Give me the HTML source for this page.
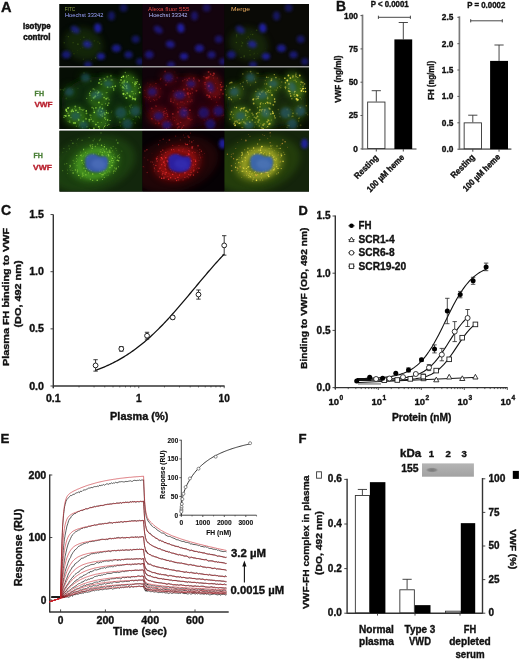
<!DOCTYPE html>
<html><head><meta charset="utf-8"><style>
html,body{margin:0;padding:0;background:#fff;}
svg{display:block;filter:blur(0.35px);}
text{font-family:"Liberation Sans", sans-serif;font-weight:bold;fill:#111;stroke:#111;stroke-width:0.35px;}
</style></head><body>
<svg width="520" height="659" viewBox="0 0 520 659">
<text x="0.90" y="11.60" font-size="14.6">A</text>
<text x="335.90" y="10.80" font-size="13.9">B</text>
<text x="1.00" y="215.40" font-size="14.0">C</text>
<text x="298.60" y="215.00" font-size="12.9">D</text>
<text x="0.50" y="442.80" font-size="13.3">E</text>
<text x="298.60" y="442.60" font-size="13.2">F</text>
<line x1="362.50" y1="14.60" x2="362.50" y2="149.80" stroke="#7a7a7a" stroke-width="1.7"/>
<line x1="362.50" y1="149.00" x2="416.50" y2="149.00" stroke="#7a7a7a" stroke-width="1.7"/>
<line x1="360.50" y1="15.60" x2="362.50" y2="15.60" stroke="#555" stroke-width="1.0"/>
<text x="357.90" y="18.55" font-size="8.3" text-anchor="end">100</text>
<line x1="360.50" y1="48.90" x2="362.50" y2="48.90" stroke="#555" stroke-width="1.0"/>
<text x="357.90" y="51.85" font-size="8.3" text-anchor="end">75</text>
<line x1="360.50" y1="82.20" x2="362.50" y2="82.20" stroke="#555" stroke-width="1.0"/>
<text x="357.90" y="85.15" font-size="8.3" text-anchor="end">50</text>
<line x1="360.50" y1="115.50" x2="362.50" y2="115.50" stroke="#555" stroke-width="1.0"/>
<text x="357.90" y="118.45" font-size="8.3" text-anchor="end">25</text>
<line x1="360.50" y1="148.90" x2="362.50" y2="148.90" stroke="#555" stroke-width="1.0"/>
<text x="357.90" y="151.85" font-size="8.3" text-anchor="end">0</text>
<line x1="376.30" y1="149.00" x2="376.30" y2="151.50" stroke="#333" stroke-width="0.9"/>
<line x1="403.30" y1="149.00" x2="403.30" y2="151.50" stroke="#333" stroke-width="0.9"/>
<line x1="376.30" y1="101.60" x2="376.30" y2="90.70" stroke="#333" stroke-width="0.9"/>
<line x1="371.70" y1="90.70" x2="380.90" y2="90.70" stroke="#333" stroke-width="0.9"/>
<rect x="367.65" y="102.05" width="17.30" height="46.50" fill="#fff" stroke="#333" stroke-width="0.9"/>
<line x1="403.30" y1="39.40" x2="403.30" y2="22.50" stroke="#333" stroke-width="0.9"/>
<line x1="398.70" y1="22.50" x2="407.90" y2="22.50" stroke="#333" stroke-width="0.9"/>
<rect x="394.40" y="39.40" width="17.80" height="109.60" fill="#000"/>
<line x1="378.40" y1="17.30" x2="410.40" y2="17.30" stroke="#333" stroke-width="0.9"/>
<line x1="378.40" y1="15.70" x2="378.40" y2="18.90" stroke="#333" stroke-width="0.9"/>
<line x1="410.40" y1="15.70" x2="410.40" y2="18.90" stroke="#333" stroke-width="0.9"/>
<text x="370.70" y="6.90" font-size="8.3" textLength="38.00" lengthAdjust="spacingAndGlyphs">P &lt; 0.0001</text>
<text x="340.70" y="79.20" font-size="8.4" text-anchor="middle" textLength="47.30" lengthAdjust="spacingAndGlyphs" transform="rotate(-90 340.70 79.20)">VWF (ng/ml)</text>
<line x1="459.40" y1="16.30" x2="459.40" y2="150.00" stroke="#7a7a7a" stroke-width="1.7"/>
<line x1="459.40" y1="149.20" x2="511.40" y2="149.20" stroke="#7a7a7a" stroke-width="1.7"/>
<line x1="457.40" y1="17.30" x2="459.40" y2="17.30" stroke="#555" stroke-width="1.0"/>
<text x="453.40" y="20.25" font-size="8.3" text-anchor="end">2.5</text>
<line x1="457.40" y1="43.70" x2="459.40" y2="43.70" stroke="#555" stroke-width="1.0"/>
<text x="453.40" y="46.65" font-size="8.3" text-anchor="end">2.0</text>
<line x1="457.40" y1="70.00" x2="459.40" y2="70.00" stroke="#555" stroke-width="1.0"/>
<text x="453.40" y="72.95" font-size="8.3" text-anchor="end">1.5</text>
<line x1="457.40" y1="96.40" x2="459.40" y2="96.40" stroke="#555" stroke-width="1.0"/>
<text x="453.40" y="99.35" font-size="8.3" text-anchor="end">1.0</text>
<line x1="457.40" y1="122.80" x2="459.40" y2="122.80" stroke="#555" stroke-width="1.0"/>
<text x="453.40" y="125.75" font-size="8.3" text-anchor="end">0.5</text>
<line x1="457.40" y1="149.20" x2="459.40" y2="149.20" stroke="#555" stroke-width="1.0"/>
<text x="453.40" y="152.15" font-size="8.3" text-anchor="end">0.0</text>
<line x1="472.80" y1="149.20" x2="472.80" y2="151.70" stroke="#333" stroke-width="0.9"/>
<line x1="499.05" y1="149.20" x2="499.05" y2="151.70" stroke="#333" stroke-width="0.9"/>
<line x1="472.80" y1="122.40" x2="472.80" y2="115.20" stroke="#333" stroke-width="0.9"/>
<line x1="468.20" y1="115.20" x2="477.40" y2="115.20" stroke="#333" stroke-width="0.9"/>
<rect x="464.15" y="122.85" width="17.30" height="25.90" fill="#fff" stroke="#333" stroke-width="0.9"/>
<line x1="499.05" y1="60.90" x2="499.05" y2="45.00" stroke="#333" stroke-width="0.9"/>
<line x1="494.45" y1="45.00" x2="503.65" y2="45.00" stroke="#333" stroke-width="0.9"/>
<rect x="490.10" y="60.90" width="17.90" height="88.30" fill="#000"/>
<line x1="470.70" y1="20.80" x2="502.30" y2="20.80" stroke="#333" stroke-width="0.9"/>
<line x1="470.70" y1="19.20" x2="470.70" y2="22.40" stroke="#333" stroke-width="0.9"/>
<line x1="502.30" y1="19.20" x2="502.30" y2="22.40" stroke="#333" stroke-width="0.9"/>
<text x="467.20" y="7.80" font-size="8.3" textLength="38.10" lengthAdjust="spacingAndGlyphs">P = 0.0002</text>
<text x="433.70" y="80.40" font-size="8.4" text-anchor="middle" textLength="38.90" lengthAdjust="spacingAndGlyphs" transform="rotate(-90 433.70 80.40)">FH (ng/ml)</text>
<text x="378.80" y="158.30" font-size="8.7" text-anchor="end" textLength="30.00" lengthAdjust="spacingAndGlyphs" transform="rotate(-45 378.80 158.30)">Resting</text>
<text x="404.80" y="158.00" font-size="8.7" text-anchor="end" textLength="49.00" lengthAdjust="spacingAndGlyphs" transform="rotate(-45 404.80 158.00)">100 µM heme</text>
<text x="475.30" y="157.60" font-size="8.7" text-anchor="end" textLength="30.00" lengthAdjust="spacingAndGlyphs" transform="rotate(-45 475.30 157.60)">Resting</text>
<text x="500.80" y="157.40" font-size="8.7" text-anchor="end" textLength="49.00" lengthAdjust="spacingAndGlyphs" transform="rotate(-45 500.80 157.40)">100 µM heme</text>
<line x1="53.30" y1="214.40" x2="53.30" y2="388.20" stroke="#333" stroke-width="1.4"/>
<line x1="53.30" y1="386.00" x2="224.60" y2="386.00" stroke="#333" stroke-width="1.4"/>
<line x1="50.50" y1="214.55" x2="53.30" y2="214.55" stroke="#333" stroke-width="0.9"/>
<text x="44.00" y="218.05" font-size="10.2" text-anchor="end" textLength="14.80" lengthAdjust="spacingAndGlyphs">1.5</text>
<line x1="50.50" y1="271.70" x2="53.30" y2="271.70" stroke="#333" stroke-width="0.9"/>
<text x="44.00" y="275.20" font-size="10.2" text-anchor="end" textLength="14.80" lengthAdjust="spacingAndGlyphs">1.0</text>
<line x1="50.50" y1="328.85" x2="53.30" y2="328.85" stroke="#333" stroke-width="0.9"/>
<text x="44.00" y="332.35" font-size="10.2" text-anchor="end" textLength="14.80" lengthAdjust="spacingAndGlyphs">0.5</text>
<line x1="50.50" y1="386.00" x2="53.30" y2="386.00" stroke="#333" stroke-width="0.9"/>
<text x="44.00" y="389.50" font-size="10.2" text-anchor="end" textLength="14.80" lengthAdjust="spacingAndGlyphs">0.0</text>
<line x1="53.30" y1="386.00" x2="53.30" y2="388.20" stroke="#333" stroke-width="0.8"/>
<line x1="79.02" y1="386.00" x2="79.02" y2="387.40" stroke="#333" stroke-width="0.8"/>
<line x1="94.07" y1="386.00" x2="94.07" y2="387.40" stroke="#333" stroke-width="0.8"/>
<line x1="104.75" y1="386.00" x2="104.75" y2="387.40" stroke="#333" stroke-width="0.8"/>
<line x1="113.03" y1="386.00" x2="113.03" y2="387.40" stroke="#333" stroke-width="0.8"/>
<line x1="119.79" y1="386.00" x2="119.79" y2="387.40" stroke="#333" stroke-width="0.8"/>
<line x1="125.51" y1="386.00" x2="125.51" y2="387.40" stroke="#333" stroke-width="0.8"/>
<line x1="130.47" y1="386.00" x2="130.47" y2="387.40" stroke="#333" stroke-width="0.8"/>
<line x1="134.84" y1="386.00" x2="134.84" y2="387.40" stroke="#333" stroke-width="0.8"/>
<line x1="138.75" y1="386.00" x2="138.75" y2="388.20" stroke="#333" stroke-width="0.8"/>
<line x1="164.47" y1="386.00" x2="164.47" y2="387.40" stroke="#333" stroke-width="0.8"/>
<line x1="179.52" y1="386.00" x2="179.52" y2="387.40" stroke="#333" stroke-width="0.8"/>
<line x1="190.20" y1="386.00" x2="190.20" y2="387.40" stroke="#333" stroke-width="0.8"/>
<line x1="198.48" y1="386.00" x2="198.48" y2="387.40" stroke="#333" stroke-width="0.8"/>
<line x1="205.24" y1="386.00" x2="205.24" y2="387.40" stroke="#333" stroke-width="0.8"/>
<line x1="210.96" y1="386.00" x2="210.96" y2="387.40" stroke="#333" stroke-width="0.8"/>
<line x1="215.92" y1="386.00" x2="215.92" y2="387.40" stroke="#333" stroke-width="0.8"/>
<line x1="220.29" y1="386.00" x2="220.29" y2="387.40" stroke="#333" stroke-width="0.8"/>
<line x1="224.20" y1="386.00" x2="224.20" y2="388.20" stroke="#333" stroke-width="0.8"/>
<text x="53.30" y="401.80" font-size="10.2" text-anchor="middle" textLength="14.60" lengthAdjust="spacingAndGlyphs">0.1</text>
<text x="138.75" y="401.80" font-size="10.2" text-anchor="middle">1</text>
<text x="224.20" y="401.80" font-size="10.2" text-anchor="middle" textLength="11.20" lengthAdjust="spacingAndGlyphs">10</text>
<text x="139.20" y="419.80" font-size="10.4" text-anchor="middle" textLength="58.20" lengthAdjust="spacingAndGlyphs">Plasma (%)</text>
<text x="8.60" y="297.00" font-size="9.6" text-anchor="middle" textLength="138.20" lengthAdjust="spacingAndGlyphs" transform="rotate(-90 8.60 297.00)">Plasma FH binding to VWF</text>
<text x="20.50" y="294.00" font-size="9.6" text-anchor="middle" textLength="67.10" lengthAdjust="spacingAndGlyphs" transform="rotate(-90 20.50 294.00)">(DO, 492 nm)</text>
<path d="M95.58,370.34 L96.87,369.88 L98.16,369.40 L99.44,368.91 L100.73,368.41 L102.02,367.89 L103.30,367.36 L104.59,366.82 L105.87,366.26 L107.16,365.69 L108.45,365.11 L109.73,364.51 L111.02,363.89 L112.30,363.26 L113.59,362.61 L114.88,361.95 L116.16,361.27 L117.45,360.58 L118.74,359.87 L120.02,359.14 L121.31,358.39 L122.59,357.63 L123.88,356.85 L125.17,356.05 L126.45,355.24 L127.74,354.41 L129.02,353.56 L130.31,352.69 L131.60,351.80 L132.88,350.89 L134.17,349.97 L135.46,349.03 L136.74,348.06 L138.03,347.08 L139.31,346.08 L140.60,345.07 L141.89,344.03 L143.17,342.97 L144.46,341.90 L145.74,340.80 L147.03,339.69 L148.32,338.56 L149.60,337.41 L150.89,336.24 L152.18,335.05 L153.46,333.85 L154.75,332.62 L156.03,331.38 L157.32,330.13 L158.61,328.85 L159.89,327.56 L161.18,326.25 L162.46,324.93 L163.75,323.59 L165.04,322.23 L166.32,320.86 L167.61,319.48 L168.90,318.08 L170.18,316.66 L171.47,315.24 L172.75,313.80 L174.04,312.35 L175.33,310.89 L176.61,309.42 L177.90,307.94 L179.18,306.45 L180.47,304.95 L181.76,303.44 L183.04,301.93 L184.33,300.41 L185.62,298.88 L186.90,297.35 L188.19,295.82 L189.47,294.28 L190.76,292.73 L192.05,291.19 L193.33,289.65 L194.62,288.10 L195.90,286.55 L197.19,285.01 L198.48,283.47 L199.76,281.93 L201.05,280.39 L202.34,278.86 L203.62,277.34 L204.91,275.81 L206.19,274.30 L207.48,272.79 L208.77,271.29 L210.05,269.80 L211.34,268.32 L212.62,266.85 L213.91,265.39 L215.20,263.94 L216.48,262.50 L217.77,261.08 L219.06,259.66 L220.34,258.26 L221.63,256.88 L222.91,255.51 L224.20,254.15" stroke="#111" stroke-width="1.3" fill="none"/>
<line x1="95.58" y1="359.71" x2="95.58" y2="371.14" stroke="#222" stroke-width="0.9"/>
<line x1="93.38" y1="359.71" x2="97.78" y2="359.71" stroke="#222" stroke-width="0.9"/>
<line x1="93.38" y1="371.14" x2="97.78" y2="371.14" stroke="#222" stroke-width="0.9"/>
<circle cx="95.58" cy="365.43" r="2.4" fill="#fff" stroke="#222" stroke-width="1.0"/>
<line x1="119.11" y1="346.57" x2="123.51" y2="346.57" stroke="#222" stroke-width="0.9"/>
<line x1="119.11" y1="351.14" x2="123.51" y2="351.14" stroke="#222" stroke-width="0.9"/>
<circle cx="121.31" cy="348.85" r="2.4" fill="#fff" stroke="#222" stroke-width="1.0"/>
<line x1="147.03" y1="332.28" x2="147.03" y2="339.14" stroke="#222" stroke-width="0.9"/>
<line x1="144.83" y1="332.28" x2="149.23" y2="332.28" stroke="#222" stroke-width="0.9"/>
<line x1="144.83" y1="339.14" x2="149.23" y2="339.14" stroke="#222" stroke-width="0.9"/>
<circle cx="147.03" cy="335.71" r="2.4" fill="#fff" stroke="#222" stroke-width="1.0"/>
<line x1="170.55" y1="315.71" x2="174.95" y2="315.71" stroke="#222" stroke-width="0.9"/>
<line x1="170.55" y1="319.13" x2="174.95" y2="319.13" stroke="#222" stroke-width="0.9"/>
<circle cx="172.75" cy="317.42" r="2.4" fill="#fff" stroke="#222" stroke-width="1.0"/>
<line x1="198.48" y1="289.99" x2="198.48" y2="299.13" stroke="#222" stroke-width="0.9"/>
<line x1="196.28" y1="289.99" x2="200.68" y2="289.99" stroke="#222" stroke-width="0.9"/>
<line x1="196.28" y1="299.13" x2="200.68" y2="299.13" stroke="#222" stroke-width="0.9"/>
<circle cx="198.48" cy="294.56" r="2.4" fill="#fff" stroke="#222" stroke-width="1.0"/>
<line x1="224.20" y1="235.70" x2="224.20" y2="255.13" stroke="#222" stroke-width="0.9"/>
<line x1="222.00" y1="235.70" x2="226.40" y2="235.70" stroke="#222" stroke-width="0.9"/>
<line x1="222.00" y1="255.13" x2="226.40" y2="255.13" stroke="#222" stroke-width="0.9"/>
<circle cx="224.20" cy="245.41" r="2.4" fill="#fff" stroke="#222" stroke-width="1.0"/>
<line x1="335.30" y1="215.50" x2="335.30" y2="389.10" stroke="#333" stroke-width="1.4"/>
<line x1="335.30" y1="387.60" x2="507.60" y2="387.60" stroke="#333" stroke-width="1.4"/>
<line x1="332.50" y1="216.00" x2="335.30" y2="216.00" stroke="#333" stroke-width="0.9"/>
<text x="330.60" y="219.30" font-size="10.8" text-anchor="end" textLength="14.00" lengthAdjust="spacingAndGlyphs">1.5</text>
<line x1="332.50" y1="273.20" x2="335.30" y2="273.20" stroke="#333" stroke-width="0.9"/>
<text x="330.60" y="276.50" font-size="10.8" text-anchor="end" textLength="14.00" lengthAdjust="spacingAndGlyphs">1.0</text>
<line x1="332.50" y1="330.40" x2="335.30" y2="330.40" stroke="#333" stroke-width="0.9"/>
<text x="330.60" y="333.70" font-size="10.8" text-anchor="end" textLength="14.00" lengthAdjust="spacingAndGlyphs">0.5</text>
<line x1="332.50" y1="387.60" x2="335.30" y2="387.60" stroke="#333" stroke-width="0.9"/>
<text x="330.60" y="390.90" font-size="10.8" text-anchor="end" textLength="14.00" lengthAdjust="spacingAndGlyphs">0.0</text>
<line x1="335.30" y1="387.60" x2="335.30" y2="390.00" stroke="#333" stroke-width="0.8"/>
<line x1="348.24" y1="387.60" x2="348.24" y2="389.10" stroke="#333" stroke-width="0.8"/>
<line x1="355.82" y1="387.60" x2="355.82" y2="389.10" stroke="#333" stroke-width="0.8"/>
<line x1="361.19" y1="387.60" x2="361.19" y2="389.10" stroke="#333" stroke-width="0.8"/>
<line x1="365.36" y1="387.60" x2="365.36" y2="389.10" stroke="#333" stroke-width="0.8"/>
<line x1="368.76" y1="387.60" x2="368.76" y2="389.10" stroke="#333" stroke-width="0.8"/>
<line x1="371.64" y1="387.60" x2="371.64" y2="389.10" stroke="#333" stroke-width="0.8"/>
<line x1="374.13" y1="387.60" x2="374.13" y2="389.10" stroke="#333" stroke-width="0.8"/>
<line x1="376.33" y1="387.60" x2="376.33" y2="389.10" stroke="#333" stroke-width="0.8"/>
<line x1="378.30" y1="387.60" x2="378.30" y2="390.00" stroke="#333" stroke-width="0.8"/>
<line x1="391.24" y1="387.60" x2="391.24" y2="389.10" stroke="#333" stroke-width="0.8"/>
<line x1="398.82" y1="387.60" x2="398.82" y2="389.10" stroke="#333" stroke-width="0.8"/>
<line x1="404.19" y1="387.60" x2="404.19" y2="389.10" stroke="#333" stroke-width="0.8"/>
<line x1="408.36" y1="387.60" x2="408.36" y2="389.10" stroke="#333" stroke-width="0.8"/>
<line x1="411.76" y1="387.60" x2="411.76" y2="389.10" stroke="#333" stroke-width="0.8"/>
<line x1="414.64" y1="387.60" x2="414.64" y2="389.10" stroke="#333" stroke-width="0.8"/>
<line x1="417.13" y1="387.60" x2="417.13" y2="389.10" stroke="#333" stroke-width="0.8"/>
<line x1="419.33" y1="387.60" x2="419.33" y2="389.10" stroke="#333" stroke-width="0.8"/>
<line x1="421.30" y1="387.60" x2="421.30" y2="390.00" stroke="#333" stroke-width="0.8"/>
<line x1="434.24" y1="387.60" x2="434.24" y2="389.10" stroke="#333" stroke-width="0.8"/>
<line x1="441.82" y1="387.60" x2="441.82" y2="389.10" stroke="#333" stroke-width="0.8"/>
<line x1="447.19" y1="387.60" x2="447.19" y2="389.10" stroke="#333" stroke-width="0.8"/>
<line x1="451.36" y1="387.60" x2="451.36" y2="389.10" stroke="#333" stroke-width="0.8"/>
<line x1="454.76" y1="387.60" x2="454.76" y2="389.10" stroke="#333" stroke-width="0.8"/>
<line x1="457.64" y1="387.60" x2="457.64" y2="389.10" stroke="#333" stroke-width="0.8"/>
<line x1="460.13" y1="387.60" x2="460.13" y2="389.10" stroke="#333" stroke-width="0.8"/>
<line x1="462.33" y1="387.60" x2="462.33" y2="389.10" stroke="#333" stroke-width="0.8"/>
<line x1="464.30" y1="387.60" x2="464.30" y2="390.00" stroke="#333" stroke-width="0.8"/>
<line x1="477.24" y1="387.60" x2="477.24" y2="389.10" stroke="#333" stroke-width="0.8"/>
<line x1="484.82" y1="387.60" x2="484.82" y2="389.10" stroke="#333" stroke-width="0.8"/>
<line x1="490.19" y1="387.60" x2="490.19" y2="389.10" stroke="#333" stroke-width="0.8"/>
<line x1="494.36" y1="387.60" x2="494.36" y2="389.10" stroke="#333" stroke-width="0.8"/>
<line x1="497.76" y1="387.60" x2="497.76" y2="389.10" stroke="#333" stroke-width="0.8"/>
<line x1="500.64" y1="387.60" x2="500.64" y2="389.10" stroke="#333" stroke-width="0.8"/>
<line x1="503.13" y1="387.60" x2="503.13" y2="389.10" stroke="#333" stroke-width="0.8"/>
<line x1="505.33" y1="387.60" x2="505.33" y2="389.10" stroke="#333" stroke-width="0.8"/>
<line x1="507.30" y1="387.60" x2="507.30" y2="390.00" stroke="#333" stroke-width="0.8"/>
<text x="339.10" y="404.80" font-size="9.9" text-anchor="end" textLength="10.60" lengthAdjust="spacingAndGlyphs">10</text>
<text x="339.50" y="399.90" font-size="6.6">0</text>
<text x="382.10" y="404.80" font-size="9.9" text-anchor="end" textLength="10.60" lengthAdjust="spacingAndGlyphs">10</text>
<text x="382.50" y="399.90" font-size="6.6">1</text>
<text x="425.10" y="404.80" font-size="9.9" text-anchor="end" textLength="10.60" lengthAdjust="spacingAndGlyphs">10</text>
<text x="425.50" y="399.90" font-size="6.6">2</text>
<text x="468.10" y="404.80" font-size="9.9" text-anchor="end" textLength="10.60" lengthAdjust="spacingAndGlyphs">10</text>
<text x="468.50" y="399.90" font-size="6.6">3</text>
<text x="511.10" y="404.80" font-size="9.9" text-anchor="end" textLength="10.60" lengthAdjust="spacingAndGlyphs">10</text>
<text x="511.50" y="399.90" font-size="6.6">4</text>
<text x="421.70" y="420.60" font-size="10.4" text-anchor="middle" textLength="59.60" lengthAdjust="spacingAndGlyphs">Protein (nM)</text>
<text x="307.40" y="298.30" font-size="9.4" text-anchor="middle" textLength="141.30" lengthAdjust="spacingAndGlyphs" transform="rotate(-90 307.40 298.30)">Binding to VWF (OD, 492 nm)</text>
<text x="358.50" y="229.20" font-size="10.2" textLength="13.00" lengthAdjust="spacingAndGlyphs">FH</text>
<text x="358.50" y="243.00" font-size="10.2" textLength="36.10" lengthAdjust="spacingAndGlyphs">SCR1-4</text>
<text x="358.50" y="256.20" font-size="10.2" textLength="36.10" lengthAdjust="spacingAndGlyphs">SCR6-8</text>
<text x="358.50" y="269.60" font-size="10.2" textLength="47.70" lengthAdjust="spacingAndGlyphs">SCR19-20</text>
<line x1="348.30" y1="225.80" x2="354.70" y2="225.80" stroke="#222" stroke-width="0.9"/>
<circle cx="351.50" cy="225.80" r="2.3" fill="#000"/>
<line x1="348.30" y1="239.70" x2="354.70" y2="239.70" stroke="#222" stroke-width="0.9"/>
<path d="M351.50,237.10 L354.00,241.60 L349.00,241.60 Z" fill="#fff" stroke="#222" stroke-width="0.9"/>
<line x1="348.30" y1="252.80" x2="354.70" y2="252.80" stroke="#222" stroke-width="0.9"/>
<circle cx="351.50" cy="252.80" r="2.3" fill="#fff" stroke="#222" stroke-width="0.9"/>
<line x1="348.30" y1="266.20" x2="354.70" y2="266.20" stroke="#222" stroke-width="0.9"/>
<rect x="349.30" y="264.00" width="4.40" height="4.40" fill="#fff" stroke="#222" stroke-width="0.9"/>
<path d="M356.70,378.61 L358.34,378.58 L359.98,378.55 L361.61,378.52 L363.25,378.48 L364.89,378.44 L366.53,378.39 L368.17,378.34 L369.80,378.28 L371.44,378.22 L373.08,378.14 L374.72,378.06 L376.36,377.97 L377.99,377.86 L379.63,377.75 L381.27,377.62 L382.91,377.47 L384.55,377.31 L386.18,377.12 L387.82,376.92 L389.46,376.69 L391.10,376.43 L392.74,376.14 L394.37,375.82 L396.01,375.47 L397.65,375.07 L399.29,374.62 L400.93,374.12 L402.56,373.57 L404.20,372.96 L405.84,372.28 L407.48,371.52 L409.12,370.69 L410.75,369.77 L412.39,368.75 L414.03,367.63 L415.67,366.40 L417.31,365.05 L418.94,363.58 L420.58,361.98 L422.22,360.24 L423.86,358.35 L425.49,356.32 L427.13,354.14 L428.77,351.81 L430.41,349.34 L432.05,346.71 L433.68,343.95 L435.32,341.06 L436.96,338.05 L438.60,334.93 L440.24,331.72 L441.87,328.45 L443.51,325.12 L445.15,321.77 L446.79,318.41 L448.43,315.07 L450.06,311.76 L451.70,308.52 L453.34,305.36 L454.98,302.29 L456.62,299.34 L458.25,296.51 L459.89,293.81 L461.53,291.26 L463.17,288.86 L464.81,286.60 L466.44,284.50 L468.08,282.54 L469.72,280.73 L471.36,279.06 L473.00,277.52 L474.63,276.11 L476.27,274.82 L477.91,273.65 L479.55,272.58 L481.19,271.61 L482.82,270.73 L484.46,269.94 L486.10,269.22" stroke="#111" stroke-width="1.1" fill="none"/>
<path d="M357.00,379.39 L358.40,379.39 L359.80,379.39 L361.20,379.38 L362.60,379.38 L364.00,379.37 L365.40,379.36 L366.80,379.35 L368.20,379.34 L369.60,379.33 L371.00,379.32 L372.40,379.31 L373.80,379.30 L375.20,379.28 L376.60,379.26 L378.00,379.24 L379.40,379.22 L380.80,379.19 L382.20,379.16 L383.60,379.13 L385.00,379.09 L386.40,379.05 L387.80,379.00 L389.20,378.95 L390.60,378.89 L392.00,378.82 L393.40,378.75 L394.80,378.66 L396.20,378.57 L397.60,378.46 L399.00,378.34 L400.40,378.21 L401.80,378.06 L403.20,377.89 L404.60,377.70 L406.00,377.49 L407.40,377.25 L408.80,376.99 L410.20,376.70 L411.60,376.37 L413.00,376.00 L414.40,375.59 L415.80,375.14 L417.20,374.63 L418.60,374.08 L420.00,373.46 L421.40,372.77 L422.80,372.02 L424.20,371.19 L425.60,370.29 L427.00,369.29 L428.40,368.21 L429.80,367.04 L431.20,365.77 L432.60,364.40 L434.00,362.92 L435.40,361.35 L436.80,359.68 L438.20,357.92 L439.60,356.06 L441.00,354.12 L442.40,352.10 L443.80,350.02 L445.20,347.88 L446.60,345.71 L448.00,343.51 L449.40,341.30 L450.80,339.09 L452.20,336.91 L453.60,334.76 L455.00,332.66 L456.40,330.62 L457.80,328.65 L459.20,326.76 L460.60,324.97 L462.00,323.26 L463.40,321.66 L464.80,320.15 L466.20,318.75 L467.60,317.45" stroke="#111" stroke-width="1.1" fill="none"/>
<path d="M357.00,380.35 L358.50,380.34 L360.00,380.34 L361.50,380.34 L362.99,380.34 L364.49,380.34 L365.99,380.34 L367.49,380.33 L368.99,380.33 L370.49,380.33 L371.99,380.32 L373.49,380.32 L374.98,380.31 L376.48,380.31 L377.98,380.30 L379.48,380.29 L380.98,380.28 L382.48,380.27 L383.98,380.26 L385.48,380.25 L386.97,380.23 L388.47,380.21 L389.97,380.19 L391.47,380.17 L392.97,380.14 L394.47,380.11 L395.97,380.08 L397.47,380.04 L398.96,379.99 L400.46,379.94 L401.96,379.88 L403.46,379.82 L404.96,379.74 L406.46,379.65 L407.96,379.55 L409.46,379.43 L410.95,379.30 L412.45,379.15 L413.95,378.98 L415.45,378.79 L416.95,378.56 L418.45,378.31 L419.95,378.03 L421.45,377.70 L422.94,377.33 L424.44,376.92 L425.94,376.45 L427.44,375.92 L428.94,375.32 L430.44,374.66 L431.94,373.91 L433.44,373.08 L434.93,372.15 L436.43,371.12 L437.93,369.99 L439.43,368.75 L440.93,367.39 L442.43,365.92 L443.93,364.33 L445.43,362.62 L446.92,360.80 L448.42,358.87 L449.92,356.85 L451.42,354.75 L452.92,352.58 L454.42,350.37 L455.92,348.12 L457.42,345.86 L458.91,343.61 L460.41,341.39 L461.91,339.23 L463.41,337.13 L464.91,335.11 L466.41,333.19 L467.91,331.37 L469.41,329.66 L470.90,328.07 L472.40,326.60 L473.90,325.25 L475.40,324.01" stroke="#111" stroke-width="1.1" fill="none"/>
<line x1="357.00" y1="382.60" x2="475.40" y2="377.40" stroke="#111" stroke-width="1.0"/>
<line x1="358.00" y1="383.90" x2="381.00" y2="383.90" stroke="#999" stroke-width="1.6"/>
<path d="M423.50,376.00 L426.10,380.70 L420.90,380.70 Z" fill="#fff" stroke="#222" stroke-width="0.9"/>
<path d="M436.30,377.10 L438.90,381.80 L433.70,381.80 Z" fill="#fff" stroke="#222" stroke-width="0.9"/>
<path d="M449.20,374.30 L451.80,379.00 L446.60,379.00 Z" fill="#fff" stroke="#222" stroke-width="0.9"/>
<path d="M462.30,375.80 L464.90,380.50 L459.70,380.50 Z" fill="#fff" stroke="#222" stroke-width="0.9"/>
<path d="M475.40,374.30 L478.00,379.00 L472.80,379.00 Z" fill="#fff" stroke="#222" stroke-width="0.9"/>
<rect x="382.00" y="377.90" width="4.60" height="4.60" fill="#fff" stroke="#222" stroke-width="0.9"/>
<rect x="395.00" y="377.70" width="4.60" height="4.60" fill="#fff" stroke="#222" stroke-width="0.9"/>
<rect x="408.00" y="376.60" width="4.60" height="4.60" fill="#fff" stroke="#222" stroke-width="0.9"/>
<line x1="423.30" y1="374.10" x2="423.30" y2="379.10" stroke="#222" stroke-width="0.8"/>
<line x1="421.10" y1="374.10" x2="425.50" y2="374.10" stroke="#222" stroke-width="0.8"/>
<line x1="421.10" y1="379.10" x2="425.50" y2="379.10" stroke="#222" stroke-width="0.8"/>
<rect x="421.00" y="374.30" width="4.60" height="4.60" fill="#fff" stroke="#222" stroke-width="0.9"/>
<rect x="433.90" y="368.30" width="4.60" height="4.60" fill="#fff" stroke="#222" stroke-width="0.9"/>
<rect x="446.90" y="357.00" width="4.60" height="4.60" fill="#fff" stroke="#222" stroke-width="0.9"/>
<rect x="459.90" y="335.40" width="4.60" height="4.60" fill="#fff" stroke="#222" stroke-width="0.9"/>
<rect x="473.10" y="322.10" width="4.60" height="4.60" fill="#fff" stroke="#222" stroke-width="0.9"/>
<circle cx="376.10" cy="379.00" r="2.5" fill="#fff" stroke="#222" stroke-width="0.9"/>
<circle cx="389.40" cy="378.50" r="2.5" fill="#fff" stroke="#222" stroke-width="0.9"/>
<circle cx="403.00" cy="377.10" r="2.5" fill="#fff" stroke="#222" stroke-width="0.9"/>
<circle cx="415.80" cy="374.00" r="2.5" fill="#fff" stroke="#222" stroke-width="0.9"/>
<line x1="429.00" y1="364.60" x2="429.00" y2="370.60" stroke="#222" stroke-width="0.8"/>
<line x1="426.80" y1="364.60" x2="431.20" y2="364.60" stroke="#222" stroke-width="0.8"/>
<line x1="426.80" y1="370.60" x2="431.20" y2="370.60" stroke="#222" stroke-width="0.8"/>
<circle cx="429.00" cy="367.60" r="2.5" fill="#fff" stroke="#222" stroke-width="0.9"/>
<line x1="441.80" y1="348.40" x2="441.80" y2="360.80" stroke="#222" stroke-width="0.8"/>
<line x1="439.60" y1="348.40" x2="444.00" y2="348.40" stroke="#222" stroke-width="0.8"/>
<line x1="439.60" y1="360.80" x2="444.00" y2="360.80" stroke="#222" stroke-width="0.8"/>
<circle cx="441.80" cy="354.60" r="2.5" fill="#fff" stroke="#222" stroke-width="0.9"/>
<line x1="454.70" y1="321.60" x2="454.70" y2="341.60" stroke="#222" stroke-width="0.8"/>
<line x1="452.50" y1="321.60" x2="456.90" y2="321.60" stroke="#222" stroke-width="0.8"/>
<line x1="452.50" y1="341.60" x2="456.90" y2="341.60" stroke="#222" stroke-width="0.8"/>
<circle cx="454.70" cy="331.60" r="2.5" fill="#fff" stroke="#222" stroke-width="0.9"/>
<line x1="467.60" y1="309.50" x2="467.60" y2="326.50" stroke="#222" stroke-width="0.8"/>
<line x1="465.40" y1="309.50" x2="469.80" y2="309.50" stroke="#222" stroke-width="0.8"/>
<line x1="465.40" y1="326.50" x2="469.80" y2="326.50" stroke="#222" stroke-width="0.8"/>
<circle cx="467.60" cy="318.00" r="2.5" fill="#fff" stroke="#222" stroke-width="0.9"/>
<circle cx="356.70" cy="381.10" r="2.5" fill="#000"/>
<circle cx="369.70" cy="377.30" r="2.5" fill="#000"/>
<circle cx="382.60" cy="378.30" r="2.5" fill="#000"/>
<circle cx="395.80" cy="373.20" r="2.5" fill="#000"/>
<line x1="408.50" y1="367.90" x2="408.50" y2="371.90" stroke="#222" stroke-width="0.8"/>
<line x1="406.30" y1="367.90" x2="410.70" y2="367.90" stroke="#222" stroke-width="0.8"/>
<line x1="406.30" y1="371.90" x2="410.70" y2="371.90" stroke="#222" stroke-width="0.8"/>
<circle cx="408.50" cy="369.90" r="2.5" fill="#000"/>
<line x1="421.50" y1="358.30" x2="421.50" y2="361.30" stroke="#222" stroke-width="0.8"/>
<line x1="419.30" y1="358.30" x2="423.70" y2="358.30" stroke="#222" stroke-width="0.8"/>
<line x1="419.30" y1="361.30" x2="423.70" y2="361.30" stroke="#222" stroke-width="0.8"/>
<circle cx="421.50" cy="359.80" r="2.5" fill="#000"/>
<line x1="434.50" y1="344.90" x2="434.50" y2="352.90" stroke="#222" stroke-width="0.8"/>
<line x1="432.30" y1="344.90" x2="436.70" y2="344.90" stroke="#222" stroke-width="0.8"/>
<line x1="432.30" y1="352.90" x2="436.70" y2="352.90" stroke="#222" stroke-width="0.8"/>
<circle cx="434.50" cy="348.90" r="2.5" fill="#000"/>
<line x1="447.30" y1="298.30" x2="447.30" y2="323.70" stroke="#222" stroke-width="0.8"/>
<line x1="445.10" y1="298.30" x2="449.50" y2="298.30" stroke="#222" stroke-width="0.8"/>
<line x1="445.10" y1="323.70" x2="449.50" y2="323.70" stroke="#222" stroke-width="0.8"/>
<circle cx="447.30" cy="311.00" r="2.5" fill="#000"/>
<line x1="460.20" y1="291.40" x2="460.20" y2="297.80" stroke="#222" stroke-width="0.8"/>
<line x1="458.00" y1="291.40" x2="462.40" y2="291.40" stroke="#222" stroke-width="0.8"/>
<line x1="458.00" y1="297.80" x2="462.40" y2="297.80" stroke="#222" stroke-width="0.8"/>
<circle cx="460.20" cy="294.60" r="2.5" fill="#000"/>
<line x1="473.10" y1="277.30" x2="473.10" y2="284.30" stroke="#222" stroke-width="0.8"/>
<line x1="470.90" y1="277.30" x2="475.30" y2="277.30" stroke="#222" stroke-width="0.8"/>
<line x1="470.90" y1="284.30" x2="475.30" y2="284.30" stroke="#222" stroke-width="0.8"/>
<circle cx="473.10" cy="280.80" r="2.5" fill="#000"/>
<line x1="486.10" y1="263.10" x2="486.10" y2="270.70" stroke="#222" stroke-width="0.8"/>
<line x1="483.90" y1="263.10" x2="488.30" y2="263.10" stroke="#222" stroke-width="0.8"/>
<line x1="483.90" y1="270.70" x2="488.30" y2="270.70" stroke="#222" stroke-width="0.8"/>
<circle cx="486.10" cy="266.90" r="2.5" fill="#000"/>
<line x1="49.70" y1="474.50" x2="49.70" y2="612.60" stroke="#333" stroke-width="1.4"/>
<line x1="49.70" y1="612.00" x2="228.70" y2="612.00" stroke="#333" stroke-width="1.4"/>
<line x1="49.70" y1="475.00" x2="52.30" y2="475.00" stroke="#333" stroke-width="0.9"/>
<text x="46.30" y="478.60" font-size="10.2" text-anchor="end" textLength="17.80" lengthAdjust="spacingAndGlyphs">200</text>
<line x1="49.70" y1="537.50" x2="52.30" y2="537.50" stroke="#333" stroke-width="0.9"/>
<text x="46.30" y="541.10" font-size="10.2" text-anchor="end" textLength="17.80" lengthAdjust="spacingAndGlyphs">100</text>
<line x1="49.70" y1="600.00" x2="52.30" y2="600.00" stroke="#333" stroke-width="0.9"/>
<text x="46.30" y="603.60" font-size="10.2" text-anchor="end">0</text>
<line x1="60.60" y1="612.00" x2="60.60" y2="609.40" stroke="#333" stroke-width="0.9"/>
<text x="60.60" y="623.90" font-size="10.2" text-anchor="middle">0</text>
<line x1="105.40" y1="612.00" x2="105.40" y2="609.40" stroke="#333" stroke-width="0.9"/>
<text x="105.40" y="623.90" font-size="10.2" text-anchor="middle" textLength="17.80" lengthAdjust="spacingAndGlyphs">200</text>
<line x1="150.20" y1="612.00" x2="150.20" y2="609.40" stroke="#333" stroke-width="0.9"/>
<text x="150.20" y="623.90" font-size="10.2" text-anchor="middle" textLength="17.80" lengthAdjust="spacingAndGlyphs">400</text>
<line x1="195.00" y1="612.00" x2="195.00" y2="609.40" stroke="#333" stroke-width="0.9"/>
<text x="195.00" y="623.90" font-size="10.2" text-anchor="middle" textLength="17.80" lengthAdjust="spacingAndGlyphs">600</text>
<text x="140.00" y="635.20" font-size="10.6" text-anchor="middle" textLength="54.00" lengthAdjust="spacingAndGlyphs">Time (sec)</text>
<text x="21.50" y="547.50" font-size="10.0" text-anchor="middle" textLength="77.50" lengthAdjust="spacingAndGlyphs" transform="rotate(-90 21.50 547.50)">Response (RU)</text>
<text x="231.00" y="556.60" font-size="10.5" textLength="35.00" lengthAdjust="spacingAndGlyphs">3.2 µM</text>
<text x="230.50" y="594.20" font-size="10.6" textLength="53.60" lengthAdjust="spacingAndGlyphs">0.0015 µM</text>
<line x1="244.40" y1="582.50" x2="244.40" y2="565.00" stroke="#111" stroke-width="1.1"/>
<path d="M244.4,560.6 L246.5,566.4 L242.3,566.4 Z" fill="#111"/>
<path d="M51.6,597.1 60.6,597.2 60.6,596.6 60.8,585.6 61.0,573.8 61.3,564.6 61.5,556.3 61.7,548.9 61.9,543.2 62.2,537.1 62.4,532.4 62.6,526.8 62.8,524.1 63.1,521.0 63.3,518.1 63.5,515.8 63.7,513.7 64.0,511.5 64.2,509.6 64.4,508.3 64.6,506.6 64.9,505.8 65.1,504.7 66.0,501.2 66.9,499.5 67.8,498.5 68.7,497.5 69.6,496.5 70.5,495.5 71.4,495.6 72.2,495.1 73.1,494.3 74.0,494.5 74.9,493.9 75.8,493.1 76.7,492.8 77.6,492.6 78.5,492.0 79.4,492.7 80.3,491.2 81.2,491.4 82.1,491.3 83.0,490.4 83.9,489.9 84.8,489.9 85.7,489.8 86.6,489.2 87.5,488.9 88.4,488.2 89.3,488.1 90.2,488.0 91.1,487.4 92.0,487.6 92.9,487.6 93.8,486.8 94.6,486.6 95.5,486.6 96.4,486.6 97.3,486.0 98.2,486.7 99.1,485.5 100.0,485.3 100.9,485.8 101.8,485.1 102.7,485.2 103.6,484.5 104.5,485.2 105.4,484.6 106.3,484.0 107.2,483.7 108.1,484.5 109.0,483.9 109.9,483.5 110.8,483.6 111.7,482.8 112.6,483.5 113.5,482.9 114.4,483.2 115.3,482.3 116.2,482.6 117.0,482.6 117.9,482.9 118.8,481.7 119.7,481.9 120.6,481.8 121.5,481.6 122.4,481.7 123.3,481.9 124.2,481.9 125.1,481.8 126.0,481.0 126.9,481.8 127.8,481.4 128.7,481.2 129.6,481.0 130.5,480.8 131.4,481.3 132.3,481.4 133.2,480.7 134.1,480.3 135.0,480.4 135.9,480.5 136.8,480.6 137.7,480.3 138.6,480.4 139.4,480.0 140.3,480.5 141.2,480.1 142.1,480.1 143.0,479.9 143.5,480.0 143.6,479.9 143.8,486.1 144.1,492.1 144.3,496.8 144.5,501.8 144.7,504.6 145.0,507.4 145.2,509.3 145.4,512.1 145.6,512.6 145.9,514.0 146.1,515.9 146.3,516.8 146.5,517.6 146.8,518.1 147.0,518.6 147.2,518.8 147.4,520.0 147.6,520.2 147.9,520.8 148.1,520.7 149.2,522.6 150.3,523.7 151.5,525.6 152.6,526.4 153.7,527.5 154.8,527.7 155.9,528.8 157.1,529.9 158.2,530.7 159.3,531.1 160.4,532.2 161.5,532.9 162.7,533.1 163.8,533.1 164.9,534.5 166.0,535.2 167.1,535.9 168.3,536.4 169.4,536.4 170.5,536.7 171.6,537.4 172.7,537.8 173.9,538.3 175.0,538.7 176.1,539.6 177.2,539.7 178.3,539.9 179.5,540.5 180.6,540.8 181.7,541.3 182.8,541.5 183.9,541.4 185.1,542.2 186.2,542.4 187.3,542.4 188.4,542.8 189.5,542.8 190.7,544.3 191.8,543.7 192.9,544.4 194.0,544.5 195.1,544.6 196.3,544.8 197.4,545.1 198.5,545.6 199.6,545.4 200.7,546.3 201.9,546.5 203.0,546.5 204.1,547.2 205.2,546.6 206.3,547.2 207.5,547.1 208.6,548.1 209.7,548.5 210.8,548.5 211.9,548.6 213.1,549.3 214.2,549.2 215.3,549.6 216.4,549.3 217.5,550.3 218.7,550.0 219.8,550.8 220.9,551.1 222.0,551.3 223.1,551.6 224.3,551.5 225.4,551.4 226.5,551.9" stroke="#1a1a1a" stroke-width="0.7" fill="none" stroke-linejoin="round"/>
<path d="M51.6,597.1 60.6,597.2 60.6,597.1 60.8,591.1 61.0,586.3 61.3,581.5 61.5,577.1 61.7,573.3 61.9,568.6 62.2,565.7 62.4,561.6 62.6,558.6 62.8,555.3 63.1,552.9 63.3,550.5 63.5,547.8 63.7,545.8 64.0,543.6 64.2,541.6 64.4,539.8 64.6,538.1 64.9,536.7 65.1,535.1 66.0,530.6 66.9,526.2 67.8,523.5 68.7,520.5 69.6,518.6 70.5,518.2 71.4,516.3 72.2,515.4 73.1,514.9 74.0,513.8 74.9,513.5 75.8,513.4 76.7,512.4 77.6,512.0 78.5,511.5 79.4,511.5 80.3,510.6 81.2,510.3 82.1,510.6 83.0,510.1 83.9,509.6 84.8,509.5 85.7,508.5 86.6,508.8 87.5,508.9 88.4,508.6 89.3,508.1 90.2,507.2 91.1,507.7 92.0,507.4 92.9,507.1 93.8,507.0 94.6,506.1 95.5,506.8 96.4,506.2 97.3,506.2 98.2,505.9 99.1,506.3 100.0,505.2 100.9,505.6 101.8,505.4 102.7,505.6 103.6,505.4 104.5,504.8 105.4,504.5 106.3,504.5 107.2,504.2 108.1,504.2 109.0,504.3 109.9,503.9 110.8,503.9 111.7,504.0 112.6,503.6 113.5,503.3 114.4,503.5 115.3,503.6 116.2,503.2 117.0,502.7 117.9,503.3 118.8,503.1 119.7,503.0 120.6,502.5 121.5,503.4 122.4,502.6 123.3,502.3 124.2,502.8 125.1,502.0 126.0,502.2 126.9,502.5 127.8,502.2 128.7,502.7 129.6,502.3 130.5,501.5 131.4,502.3 132.3,501.3 133.2,501.9 134.1,501.5 135.0,501.7 135.9,502.4 136.8,501.8 137.7,501.5 138.6,501.9 139.4,501.9 140.3,501.3 141.2,501.6 142.1,501.8 143.0,501.5 143.5,501.2 143.6,501.0 143.8,506.5 144.1,510.3 144.3,513.6 144.5,517.0 144.7,519.8 145.0,521.9 145.2,523.2 145.4,524.3 145.6,525.7 145.9,526.6 146.1,527.8 146.3,528.3 146.5,529.2 146.8,529.8 147.0,530.6 147.2,531.1 147.4,531.2 147.6,531.7 147.9,532.0 148.1,531.8 149.2,533.3 150.3,533.3 151.5,534.8 152.6,536.1 153.7,536.5 154.8,537.3 155.9,538.3 157.1,538.4 158.2,539.6 159.3,540.9 160.4,540.2 161.5,541.2 162.7,541.0 163.8,542.2 164.9,542.8 166.0,542.4 167.1,543.7 168.3,543.7 169.4,543.7 170.5,544.5 171.6,545.0 172.7,545.3 173.9,545.4 175.0,546.3 176.1,546.2 177.2,546.5 178.3,546.3 179.5,547.4 180.6,547.9 181.7,547.7 182.8,548.4 183.9,548.5 185.1,548.8 186.2,548.7 187.3,549.6 188.4,549.7 189.5,550.7 190.7,550.5 191.8,550.0 192.9,550.9 194.0,551.2 195.1,551.6 196.3,551.3 197.4,551.7 198.5,552.3 199.6,552.0 200.7,552.4 201.9,552.5 203.0,553.1 204.1,552.6 205.2,553.3 206.3,553.7 207.5,554.0 208.6,554.2 209.7,554.0 210.8,554.6 211.9,554.4 213.1,554.8 214.2,554.8 215.3,555.2 216.4,555.6 217.5,556.4 218.7,556.0 219.8,556.0 220.9,556.4 222.0,556.5 223.1,557.0 224.3,557.2 225.4,557.6 226.5,557.1" stroke="#1a1a1a" stroke-width="0.7" fill="none" stroke-linejoin="round"/>
<path d="M51.6,597.1 60.6,597.2 60.6,597.2 60.8,594.4 61.0,591.7 61.3,588.6 61.5,585.4 61.7,583.2 61.9,581.2 62.2,578.2 62.4,576.0 62.6,574.1 62.8,572.1 63.1,570.1 63.3,568.5 63.5,566.7 63.7,565.5 64.0,563.2 64.2,562.1 64.4,560.1 64.6,560.0 64.9,557.8 65.1,556.4 66.0,552.3 66.9,548.3 67.8,545.1 68.7,542.5 69.6,540.6 70.5,538.6 71.4,536.6 72.2,535.2 73.1,534.4 74.0,533.4 74.9,532.5 75.8,531.4 76.7,531.4 77.6,530.9 78.5,529.9 79.4,529.9 80.3,529.3 81.2,528.7 82.1,528.2 83.0,528.4 83.9,527.5 84.8,528.0 85.7,527.0 86.6,527.4 87.5,527.1 88.4,526.3 89.3,526.4 90.2,526.3 91.1,526.0 92.0,525.5 92.9,525.5 93.8,525.3 94.6,524.8 95.5,525.2 96.4,525.0 97.3,524.9 98.2,524.2 99.1,524.1 100.0,523.9 100.9,524.1 101.8,524.0 102.7,523.6 103.6,523.9 104.5,523.4 105.4,523.3 106.3,523.6 107.2,523.3 108.1,523.2 109.0,522.5 109.9,522.2 110.8,522.9 111.7,522.8 112.6,523.4 113.5,522.5 114.4,522.5 115.3,522.8 116.2,522.1 117.0,522.8 117.9,522.3 118.8,522.1 119.7,522.4 120.6,521.7 121.5,521.6 122.4,522.3 123.3,522.2 124.2,521.5 125.1,521.6 126.0,521.9 126.9,521.6 127.8,521.5 128.7,521.4 129.6,521.1 130.5,521.2 131.4,520.7 132.3,520.7 133.2,520.9 134.1,520.7 135.0,520.6 135.9,520.8 136.8,521.3 137.7,520.6 138.6,520.8 139.4,520.3 140.3,520.7 141.2,520.6 142.1,520.6 143.0,520.1 143.5,520.6 143.6,520.6 143.8,524.4 144.1,527.2 144.3,530.0 144.5,531.9 144.7,533.7 145.0,535.0 145.2,535.7 145.4,537.5 145.6,538.2 145.9,539.0 146.1,539.4 146.3,540.5 146.5,540.9 146.8,541.1 147.0,541.3 147.2,541.8 147.4,542.2 147.6,542.6 147.9,542.4 148.1,542.3 149.2,543.6 150.3,544.4 151.5,545.0 152.6,546.1 153.7,546.4 154.8,547.0 155.9,547.3 157.1,547.9 158.2,548.8 159.3,548.5 160.4,548.8 161.5,549.8 162.7,550.0 163.8,550.4 164.9,550.6 166.0,551.7 167.1,551.1 168.3,552.1 169.4,551.8 170.5,552.5 171.6,553.0 172.7,553.2 173.9,553.2 175.0,554.0 176.1,554.1 177.2,554.5 178.3,555.1 179.5,554.4 180.6,554.9 181.7,555.3 182.8,555.2 183.9,556.1 185.1,556.1 186.2,555.8 187.3,556.2 188.4,557.5 189.5,558.0 190.7,557.6 191.8,557.1 192.9,557.8 194.0,558.0 195.1,557.9 196.3,558.6 197.4,558.5 198.5,558.5 199.6,558.8 200.7,559.0 201.9,559.5 203.0,559.4 204.1,559.9 205.2,559.5 206.3,559.3 207.5,560.6 208.6,561.2 209.7,560.9 210.8,560.8 211.9,560.8 213.1,561.0 214.2,561.7 215.3,561.9 216.4,561.5 217.5,562.4 218.7,561.9 219.8,562.5 220.9,562.3 222.0,562.5 223.1,562.7 224.3,562.9 225.4,563.6 226.5,563.4" stroke="#1a1a1a" stroke-width="0.7" fill="none" stroke-linejoin="round"/>
<path d="M51.6,597.1 60.6,597.2 60.6,597.2 60.8,595.5 61.0,593.6 61.3,592.6 61.5,591.2 61.7,589.8 61.9,588.2 62.2,586.5 62.4,585.7 62.6,583.8 62.8,582.8 63.1,581.8 63.3,581.0 63.5,579.3 63.7,578.1 64.0,577.8 64.2,575.8 64.4,574.7 64.6,574.1 64.9,573.1 65.1,571.6 66.0,568.6 66.9,566.2 67.8,563.3 68.7,560.9 69.6,558.8 70.5,557.6 71.4,555.0 72.2,553.9 73.1,552.3 74.0,551.2 74.9,549.9 75.8,549.3 76.7,548.6 77.6,547.4 78.5,546.4 79.4,546.3 80.3,545.2 81.2,545.0 82.1,544.8 83.0,543.7 83.9,544.0 84.8,543.1 85.7,543.2 86.6,542.6 87.5,542.9 88.4,542.5 89.3,541.6 90.2,541.7 91.1,541.5 92.0,541.5 92.9,541.0 93.8,541.4 94.6,541.1 95.5,540.7 96.4,540.7 97.3,540.5 98.2,540.2 99.1,540.1 100.0,540.0 100.9,539.3 101.8,539.3 102.7,539.2 103.6,539.4 104.5,539.5 105.4,539.7 106.3,539.2 107.2,539.7 108.1,539.1 109.0,538.6 109.9,538.3 110.8,538.4 111.7,538.9 112.6,538.4 113.5,538.7 114.4,538.1 115.3,538.4 116.2,538.0 117.0,537.4 117.9,537.8 118.8,537.3 119.7,537.9 120.6,538.0 121.5,537.5 122.4,537.3 123.3,537.9 124.2,537.7 125.1,538.1 126.0,537.7 126.9,537.3 127.8,537.6 128.7,537.7 129.6,537.9 130.5,537.3 131.4,537.1 132.3,537.1 133.2,537.2 134.1,537.6 135.0,536.6 135.9,537.2 136.8,537.2 137.7,536.9 138.6,537.7 139.4,537.0 140.3,537.0 141.2,536.8 142.1,536.5 143.0,536.7 143.5,536.9 143.6,537.4 143.8,539.7 144.1,541.8 144.3,543.7 144.5,545.7 144.7,547.1 145.0,547.5 145.2,548.5 145.4,549.4 145.6,550.6 145.9,550.1 146.1,552.0 146.3,551.6 146.5,551.2 146.8,552.2 147.0,552.4 147.2,553.1 147.4,552.5 147.6,553.5 147.9,553.2 148.1,553.4 149.2,554.5 150.3,554.5 151.5,555.7 152.6,556.0 153.7,556.2 154.8,556.8 155.9,556.9 157.1,557.2 158.2,557.9 159.3,558.4 160.4,558.7 161.5,559.0 162.7,558.9 163.8,559.5 164.9,559.6 166.0,560.1 167.1,560.6 168.3,560.3 169.4,561.2 170.5,561.1 171.6,560.9 172.7,562.0 173.9,561.9 175.0,562.6 176.1,562.5 177.2,563.0 178.3,562.9 179.5,563.1 180.6,563.1 181.7,562.9 182.8,563.5 183.9,563.6 185.1,564.0 186.2,564.2 187.3,564.6 188.4,565.1 189.5,564.7 190.7,564.4 191.8,564.9 192.9,565.4 194.0,564.9 195.1,565.7 196.3,566.0 197.4,566.3 198.5,566.4 199.6,566.4 200.7,565.8 201.9,566.7 203.0,567.1 204.1,567.1 205.2,567.2 206.3,567.8 207.5,567.4 208.6,567.4 209.7,567.6 210.8,567.7 211.9,568.5 213.1,568.7 214.2,568.0 215.3,568.2 216.4,569.2 217.5,568.8 218.7,569.0 219.8,569.0 220.9,569.2 222.0,569.6 223.1,569.5 224.3,569.7 225.4,569.9 226.5,570.6" stroke="#1a1a1a" stroke-width="0.7" fill="none" stroke-linejoin="round"/>
<path d="M51.6,597.1 60.6,597.2 60.6,598.2 60.8,596.6 61.0,596.0 61.3,594.6 61.5,593.6 61.7,592.9 61.9,592.3 62.2,591.4 62.4,590.2 62.6,590.1 62.8,588.8 63.1,588.1 63.3,587.5 63.5,586.5 63.7,586.4 64.0,585.2 64.2,585.2 64.4,584.5 64.6,583.9 64.9,582.8 65.1,582.6 66.0,579.9 66.9,578.1 67.8,575.4 68.7,573.3 69.6,572.1 70.5,570.1 71.4,569.0 72.2,567.1 73.1,566.5 74.0,565.9 74.9,563.9 75.8,563.4 76.7,562.8 77.6,561.8 78.5,561.4 79.4,560.2 80.3,559.8 81.2,558.4 82.1,558.1 83.0,558.3 83.9,557.7 84.8,557.0 85.7,557.0 86.6,556.0 87.5,555.6 88.4,555.5 89.3,555.1 90.2,554.5 91.1,553.9 92.0,553.6 92.9,553.8 93.8,553.4 94.6,553.6 95.5,553.1 96.4,553.3 97.3,552.6 98.2,553.1 99.1,552.8 100.0,552.4 100.9,552.0 101.8,552.5 102.7,552.1 103.6,551.8 104.5,551.6 105.4,551.9 106.3,551.5 107.2,551.5 108.1,550.9 109.0,551.0 109.9,551.5 110.8,551.7 111.7,550.9 112.6,550.5 113.5,550.7 114.4,550.4 115.3,550.8 116.2,551.0 117.0,550.3 117.9,550.4 118.8,550.2 119.7,550.8 120.6,550.2 121.5,550.4 122.4,549.9 123.3,550.3 124.2,550.3 125.1,550.2 126.0,549.6 126.9,550.0 127.8,550.2 128.7,550.2 129.6,550.2 130.5,549.4 131.4,550.3 132.3,550.0 133.2,549.5 134.1,549.3 135.0,549.7 135.9,549.4 136.8,549.3 137.7,549.2 138.6,549.5 139.4,549.0 140.3,549.4 141.2,549.0 142.1,549.8 143.0,549.1 143.5,549.4 143.6,549.8 143.8,552.2 144.1,553.5 144.3,555.5 144.5,556.4 144.7,558.0 145.0,558.1 145.2,559.4 145.4,560.4 145.6,560.5 145.9,560.8 146.1,561.7 146.3,561.7 146.5,561.5 146.8,562.1 147.0,562.6 147.2,563.0 147.4,562.8 147.6,563.7 147.9,564.3 148.1,563.7 149.2,564.4 150.3,564.0 151.5,565.0 152.6,565.7 153.7,566.1 154.8,566.0 155.9,566.7 157.1,566.9 158.2,567.1 159.3,567.3 160.4,567.6 161.5,567.9 162.7,567.7 163.8,567.9 164.9,569.2 166.0,568.1 167.1,569.1 168.3,568.9 169.4,569.7 170.5,569.6 171.6,569.8 172.7,570.1 173.9,570.0 175.0,570.3 176.1,571.0 177.2,570.9 178.3,570.8 179.5,571.0 180.6,571.4 181.7,571.6 182.8,571.7 183.9,572.2 185.1,572.4 186.2,571.6 187.3,572.4 188.4,572.4 189.5,572.8 190.7,572.3 191.8,572.3 192.9,573.0 194.0,573.0 195.1,573.5 196.3,572.8 197.4,573.2 198.5,573.9 199.6,573.4 200.7,573.8 201.9,573.9 203.0,574.1 204.1,574.5 205.2,574.6 206.3,574.4 207.5,574.7 208.6,575.1 209.7,574.3 210.8,575.1 211.9,575.3 213.1,575.5 214.2,575.2 215.3,575.2 216.4,575.6 217.5,575.5 218.7,576.3 219.8,576.1 220.9,576.3 222.0,576.2 223.1,576.2 224.3,577.1 225.4,575.6 226.5,577.0" stroke="#1a1a1a" stroke-width="0.7" fill="none" stroke-linejoin="round"/>
<path d="M51.6,597.1 60.6,597.2 60.6,597.1 60.8,596.5 61.0,596.0 61.3,595.7 61.5,596.2 61.7,595.2 61.9,594.1 62.2,594.2 62.4,593.8 62.6,593.7 62.8,592.2 63.1,592.0 63.3,591.9 63.5,591.3 63.7,590.8 64.0,590.7 64.2,590.0 64.4,589.5 64.6,588.9 64.9,588.3 65.1,588.3 66.0,586.9 66.9,585.1 67.8,584.0 68.7,582.8 69.6,580.8 70.5,580.1 71.4,578.7 72.2,577.5 73.1,577.0 74.0,575.5 74.9,574.6 75.8,573.9 76.7,573.0 77.6,572.5 78.5,572.3 79.4,571.0 80.3,570.5 81.2,569.3 82.1,569.0 83.0,568.7 83.9,568.0 84.8,567.1 85.7,566.7 86.6,566.5 87.5,566.0 88.4,565.9 89.3,565.5 90.2,564.9 91.1,564.8 92.0,564.3 92.9,564.5 93.8,564.4 94.6,564.1 95.5,563.5 96.4,562.7 97.3,562.5 98.2,563.0 99.1,563.0 100.0,562.0 100.9,562.0 101.8,562.4 102.7,561.4 103.6,561.6 104.5,561.1 105.4,561.2 106.3,560.9 107.2,561.0 108.1,561.3 109.0,560.9 109.9,560.9 110.8,560.4 111.7,560.8 112.6,560.9 113.5,560.1 114.4,559.9 115.3,559.7 116.2,559.7 117.0,560.5 117.9,560.2 118.8,560.0 119.7,559.8 120.6,560.4 121.5,559.7 122.4,559.5 123.3,559.9 124.2,559.5 125.1,559.1 126.0,559.4 126.9,559.0 127.8,559.0 128.7,559.1 129.6,559.1 130.5,559.3 131.4,558.8 132.3,559.3 133.2,559.3 134.1,558.8 135.0,559.2 135.9,558.8 136.8,558.6 137.7,558.9 138.6,558.9 139.4,558.6 140.3,558.6 141.2,559.3 142.1,559.2 143.0,558.3 143.5,558.8 143.6,558.6 143.8,561.4 144.1,562.8 144.3,563.7 144.5,565.2 144.7,565.6 145.0,566.6 145.2,567.1 145.4,568.2 145.6,568.1 145.9,568.1 146.1,569.3 146.3,568.9 146.5,569.2 146.8,569.6 147.0,570.0 147.2,570.5 147.4,570.6 147.6,570.2 147.9,570.3 148.1,570.3 149.2,570.9 150.3,571.3 151.5,572.1 152.6,572.7 153.7,572.5 154.8,572.7 155.9,573.1 157.1,573.9 158.2,573.8 159.3,574.4 160.4,574.1 161.5,574.7 162.7,574.6 163.8,574.7 164.9,574.9 166.0,574.7 167.1,575.7 168.3,576.2 169.4,575.4 170.5,575.4 171.6,575.5 172.7,576.1 173.9,576.1 175.0,576.4 176.1,577.0 177.2,576.9 178.3,576.7 179.5,577.2 180.6,576.5 181.7,577.8 182.8,577.5 183.9,577.2 185.1,577.8 186.2,578.1 187.3,578.3 188.4,578.2 189.5,577.7 190.7,578.1 191.8,578.2 192.9,578.6 194.0,578.3 195.1,578.6 196.3,579.1 197.4,579.0 198.5,578.9 199.6,578.7 200.7,579.2 201.9,579.2 203.0,578.8 204.1,579.8 205.2,580.0 206.3,579.4 207.5,579.7 208.6,580.0 209.7,579.9 210.8,580.2 211.9,580.1 213.1,580.4 214.2,580.2 215.3,580.9 216.4,580.8 217.5,580.7 218.7,580.9 219.8,580.7 220.9,581.0 222.0,581.2 223.1,581.1 224.3,581.4 225.4,581.8 226.5,581.8" stroke="#1a1a1a" stroke-width="0.7" fill="none" stroke-linejoin="round"/>
<path d="M51.6,597.1 60.6,597.2 60.6,597.5 60.8,597.1 61.0,596.7 61.3,596.1 61.5,596.0 61.7,595.3 61.9,595.2 62.2,595.4 62.4,594.5 62.6,594.4 62.8,594.6 63.1,594.1 63.3,593.6 63.5,593.6 63.7,593.0 64.0,593.0 64.2,592.6 64.4,592.6 64.6,592.1 64.9,592.1 65.1,591.5 66.0,591.2 66.9,589.5 67.8,588.2 68.7,587.4 69.6,586.6 70.5,585.5 71.4,585.0 72.2,584.1 73.1,583.1 74.0,582.3 74.9,581.1 75.8,581.0 76.7,579.6 77.6,579.8 78.5,578.9 79.4,578.0 80.3,577.0 81.2,577.0 82.1,576.9 83.0,575.6 83.9,575.2 84.8,575.0 85.7,574.5 86.6,574.0 87.5,573.3 88.4,572.7 89.3,573.0 90.2,571.4 91.1,571.8 92.0,571.5 92.9,570.9 93.8,570.7 94.6,569.7 95.5,569.8 96.4,570.0 97.3,569.7 98.2,569.5 99.1,569.2 100.0,568.6 100.9,568.8 101.8,567.9 102.7,568.2 103.6,568.0 104.5,567.5 105.4,568.2 106.3,567.7 107.2,567.0 108.1,567.1 109.0,566.9 109.9,566.6 110.8,566.8 111.7,566.5 112.6,566.8 113.5,566.8 114.4,565.7 115.3,566.2 116.2,566.1 117.0,565.3 117.9,565.3 118.8,565.7 119.7,565.6 120.6,565.3 121.5,565.5 122.4,565.0 123.3,565.0 124.2,564.9 125.1,564.6 126.0,564.6 126.9,564.1 127.8,564.2 128.7,565.1 129.6,564.2 130.5,564.8 131.4,564.8 132.3,564.1 133.2,564.5 134.1,564.3 135.0,563.8 135.9,564.3 136.8,564.3 137.7,563.9 138.6,563.6 139.4,563.8 140.3,564.4 141.2,564.0 142.1,563.8 143.0,563.2 143.5,563.8 143.6,563.5 143.8,565.4 144.1,566.9 144.3,568.7 144.5,569.6 144.7,570.5 145.0,571.7 145.2,572.1 145.4,572.4 145.6,573.4 145.9,573.2 146.1,573.5 146.3,573.7 146.5,574.6 146.8,574.5 147.0,574.3 147.2,574.6 147.4,575.3 147.6,575.1 147.9,574.9 148.1,575.4 149.2,575.8 150.3,575.5 151.5,576.6 152.6,576.9 153.7,577.5 154.8,577.6 155.9,577.2 157.1,578.0 158.2,578.5 159.3,578.7 160.4,578.6 161.5,578.5 162.7,579.2 163.8,578.9 164.9,579.5 166.0,579.4 167.1,579.5 168.3,579.6 169.4,580.1 170.5,580.1 171.6,580.1 172.7,580.8 173.9,580.4 175.0,580.5 176.1,580.4 177.2,580.9 178.3,581.0 179.5,581.1 180.6,581.4 181.7,581.4 182.8,581.3 183.9,581.4 185.1,582.0 186.2,581.8 187.3,582.5 188.4,581.7 189.5,582.2 190.7,582.1 191.8,582.6 192.9,582.4 194.0,582.3 195.1,582.2 196.3,583.0 197.4,582.4 198.5,582.8 199.6,583.1 200.7,582.8 201.9,583.1 203.0,583.2 204.1,583.4 205.2,583.2 206.3,583.4 207.5,583.5 208.6,583.8 209.7,583.8 210.8,583.6 211.9,583.4 213.1,583.9 214.2,583.5 215.3,584.0 216.4,584.4 217.5,584.0 218.7,584.6 219.8,584.2 220.9,584.1 222.0,584.6 223.1,584.6 224.3,583.9 225.4,584.6 226.5,584.7" stroke="#1a1a1a" stroke-width="0.7" fill="none" stroke-linejoin="round"/>
<path d="M51.6,597.1 60.6,597.2 60.6,597.0 60.8,597.1 61.0,597.0 61.3,596.7 61.5,597.4 61.7,596.1 61.9,596.7 62.2,596.5 62.4,595.8 62.6,595.8 62.8,596.1 63.1,595.4 63.3,595.7 63.5,595.4 63.7,595.4 64.0,595.0 64.2,594.5 64.4,594.4 64.6,594.1 64.9,593.8 65.1,593.9 66.0,593.4 66.9,592.5 67.8,591.2 68.7,591.0 69.6,590.2 70.5,589.6 71.4,588.8 72.2,588.1 73.1,587.6 74.0,587.0 74.9,586.6 75.8,586.0 76.7,585.0 77.6,584.4 78.5,583.8 79.4,583.5 80.3,583.3 81.2,582.3 82.1,581.9 83.0,582.1 83.9,580.9 84.8,580.6 85.7,579.8 86.6,580.3 87.5,580.0 88.4,578.9 89.3,579.4 90.2,578.7 91.1,578.5 92.0,578.1 92.9,578.1 93.8,577.3 94.6,576.6 95.5,576.5 96.4,576.2 97.3,576.2 98.2,575.4 99.1,575.5 100.0,575.1 100.9,575.7 101.8,574.8 102.7,575.1 103.6,574.4 104.5,574.3 105.4,574.5 106.3,573.9 107.2,573.4 108.1,573.5 109.0,573.3 109.9,573.6 110.8,573.4 111.7,573.3 112.6,572.8 113.5,572.3 114.4,572.4 115.3,572.5 116.2,572.7 117.0,572.1 117.9,572.2 118.8,572.6 119.7,572.4 120.6,571.9 121.5,571.9 122.4,571.0 123.3,571.5 124.2,571.7 125.1,571.4 126.0,570.7 126.9,571.4 127.8,570.8 128.7,570.8 129.6,570.4 130.5,570.6 131.4,570.9 132.3,570.5 133.2,570.6 134.1,570.2 135.0,570.5 135.9,569.8 136.8,570.4 137.7,570.2 138.6,570.5 139.4,570.2 140.3,570.2 141.2,570.1 142.1,569.8 143.0,570.2 143.5,570.0 143.6,570.3 143.8,571.4 144.1,573.2 144.3,574.5 144.5,574.9 144.7,575.9 145.0,577.6 145.2,577.5 145.4,577.6 145.6,578.0 145.9,578.7 146.1,578.4 146.3,579.4 146.5,579.4 146.8,579.5 147.0,579.7 147.2,579.6 147.4,579.7 147.6,580.1 147.9,579.8 148.1,580.5 149.2,580.8 150.3,580.5 151.5,581.3 152.6,581.2 153.7,581.9 154.8,582.1 155.9,582.3 157.1,582.4 158.2,582.7 159.3,582.8 160.4,582.8 161.5,582.8 162.7,583.3 163.8,583.3 164.9,583.3 166.0,584.1 167.1,584.4 168.3,583.5 169.4,583.7 170.5,584.2 171.6,584.2 172.7,584.8 173.9,585.0 175.0,584.6 176.1,585.2 177.2,584.6 178.3,585.2 179.5,585.0 180.6,584.6 181.7,584.7 182.8,585.4 183.9,585.1 185.1,585.8 186.2,585.8 187.3,585.5 188.4,585.3 189.5,586.0 190.7,585.7 191.8,585.9 192.9,586.4 194.0,586.2 195.1,585.7 196.3,586.3 197.4,586.2 198.5,586.2 199.6,586.7 200.7,586.2 201.9,586.1 203.0,586.2 204.1,586.3 205.2,587.0 206.3,587.1 207.5,587.2 208.6,587.3 209.7,587.3 210.8,586.8 211.9,586.7 213.1,587.5 214.2,587.1 215.3,587.8 216.4,587.6 217.5,587.8 218.7,588.1 219.8,587.6 220.9,587.7 222.0,587.9 223.1,588.0 224.3,588.2 225.4,588.0 226.5,588.2" stroke="#1a1a1a" stroke-width="0.7" fill="none" stroke-linejoin="round"/>
<path d="M51.6,597.1 60.6,597.2 60.6,597.2 60.8,597.6 61.0,597.1 61.3,596.9 61.5,596.6 61.7,596.6 61.9,596.8 62.2,596.9 62.4,597.2 62.6,596.6 62.8,596.0 63.1,595.8 63.3,597.1 63.5,596.4 63.7,596.2 64.0,596.3 64.2,595.8 64.4,595.7 64.6,595.8 64.9,595.5 65.1,595.9 66.0,595.2 66.9,594.7 67.8,593.7 68.7,594.0 69.6,593.0 70.5,592.2 71.4,592.0 72.2,591.2 73.1,591.2 74.0,590.4 74.9,589.8 75.8,588.9 76.7,589.0 77.6,588.3 78.5,588.4 79.4,587.9 80.3,587.1 81.2,587.0 82.1,586.4 83.0,586.2 83.9,585.4 84.8,585.0 85.7,585.7 86.6,584.5 87.5,584.7 88.4,584.4 89.3,584.2 90.2,583.7 91.1,584.0 92.0,583.6 92.9,583.4 93.8,582.8 94.6,582.3 95.5,582.2 96.4,582.0 97.3,582.1 98.2,582.3 99.1,581.4 100.0,581.3 100.9,581.0 101.8,580.5 102.7,580.8 103.6,580.6 104.5,581.1 105.4,580.0 106.3,580.1 107.2,580.1 108.1,579.6 109.0,579.9 109.9,579.6 110.8,578.7 111.7,578.9 112.6,578.7 113.5,578.7 114.4,578.6 115.3,578.6 116.2,577.8 117.0,578.4 117.9,578.1 118.8,578.3 119.7,578.2 120.6,578.8 121.5,578.5 122.4,577.3 123.3,577.3 124.2,577.8 125.1,577.6 126.0,577.3 126.9,577.7 127.8,576.7 128.7,577.5 129.6,577.4 130.5,577.9 131.4,576.5 132.3,576.9 133.2,576.4 134.1,577.1 135.0,576.6 135.9,576.7 136.8,576.6 137.7,575.9 138.6,575.8 139.4,576.0 140.3,576.5 141.2,576.1 142.1,575.9 143.0,576.1 143.5,576.2 143.6,577.0 143.8,578.3 144.1,579.7 144.3,580.2 144.5,580.5 144.7,581.9 145.0,582.0 145.2,582.2 145.4,583.2 145.6,583.1 145.9,583.9 146.1,583.7 146.3,584.2 146.5,584.2 146.8,584.2 147.0,584.2 147.2,584.3 147.4,585.1 147.6,583.9 147.9,584.6 148.1,584.9 149.2,585.1 150.3,585.0 151.5,585.6 152.6,585.7 153.7,585.9 154.8,585.7 155.9,586.3 157.1,586.1 158.2,586.2 159.3,586.5 160.4,586.2 161.5,586.7 162.7,587.2 163.8,586.9 164.9,587.1 166.0,587.2 167.1,587.2 168.3,586.7 169.4,587.4 170.5,587.5 171.6,587.8 172.7,587.4 173.9,587.9 175.0,588.2 176.1,588.4 177.2,588.0 178.3,588.0 179.5,588.8 180.6,588.6 181.7,588.2 182.8,588.2 183.9,589.0 185.1,588.8 186.2,588.4 187.3,588.9 188.4,589.0 189.5,589.1 190.7,589.4 191.8,589.0 192.9,589.0 194.0,589.6 195.1,589.2 196.3,588.9 197.4,589.3 198.5,589.1 199.6,589.6 200.7,589.1 201.9,589.8 203.0,589.0 204.1,589.8 205.2,590.0 206.3,590.1 207.5,590.0 208.6,590.0 209.7,590.2 210.8,590.1 211.9,589.8 213.1,589.8 214.2,590.3 215.3,589.8 216.4,590.6 217.5,590.6 218.7,590.7 219.8,590.2 220.9,591.0 222.0,591.0 223.1,590.2 224.3,590.1 225.4,590.3 226.5,591.2" stroke="#1a1a1a" stroke-width="0.7" fill="none" stroke-linejoin="round"/>
<path d="M51.6,597.1 60.6,597.2 60.6,597.2 60.8,597.0 61.0,597.2 61.3,597.7 61.5,597.3 61.7,597.7 61.9,597.5 62.2,596.4 62.4,596.8 62.6,597.4 62.8,597.4 63.1,596.7 63.3,597.0 63.5,596.5 63.7,596.8 64.0,596.6 64.2,596.4 64.4,596.8 64.6,597.0 64.9,596.7 65.1,596.4 66.0,595.9 66.9,595.5 67.8,595.2 68.7,594.6 69.6,594.7 70.5,593.6 71.4,593.0 72.2,593.2 73.1,592.8 74.0,592.1 74.9,592.0 75.8,591.8 76.7,591.5 77.6,591.3 78.5,591.1 79.4,590.2 80.3,589.8 81.2,590.1 82.1,589.5 83.0,589.1 83.9,589.0 84.8,588.9 85.7,588.5 86.6,588.7 87.5,587.8 88.4,587.6 89.3,586.6 90.2,586.8 91.1,586.9 92.0,586.6 92.9,585.8 93.8,585.6 94.6,585.9 95.5,585.8 96.4,586.0 97.3,585.4 98.2,585.2 99.1,585.2 100.0,584.2 100.9,585.2 101.8,584.5 102.7,584.1 103.6,584.0 104.5,583.4 105.4,584.2 106.3,583.9 107.2,583.5 108.1,583.3 109.0,583.3 109.9,583.3 110.8,582.6 111.7,583.2 112.6,582.9 113.5,582.1 114.4,581.9 115.3,582.1 116.2,582.5 117.0,582.4 117.9,582.3 118.8,582.3 119.7,582.0 120.6,581.3 121.5,581.6 122.4,581.8 123.3,581.7 124.2,581.8 125.1,580.9 126.0,581.8 126.9,581.1 127.8,581.5 128.7,581.3 129.6,581.4 130.5,580.5 131.4,580.8 132.3,579.9 133.2,581.0 134.1,580.9 135.0,580.3 135.9,580.3 136.8,580.5 137.7,581.0 138.6,579.8 139.4,580.1 140.3,580.1 141.2,580.3 142.1,579.9 143.0,580.2 143.5,580.0 143.6,580.9 143.8,582.0 144.1,582.4 144.3,583.7 144.5,584.3 144.7,584.3 145.0,585.0 145.2,585.4 145.4,585.8 145.6,585.6 145.9,586.3 146.1,586.2 146.3,585.8 146.5,586.5 146.8,587.0 147.0,587.2 147.2,586.9 147.4,587.4 147.6,587.6 147.9,587.4 148.1,587.5 149.2,587.2 150.3,588.1 151.5,587.3 152.6,588.2 153.7,588.1 154.8,588.1 155.9,588.3 157.1,588.3 158.2,589.0 159.3,589.5 160.4,589.0 161.5,589.5 162.7,589.3 163.8,588.9 164.9,589.4 166.0,589.6 167.1,589.8 168.3,589.7 169.4,589.7 170.5,590.2 171.6,589.7 172.7,590.2 173.9,589.9 175.0,590.2 176.1,589.8 177.2,589.9 178.3,590.2 179.5,590.3 180.6,590.2 181.7,590.0 182.8,590.1 183.9,590.5 185.1,590.5 186.2,590.2 187.3,591.2 188.4,590.6 189.5,591.1 190.7,590.4 191.8,591.1 192.9,591.0 194.0,591.4 195.1,591.1 196.3,590.9 197.4,590.6 198.5,591.6 199.6,591.4 200.7,590.1 201.9,591.1 203.0,591.4 204.1,591.3 205.2,592.3 206.3,591.0 207.5,591.5 208.6,592.1 209.7,591.3 210.8,591.9 211.9,592.1 213.1,591.7 214.2,591.7 215.3,592.1 216.4,592.0 217.5,592.4 218.7,592.5 219.8,591.8 220.9,591.7 222.0,592.0 223.1,592.1 224.3,592.4 225.4,592.3 226.5,592.6" stroke="#1a1a1a" stroke-width="0.7" fill="none" stroke-linejoin="round"/>
<path d="M51.6,597.1 60.6,597.2 60.6,596.7 60.8,597.4 61.0,597.2 61.3,597.3 61.5,597.7 61.7,596.7 61.9,597.4 62.2,597.5 62.4,597.2 62.6,597.5 62.8,597.2 63.1,597.5 63.3,597.0 63.5,597.1 63.7,597.5 64.0,596.7 64.2,597.0 64.4,597.3 64.6,596.8 64.9,596.8 65.1,596.3 66.0,596.9 66.9,596.1 67.8,596.2 68.7,595.7 69.6,595.7 70.5,595.3 71.4,594.9 72.2,595.1 73.1,595.1 74.0,594.2 74.9,594.0 75.8,593.6 76.7,593.1 77.6,593.1 78.5,592.4 79.4,592.5 80.3,592.2 81.2,591.8 82.1,591.6 83.0,591.6 83.9,591.3 84.8,591.3 85.7,591.0 86.6,590.6 87.5,590.2 88.4,590.3 89.3,589.7 90.2,589.2 91.1,588.9 92.0,589.4 92.9,588.9 93.8,588.9 94.6,588.6 95.5,588.4 96.4,588.4 97.3,588.1 98.2,588.1 99.1,588.1 100.0,587.8 100.9,587.6 101.8,587.2 102.7,587.4 103.6,587.1 104.5,586.8 105.4,587.4 106.3,587.0 107.2,586.6 108.1,586.7 109.0,586.9 109.9,586.2 110.8,586.4 111.7,586.6 112.6,585.5 113.5,586.4 114.4,585.9 115.3,586.0 116.2,585.7 117.0,585.5 117.9,585.8 118.8,585.5 119.7,585.4 120.6,585.6 121.5,584.9 122.4,585.1 123.3,585.2 124.2,585.2 125.1,585.0 126.0,584.8 126.9,584.9 127.8,584.3 128.7,585.4 129.6,585.2 130.5,584.6 131.4,585.0 132.3,584.4 133.2,584.5 134.1,584.1 135.0,584.1 135.9,583.7 136.8,583.8 137.7,583.7 138.6,583.8 139.4,583.6 140.3,583.7 141.2,584.0 142.1,584.2 143.0,584.1 143.5,583.8 143.6,584.5 143.8,586.2 144.1,586.1 144.3,586.9 144.5,586.9 144.7,587.5 145.0,588.1 145.2,588.1 145.4,589.1 145.6,588.5 145.9,588.6 146.1,589.4 146.3,588.7 146.5,589.1 146.8,589.1 147.0,589.7 147.2,589.1 147.4,589.2 147.6,589.5 147.9,589.8 148.1,589.3 149.2,589.4 150.3,589.8 151.5,589.7 152.6,590.4 153.7,590.3 154.8,590.3 155.9,590.5 157.1,589.8 158.2,590.6 159.3,591.0 160.4,590.7 161.5,591.3 162.7,591.0 163.8,590.9 164.9,591.4 166.0,591.4 167.1,591.7 168.3,591.4 169.4,591.7 170.5,591.0 171.6,591.5 172.7,591.8 173.9,592.2 175.0,591.2 176.1,591.5 177.2,591.8 178.3,591.9 179.5,592.0 180.6,592.2 181.7,591.6 182.8,592.1 183.9,592.7 185.1,592.5 186.2,593.1 187.3,592.2 188.4,592.2 189.5,591.9 190.7,591.9 191.8,592.8 192.9,592.5 194.0,592.3 195.1,592.4 196.3,592.9 197.4,592.5 198.5,592.7 199.6,592.4 200.7,592.9 201.9,593.0 203.0,593.1 204.1,593.1 205.2,593.3 206.3,593.2 207.5,593.0 208.6,593.0 209.7,592.8 210.8,592.9 211.9,593.1 213.1,593.7 214.2,593.2 215.3,593.0 216.4,593.8 217.5,593.8 218.7,593.8 219.8,593.9 220.9,593.7 222.0,593.9 223.1,593.5 224.3,594.1 225.4,593.8 226.5,593.9" stroke="#1a1a1a" stroke-width="0.7" fill="none" stroke-linejoin="round"/>
<path d="M51.6,597.1 60.6,597.2 60.6,597.5 60.8,596.9 61.0,597.3 61.3,597.2 61.5,597.5 61.7,597.2 61.9,597.2 62.2,597.5 62.4,598.0 62.6,597.2 62.8,597.2 63.1,597.4 63.3,597.3 63.5,597.3 63.7,597.3 64.0,597.7 64.2,597.4 64.4,597.2 64.6,597.5 64.9,597.6 65.1,596.6 66.0,596.9 66.9,597.0 67.8,596.9 68.7,597.4 69.6,596.8 70.5,596.2 71.4,595.5 72.2,596.3 73.1,595.6 74.0,594.6 74.9,594.7 75.8,594.6 76.7,594.1 77.6,594.3 78.5,594.1 79.4,593.6 80.3,593.4 81.2,593.7 82.1,592.7 83.0,593.5 83.9,593.0 84.8,591.7 85.7,592.6 86.6,592.0 87.5,592.4 88.4,592.0 89.3,591.9 90.2,591.7 91.1,591.2 92.0,590.7 92.9,590.8 93.8,590.4 94.6,590.9 95.5,590.1 96.4,590.3 97.3,589.9 98.2,590.3 99.1,590.1 100.0,589.5 100.9,589.6 101.8,589.6 102.7,589.8 103.6,589.5 104.5,589.2 105.4,589.0 106.3,589.3 107.2,589.1 108.1,588.8 109.0,589.1 109.9,588.4 110.8,588.6 111.7,588.5 112.6,589.2 113.5,588.8 114.4,588.6 115.3,588.3 116.2,588.4 117.0,587.9 117.9,587.9 118.8,587.9 119.7,588.4 120.6,587.2 121.5,587.7 122.4,587.3 123.3,587.7 124.2,587.4 125.1,587.1 126.0,587.2 126.9,586.9 127.8,587.2 128.7,586.4 129.6,587.6 130.5,587.1 131.4,586.6 132.3,586.9 133.2,586.9 134.1,587.3 135.0,586.3 135.9,587.2 136.8,586.4 137.7,586.5 138.6,586.2 139.4,586.0 140.3,586.6 141.2,586.6 142.1,586.4 143.0,586.8 143.5,586.2 143.6,586.9 143.8,588.0 144.1,588.4 144.3,589.2 144.5,589.2 144.7,589.7 145.0,589.8 145.2,590.4 145.4,589.9 145.6,590.6 145.9,591.3 146.1,590.4 146.3,590.8 146.5,591.1 146.8,590.1 147.0,591.0 147.2,591.4 147.4,591.2 147.6,591.0 147.9,591.2 148.1,590.8 149.2,591.0 150.3,591.7 151.5,591.6 152.6,591.5 153.7,591.9 154.8,592.1 155.9,591.7 157.1,592.0 158.2,592.6 159.3,592.4 160.4,592.5 161.5,592.4 162.7,592.7 163.8,592.1 164.9,592.9 166.0,593.0 167.1,592.7 168.3,593.5 169.4,593.2 170.5,592.7 171.6,593.4 172.7,593.3 173.9,592.7 175.0,593.0 176.1,593.1 177.2,593.1 178.3,593.5 179.5,593.2 180.6,593.4 181.7,592.6 182.8,593.2 183.9,593.6 185.1,593.5 186.2,593.5 187.3,594.0 188.4,593.9 189.5,593.2 190.7,594.1 191.8,593.9 192.9,593.4 194.0,593.3 195.1,594.2 196.3,593.4 197.4,594.0 198.5,593.4 199.6,593.8 200.7,594.1 201.9,593.8 203.0,593.9 204.1,594.4 205.2,593.5 206.3,594.3 207.5,593.9 208.6,594.4 209.7,594.9 210.8,594.7 211.9,594.4 213.1,594.2 214.2,593.9 215.3,594.4 216.4,594.6 217.5,594.9 218.7,594.6 219.8,594.5 220.9,595.3 222.0,594.2 223.1,594.3 224.3,594.0 225.4,595.0 226.5,594.7" stroke="#1a1a1a" stroke-width="0.7" fill="none" stroke-linejoin="round"/>
<path d="M49.4,601.8 60.6,598.2 60.6,598.2 60.8,585.4 61.0,574.1 61.3,564.3 61.5,555.6 61.7,548.1 61.9,541.5 62.2,535.8 62.4,530.7 62.6,526.3 62.8,522.5 63.1,519.1 63.3,516.1 63.5,513.5 63.7,511.2 64.0,509.2 64.2,507.4 64.4,505.8 64.6,504.4 64.9,503.2 65.1,502.1 66.0,498.9 66.9,496.8 67.8,495.4 68.7,494.4 69.6,493.6 70.5,492.9 71.4,492.4 72.2,491.9 73.1,491.4 74.0,490.9 74.9,490.5 75.8,490.1 76.7,489.7 77.6,489.2 78.5,488.9 79.4,488.5 80.3,488.1 81.2,487.7 82.1,487.4 83.0,487.0 83.9,486.7 84.8,486.4 85.7,486.0 86.6,485.7 87.5,485.4 88.4,485.1 89.3,484.8 90.2,484.6 91.1,484.3 92.0,484.0 92.9,483.8 93.8,483.5 94.6,483.3 95.5,483.0 96.4,482.8 97.3,482.5 98.2,482.3 99.1,482.1 100.0,481.9 100.9,481.7 101.8,481.5 102.7,481.3 103.6,481.1 104.5,480.9 105.4,480.7 106.3,480.6 107.2,480.4 108.1,480.2 109.0,480.1 109.9,479.9 110.8,479.8 111.7,479.6 112.6,479.5 113.5,479.3 114.4,479.2 115.3,479.1 116.2,478.9 117.0,478.8 117.9,478.7 118.8,478.6 119.7,478.4 120.6,478.3 121.5,478.2 122.4,478.1 123.3,478.0 124.2,477.9 125.1,477.8 126.0,477.7 126.9,477.6 127.8,477.5 128.7,477.4 129.6,477.3 130.5,477.3 131.4,477.2 132.3,477.1 133.2,477.0 134.1,476.9 135.0,476.9 135.9,476.8 136.8,476.7 137.7,476.7 138.6,476.6 139.4,476.5 140.3,476.5 141.2,476.4 142.1,476.3 143.0,476.3 143.5,476.2 143.6,476.2 143.8,483.3 144.1,489.2 144.3,494.1 144.5,498.1 144.7,501.5 145.0,504.3 145.2,506.6 145.4,508.6 145.6,510.2 145.9,511.7 146.1,512.9 146.3,513.9 146.5,514.8 146.8,515.6 147.0,516.3 147.2,516.9 147.4,517.4 147.6,517.9 147.9,518.4 148.1,518.8 149.2,520.4 150.3,521.8 151.5,522.9 152.6,524.0 153.7,525.0 154.8,525.9 155.9,526.8 157.1,527.6 158.2,528.4 159.3,529.1 160.4,529.9 161.5,530.5 162.7,531.2 163.8,531.8 164.9,532.4 166.0,533.0 167.1,533.5 168.3,534.0 169.4,534.5 170.5,535.0 171.6,535.5 172.7,536.0 173.9,536.4 175.0,536.8 176.1,537.2 177.2,537.6 178.3,538.0 179.5,538.4 180.6,538.8 181.7,539.2 182.8,539.5 183.9,539.9 185.1,540.2 186.2,540.6 187.3,540.9 188.4,541.2 189.5,541.6 190.7,541.9 191.8,542.2 192.9,542.5 194.0,542.8 195.1,543.1 196.3,543.4 197.4,543.7 198.5,544.0 199.6,544.3 200.7,544.5 201.9,544.8 203.0,545.1 204.1,545.4 205.2,545.6 206.3,545.9 207.5,546.2 208.6,546.5 209.7,546.7 210.8,547.0 211.9,547.2 213.1,547.5 214.2,547.8 215.3,548.0 216.4,548.3 217.5,548.5 218.7,548.8 219.8,549.0 220.9,549.3 222.0,549.5 223.1,549.7 224.3,550.0 225.4,550.2 226.5,550.5" stroke="#c8232c" stroke-width="0.7" fill="none" stroke-linejoin="round" opacity="0.85"/>
<path d="M49.4,601.8 60.6,598.2 60.6,598.2 60.8,589.6 61.0,581.9 61.3,575.0 61.5,568.8 61.7,563.3 61.9,558.3 62.2,553.9 62.4,549.9 62.6,546.4 62.8,543.2 63.1,540.4 63.3,537.8 63.5,535.5 63.7,533.5 64.0,531.6 64.2,530.0 64.4,528.5 64.6,527.1 64.9,525.9 65.1,524.8 66.0,521.5 66.9,519.2 67.8,517.6 68.7,516.4 69.6,515.6 70.5,514.9 71.4,514.3 72.2,513.8 73.1,513.4 74.0,513.0 74.9,512.6 75.8,512.3 76.7,512.0 77.6,511.6 78.5,511.3 79.4,511.0 80.3,510.7 81.2,510.4 82.1,510.1 83.0,509.8 83.9,509.6 84.8,509.3 85.7,509.1 86.6,508.8 87.5,508.6 88.4,508.3 89.3,508.1 90.2,507.9 91.1,507.7 92.0,507.4 92.9,507.2 93.8,507.0 94.6,506.8 95.5,506.6 96.4,506.5 97.3,506.3 98.2,506.1 99.1,505.9 100.0,505.8 100.9,505.6 101.8,505.4 102.7,505.3 103.6,505.1 104.5,505.0 105.4,504.8 106.3,504.7 107.2,504.6 108.1,504.4 109.0,504.3 109.9,504.2 110.8,504.1 111.7,503.9 112.6,503.8 113.5,503.7 114.4,503.6 115.3,503.5 116.2,503.4 117.0,503.3 117.9,503.2 118.8,503.1 119.7,503.0 120.6,502.9 121.5,502.8 122.4,502.7 123.3,502.7 124.2,502.6 125.1,502.5 126.0,502.4 126.9,502.3 127.8,502.3 128.7,502.2 129.6,502.1 130.5,502.1 131.4,502.0 132.3,501.9 133.2,501.9 134.1,501.8 135.0,501.7 135.9,501.7 136.8,501.6 137.7,501.6 138.6,501.5 139.4,501.5 140.3,501.4 141.2,501.4 142.1,501.3 143.0,501.3 143.5,501.2 143.6,501.2 143.8,506.4 144.1,510.6 144.3,514.1 144.5,517.0 144.7,519.4 145.0,521.4 145.2,523.1 145.4,524.6 145.6,525.8 145.9,526.8 146.1,527.7 146.3,528.4 146.5,529.1 146.8,529.7 147.0,530.2 147.2,530.6 147.4,531.0 147.6,531.4 147.9,531.7 148.1,532.0 149.2,533.3 150.3,534.3 151.5,535.1 152.6,535.9 153.7,536.7 154.8,537.4 155.9,538.1 157.1,538.7 158.2,539.3 159.3,539.9 160.4,540.5 161.5,541.0 162.7,541.5 163.8,542.0 164.9,542.5 166.0,542.9 167.1,543.3 168.3,543.8 169.4,544.2 170.5,544.6 171.6,544.9 172.7,545.3 173.9,545.7 175.0,546.0 176.1,546.4 177.2,546.7 178.3,547.0 179.5,547.3 180.6,547.6 181.7,548.0 182.8,548.2 183.9,548.5 185.1,548.8 186.2,549.1 187.3,549.4 188.4,549.7 189.5,549.9 190.7,550.2 191.8,550.5 192.9,550.7 194.0,551.0 195.1,551.2 196.3,551.5 197.4,551.7 198.5,552.0 199.6,552.2 200.7,552.5 201.9,552.7 203.0,552.9 204.1,553.2 205.2,553.4 206.3,553.6 207.5,553.9 208.6,554.1 209.7,554.3 210.8,554.5 211.9,554.8 213.1,555.0 214.2,555.2 215.3,555.4 216.4,555.6 217.5,555.8 218.7,556.1 219.8,556.3 220.9,556.5 222.0,556.7 223.1,556.9 224.3,557.1 225.4,557.3 226.5,557.5" stroke="#c8232c" stroke-width="0.7" fill="none" stroke-linejoin="round" opacity="0.85"/>
<path d="M49.4,601.8 60.6,598.2 60.6,598.2 60.8,593.5 61.0,589.1 61.3,585.0 61.5,581.2 61.7,577.7 61.9,574.4 62.2,571.3 62.4,568.5 62.6,565.9 62.8,563.5 63.1,561.2 63.3,559.1 63.5,557.2 63.7,555.3 64.0,553.7 64.2,552.1 64.4,550.6 64.6,549.3 64.9,548.0 65.1,546.8 66.0,542.9 66.9,539.9 67.8,537.6 68.7,535.8 69.6,534.5 70.5,533.4 71.4,532.5 72.2,531.8 73.1,531.2 74.0,530.7 74.9,530.2 75.8,529.8 76.7,529.5 77.6,529.1 78.5,528.8 79.4,528.6 80.3,528.3 81.2,528.0 82.1,527.8 83.0,527.6 83.9,527.3 84.8,527.1 85.7,526.9 86.6,526.7 87.5,526.5 88.4,526.3 89.3,526.1 90.2,526.0 91.1,525.8 92.0,525.6 92.9,525.4 93.8,525.3 94.6,525.1 95.5,525.0 96.4,524.8 97.3,524.7 98.2,524.5 99.1,524.4 100.0,524.2 100.9,524.1 101.8,524.0 102.7,523.9 103.6,523.7 104.5,523.6 105.4,523.5 106.3,523.4 107.2,523.3 108.1,523.2 109.0,523.1 109.9,523.0 110.8,522.9 111.7,522.8 112.6,522.7 113.5,522.6 114.4,522.5 115.3,522.4 116.2,522.3 117.0,522.3 117.9,522.2 118.8,522.1 119.7,522.0 120.6,522.0 121.5,521.9 122.4,521.8 123.3,521.8 124.2,521.7 125.1,521.6 126.0,521.6 126.9,521.5 127.8,521.4 128.7,521.4 129.6,521.3 130.5,521.3 131.4,521.2 132.3,521.2 133.2,521.1 134.1,521.1 135.0,521.0 135.9,521.0 136.8,520.9 137.7,520.9 138.6,520.8 139.4,520.8 140.3,520.8 141.2,520.7 142.1,520.7 143.0,520.6 143.5,520.6 143.6,520.6 143.8,524.3 144.1,527.3 144.3,529.8 144.5,531.9 144.7,533.7 145.0,535.1 145.2,536.3 145.4,537.4 145.6,538.2 145.9,539.0 146.1,539.6 146.3,540.2 146.5,540.6 146.8,541.1 147.0,541.4 147.2,541.8 147.4,542.1 147.6,542.3 147.9,542.6 148.1,542.8 149.2,543.7 150.3,544.5 151.5,545.2 152.6,545.8 153.7,546.4 154.8,546.9 155.9,547.4 157.1,547.9 158.2,548.4 159.3,548.8 160.4,549.3 161.5,549.7 162.7,550.1 163.8,550.5 164.9,550.9 166.0,551.2 167.1,551.6 168.3,551.9 169.4,552.2 170.5,552.6 171.6,552.9 172.7,553.2 173.9,553.5 175.0,553.7 176.1,554.0 177.2,554.3 178.3,554.6 179.5,554.8 180.6,555.1 181.7,555.3 182.8,555.6 183.9,555.8 185.1,556.1 186.2,556.3 187.3,556.5 188.4,556.8 189.5,557.0 190.7,557.2 191.8,557.4 192.9,557.7 194.0,557.9 195.1,558.1 196.3,558.3 197.4,558.5 198.5,558.7 199.6,558.9 200.7,559.1 201.9,559.3 203.0,559.5 204.1,559.7 205.2,559.9 206.3,560.1 207.5,560.3 208.6,560.5 209.7,560.7 210.8,560.9 211.9,561.1 213.1,561.3 214.2,561.5 215.3,561.7 216.4,561.9 217.5,562.0 218.7,562.2 219.8,562.4 220.9,562.6 222.0,562.8 223.1,562.9 224.3,563.1 225.4,563.3 226.5,563.5" stroke="#c8232c" stroke-width="0.7" fill="none" stroke-linejoin="round" opacity="0.85"/>
<path d="M49.4,601.8 60.6,598.2 60.6,598.2 60.8,595.6 61.0,593.2 61.3,590.8 61.5,588.6 61.7,586.4 61.9,584.4 62.2,582.5 62.4,580.6 62.6,578.9 62.8,577.2 63.1,575.7 63.3,574.2 63.5,572.7 63.7,571.4 64.0,570.1 64.2,568.9 64.4,567.7 64.6,566.6 64.9,565.5 65.1,564.5 66.0,560.9 66.9,557.9 67.8,555.5 68.7,553.5 69.6,551.8 70.5,550.4 71.4,549.2 72.2,548.2 73.1,547.3 74.0,546.6 74.9,545.9 75.8,545.4 76.7,544.9 77.6,544.5 78.5,544.1 79.4,543.7 80.3,543.4 81.2,543.1 82.1,542.9 83.0,542.6 83.9,542.4 84.8,542.2 85.7,542.0 86.6,541.8 87.5,541.7 88.4,541.5 89.3,541.3 90.2,541.2 91.1,541.0 92.0,540.9 92.9,540.7 93.8,540.6 94.6,540.5 95.5,540.3 96.4,540.2 97.3,540.1 98.2,540.0 99.1,539.9 100.0,539.8 100.9,539.7 101.8,539.6 102.7,539.5 103.6,539.4 104.5,539.3 105.4,539.2 106.3,539.1 107.2,539.0 108.1,538.9 109.0,538.8 109.9,538.7 110.8,538.7 111.7,538.6 112.6,538.5 113.5,538.4 114.4,538.4 115.3,538.3 116.2,538.2 117.0,538.2 117.9,538.1 118.8,538.1 119.7,538.0 120.6,537.9 121.5,537.9 122.4,537.8 123.3,537.8 124.2,537.7 125.1,537.7 126.0,537.6 126.9,537.6 127.8,537.5 128.7,537.5 129.6,537.4 130.5,537.4 131.4,537.3 132.3,537.3 133.2,537.3 134.1,537.2 135.0,537.2 135.9,537.2 136.8,537.1 137.7,537.1 138.6,537.0 139.4,537.0 140.3,537.0 141.2,537.0 142.1,536.9 143.0,536.9 143.5,536.9 143.6,536.9 143.8,539.6 144.1,541.9 144.3,543.8 144.5,545.3 144.7,546.6 145.0,547.7 145.2,548.6 145.4,549.4 145.6,550.1 145.9,550.6 146.1,551.1 146.3,551.5 146.5,551.9 146.8,552.2 147.0,552.5 147.2,552.7 147.4,552.9 147.6,553.1 147.9,553.3 148.1,553.5 149.2,554.2 150.3,554.8 151.5,555.3 152.6,555.8 153.7,556.2 154.8,556.7 155.9,557.1 157.1,557.5 158.2,557.8 159.3,558.2 160.4,558.5 161.5,558.9 162.7,559.2 163.8,559.5 164.9,559.8 166.0,560.1 167.1,560.3 168.3,560.6 169.4,560.9 170.5,561.1 171.6,561.4 172.7,561.6 173.9,561.8 175.0,562.1 176.1,562.3 177.2,562.5 178.3,562.7 179.5,562.9 180.6,563.2 181.7,563.4 182.8,563.6 183.9,563.8 185.1,564.0 186.2,564.1 187.3,564.3 188.4,564.5 189.5,564.7 190.7,564.9 191.8,565.1 192.9,565.3 194.0,565.4 195.1,565.6 196.3,565.8 197.4,566.0 198.5,566.1 199.6,566.3 200.7,566.5 201.9,566.6 203.0,566.8 204.1,567.0 205.2,567.1 206.3,567.3 207.5,567.4 208.6,567.6 209.7,567.7 210.8,567.9 211.9,568.1 213.1,568.2 214.2,568.4 215.3,568.5 216.4,568.7 217.5,568.8 218.7,569.0 219.8,569.1 220.9,569.3 222.0,569.4 223.1,569.6 224.3,569.7 225.4,569.9 226.5,570.0" stroke="#c8232c" stroke-width="0.7" fill="none" stroke-linejoin="round" opacity="0.85"/>
<path d="M49.4,601.8 60.6,598.2 60.6,598.2 60.8,596.8 61.0,595.4 61.3,594.0 61.5,592.7 61.7,591.4 61.9,590.2 62.2,589.0 62.4,587.9 62.6,586.7 62.8,585.7 63.1,584.6 63.3,583.6 63.5,582.7 63.7,581.7 64.0,580.8 64.2,579.9 64.4,579.1 64.6,578.3 64.9,577.5 65.1,576.7 66.0,573.9 66.9,571.4 67.8,569.3 68.7,567.4 69.6,565.7 70.5,564.3 71.4,563.0 72.2,561.8 73.1,560.8 74.0,559.9 74.9,559.1 75.8,558.4 76.7,557.8 77.6,557.2 78.5,556.7 79.4,556.3 80.3,555.9 81.2,555.5 82.1,555.2 83.0,554.8 83.9,554.6 84.8,554.3 85.7,554.1 86.6,553.8 87.5,553.6 88.4,553.4 89.3,553.3 90.2,553.1 91.1,552.9 92.0,552.8 92.9,552.7 93.8,552.5 94.6,552.4 95.5,552.3 96.4,552.2 97.3,552.1 98.2,552.0 99.1,551.8 100.0,551.8 100.9,551.7 101.8,551.6 102.7,551.5 103.6,551.4 104.5,551.3 105.4,551.2 106.3,551.2 107.2,551.1 108.1,551.0 109.0,551.0 109.9,550.9 110.8,550.8 111.7,550.8 112.6,550.7 113.5,550.6 114.4,550.6 115.3,550.5 116.2,550.5 117.0,550.4 117.9,550.4 118.8,550.3 119.7,550.3 120.6,550.2 121.5,550.2 122.4,550.1 123.3,550.1 124.2,550.1 125.1,550.0 126.0,550.0 126.9,549.9 127.8,549.9 128.7,549.9 129.6,549.8 130.5,549.8 131.4,549.8 132.3,549.7 133.2,549.7 134.1,549.7 135.0,549.6 135.9,549.6 136.8,549.6 137.7,549.5 138.6,549.5 139.4,549.5 140.3,549.5 141.2,549.4 142.1,549.4 143.0,549.4 143.5,549.4 143.6,549.4 143.8,551.7 144.1,553.6 144.3,555.3 144.5,556.6 144.7,557.7 145.0,558.6 145.2,559.4 145.4,560.1 145.6,560.6 145.9,561.1 146.1,561.5 146.3,561.8 146.5,562.1 146.8,562.4 147.0,562.6 147.2,562.9 147.4,563.0 147.6,563.2 147.9,563.4 148.1,563.5 149.2,564.1 150.3,564.6 151.5,565.0 152.6,565.4 153.7,565.8 154.8,566.1 155.9,566.5 157.1,566.8 158.2,567.1 159.3,567.4 160.4,567.7 161.5,567.9 162.7,568.2 163.8,568.4 164.9,568.7 166.0,568.9 167.1,569.1 168.3,569.3 169.4,569.5 170.5,569.7 171.6,569.9 172.7,570.1 173.9,570.3 175.0,570.5 176.1,570.7 177.2,570.9 178.3,571.0 179.5,571.2 180.6,571.4 181.7,571.5 182.8,571.7 183.9,571.8 185.1,572.0 186.2,572.1 187.3,572.3 188.4,572.4 189.5,572.6 190.7,572.7 191.8,572.9 192.9,573.0 194.0,573.1 195.1,573.3 196.3,573.4 197.4,573.5 198.5,573.7 199.6,573.8 200.7,573.9 201.9,574.1 203.0,574.2 204.1,574.3 205.2,574.5 206.3,574.6 207.5,574.7 208.6,574.8 209.7,574.9 210.8,575.1 211.9,575.2 213.1,575.3 214.2,575.4 215.3,575.6 216.4,575.7 217.5,575.8 218.7,575.9 219.8,576.0 220.9,576.1 222.0,576.2 223.1,576.4 224.3,576.5 225.4,576.6 226.5,576.7" stroke="#c8232c" stroke-width="0.7" fill="none" stroke-linejoin="round" opacity="0.85"/>
<path d="M49.4,601.8 60.6,598.2 60.6,598.2 60.8,597.4 61.0,596.6 61.3,595.8 61.5,595.0 61.7,594.2 61.9,593.5 62.2,592.7 62.4,592.0 62.6,591.3 62.8,590.6 63.1,589.9 63.3,589.3 63.5,588.7 63.7,588.0 64.0,587.4 64.2,586.8 64.4,586.2 64.6,585.7 64.9,585.1 65.1,584.6 66.0,582.5 66.9,580.6 67.8,578.9 68.7,577.3 69.6,575.9 70.5,574.6 71.4,573.4 72.2,572.4 73.1,571.4 74.0,570.5 74.9,569.7 75.8,568.9 76.7,568.2 77.6,567.6 78.5,567.0 79.4,566.5 80.3,566.0 81.2,565.5 82.1,565.1 83.0,564.7 83.9,564.4 84.8,564.1 85.7,563.8 86.6,563.5 87.5,563.2 88.4,563.0 89.3,562.8 90.2,562.6 91.1,562.4 92.0,562.2 92.9,562.0 93.8,561.8 94.6,561.7 95.5,561.6 96.4,561.4 97.3,561.3 98.2,561.2 99.1,561.1 100.0,561.0 100.9,560.9 101.8,560.8 102.7,560.7 103.6,560.6 104.5,560.5 105.4,560.4 106.3,560.3 107.2,560.3 108.1,560.2 109.0,560.1 109.9,560.1 110.8,560.0 111.7,560.0 112.6,559.9 113.5,559.8 114.4,559.8 115.3,559.7 116.2,559.7 117.0,559.6 117.9,559.6 118.8,559.6 119.7,559.5 120.6,559.5 121.5,559.4 122.4,559.4 123.3,559.4 124.2,559.3 125.1,559.3 126.0,559.2 126.9,559.2 127.8,559.2 128.7,559.2 129.6,559.1 130.5,559.1 131.4,559.1 132.3,559.0 133.2,559.0 134.1,559.0 135.0,559.0 135.9,558.9 136.8,558.9 137.7,558.9 138.6,558.9 139.4,558.8 140.3,558.8 141.2,558.8 142.1,558.8 143.0,558.8 143.5,558.8 143.6,558.8 143.8,560.7 144.1,562.4 144.3,563.7 144.5,564.9 144.7,565.8 145.0,566.6 145.2,567.2 145.4,567.8 145.6,568.3 145.9,568.7 146.1,569.0 146.3,569.3 146.5,569.6 146.8,569.8 147.0,570.0 147.2,570.2 147.4,570.3 147.6,570.5 147.9,570.6 148.1,570.7 149.2,571.2 150.3,571.6 151.5,572.0 152.6,572.3 153.7,572.6 154.8,572.9 155.9,573.2 157.1,573.4 158.2,573.7 159.3,573.9 160.4,574.1 161.5,574.4 162.7,574.6 163.8,574.8 164.9,575.0 166.0,575.2 167.1,575.3 168.3,575.5 169.4,575.7 170.5,575.8 171.6,576.0 172.7,576.2 173.9,576.3 175.0,576.5 176.1,576.6 177.2,576.7 178.3,576.9 179.5,577.0 180.6,577.2 181.7,577.3 182.8,577.4 183.9,577.5 185.1,577.7 186.2,577.8 187.3,577.9 188.4,578.0 189.5,578.1 190.7,578.2 191.8,578.4 192.9,578.5 194.0,578.6 195.1,578.7 196.3,578.8 197.4,578.9 198.5,579.0 199.6,579.1 200.7,579.2 201.9,579.3 203.0,579.4 204.1,579.5 205.2,579.6 206.3,579.7 207.5,579.8 208.6,579.9 209.7,580.0 210.8,580.1 211.9,580.2 213.1,580.3 214.2,580.4 215.3,580.5 216.4,580.6 217.5,580.7 218.7,580.8 219.8,580.9 220.9,581.0 222.0,581.1 223.1,581.2 224.3,581.2 225.4,581.3 226.5,581.4" stroke="#c8232c" stroke-width="0.7" fill="none" stroke-linejoin="round" opacity="0.85"/>
<path d="M49.4,601.8 60.6,598.2 60.6,598.2 60.8,597.8 61.0,597.3 61.3,596.8 61.5,596.3 61.7,595.8 61.9,595.4 62.2,594.9 62.4,594.4 62.6,594.0 62.8,593.5 63.1,593.1 63.3,592.7 63.5,592.3 63.7,591.8 64.0,591.4 64.2,591.0 64.4,590.6 64.6,590.2 64.9,589.8 65.1,589.5 66.0,588.0 66.9,586.6 67.8,585.3 68.7,584.1 69.6,582.9 70.5,581.8 71.4,580.8 72.2,579.9 73.1,579.0 74.0,578.1 74.9,577.4 75.8,576.6 76.7,575.9 77.6,575.3 78.5,574.7 79.4,574.1 80.3,573.6 81.2,573.0 82.1,572.6 83.0,572.1 83.9,571.7 84.8,571.3 85.7,570.9 86.6,570.6 87.5,570.2 88.4,569.9 89.3,569.6 90.2,569.3 91.1,569.1 92.0,568.8 92.9,568.6 93.8,568.3 94.6,568.1 95.5,567.9 96.4,567.7 97.3,567.5 98.2,567.4 99.1,567.2 100.0,567.0 100.9,566.9 101.8,566.7 102.7,566.6 103.6,566.5 104.5,566.3 105.4,566.2 106.3,566.1 107.2,566.0 108.1,565.9 109.0,565.8 109.9,565.7 110.8,565.6 111.7,565.5 112.6,565.4 113.5,565.3 114.4,565.3 115.3,565.2 116.2,565.1 117.0,565.0 117.9,565.0 118.8,564.9 119.7,564.8 120.6,564.8 121.5,564.7 122.4,564.7 123.3,564.6 124.2,564.6 125.1,564.5 126.0,564.5 126.9,564.4 127.8,564.4 128.7,564.3 129.6,564.3 130.5,564.2 131.4,564.2 132.3,564.2 133.2,564.1 134.1,564.1 135.0,564.0 135.9,564.0 136.8,564.0 137.7,563.9 138.6,563.9 139.4,563.9 140.3,563.8 141.2,563.8 142.1,563.8 143.0,563.8 143.5,563.8 143.6,563.8 143.8,565.7 144.1,567.3 144.3,568.6 144.5,569.7 144.7,570.7 145.0,571.4 145.2,572.1 145.4,572.6 145.6,573.1 145.9,573.5 146.1,573.8 146.3,574.1 146.5,574.3 146.8,574.5 147.0,574.7 147.2,574.9 147.4,575.1 147.6,575.2 147.9,575.3 148.1,575.4 149.2,575.9 150.3,576.3 151.5,576.6 152.6,576.9 153.7,577.2 154.8,577.4 155.9,577.7 157.1,577.9 158.2,578.2 159.3,578.4 160.4,578.6 161.5,578.8 162.7,579.0 163.8,579.1 164.9,579.3 166.0,579.5 167.1,579.6 168.3,579.8 169.4,579.9 170.5,580.1 171.6,580.2 172.7,580.4 173.9,580.5 175.0,580.6 176.1,580.7 177.2,580.9 178.3,581.0 179.5,581.1 180.6,581.2 181.7,581.3 182.8,581.4 183.9,581.5 185.1,581.6 186.2,581.7 187.3,581.8 188.4,581.9 189.5,582.0 190.7,582.1 191.8,582.2 192.9,582.3 194.0,582.4 195.1,582.5 196.3,582.6 197.4,582.7 198.5,582.8 199.6,582.9 200.7,583.0 201.9,583.0 203.0,583.1 204.1,583.2 205.2,583.3 206.3,583.4 207.5,583.5 208.6,583.5 209.7,583.6 210.8,583.7 211.9,583.8 213.1,583.9 214.2,583.9 215.3,584.0 216.4,584.1 217.5,584.2 218.7,584.2 219.8,584.3 220.9,584.4 222.0,584.5 223.1,584.5 224.3,584.6 225.4,584.7 226.5,584.8" stroke="#c8232c" stroke-width="0.7" fill="none" stroke-linejoin="round" opacity="0.85"/>
<path d="M49.4,601.8 60.6,598.2 60.6,598.2 60.8,597.9 61.0,597.6 61.3,597.3 61.5,597.0 61.7,596.7 61.9,596.4 62.2,596.1 62.4,595.8 62.6,595.5 62.8,595.2 63.1,595.0 63.3,594.7 63.5,594.4 63.7,594.1 64.0,593.8 64.2,593.5 64.4,593.3 64.6,593.0 64.9,592.7 65.1,592.5 66.0,591.4 66.9,590.4 67.8,589.4 68.7,588.5 69.6,587.6 70.5,586.8 71.4,586.0 72.2,585.2 73.1,584.5 74.0,583.8 74.9,583.1 75.8,582.5 76.7,581.9 77.6,581.3 78.5,580.8 79.4,580.3 80.3,579.8 81.2,579.3 82.1,578.9 83.0,578.5 83.9,578.1 84.8,577.7 85.7,577.3 86.6,577.0 87.5,576.7 88.4,576.4 89.3,576.1 90.2,575.8 91.1,575.5 92.0,575.3 92.9,575.0 93.8,574.8 94.6,574.6 95.5,574.3 96.4,574.1 97.3,574.0 98.2,573.8 99.1,573.6 100.0,573.4 100.9,573.3 101.8,573.1 102.7,573.0 103.6,572.8 104.5,572.7 105.4,572.6 106.3,572.4 107.2,572.3 108.1,572.2 109.0,572.1 109.9,572.0 110.8,571.9 111.7,571.8 112.6,571.7 113.5,571.6 114.4,571.5 115.3,571.5 116.2,571.4 117.0,571.3 117.9,571.2 118.8,571.2 119.7,571.1 120.6,571.0 121.5,571.0 122.4,570.9 123.3,570.9 124.2,570.8 125.1,570.8 126.0,570.7 126.9,570.7 127.8,570.6 128.7,570.6 129.6,570.5 130.5,570.5 131.4,570.4 132.3,570.4 133.2,570.4 134.1,570.3 135.0,570.3 135.9,570.2 136.8,570.2 137.7,570.2 138.6,570.2 139.4,570.1 140.3,570.1 141.2,570.1 142.1,570.0 143.0,570.0 143.5,570.0 143.6,570.0 143.8,571.7 144.1,573.1 144.3,574.3 144.5,575.3 144.7,576.1 145.0,576.8 145.2,577.4 145.4,577.8 145.6,578.2 145.9,578.6 146.1,578.9 146.3,579.1 146.5,579.3 146.8,579.5 147.0,579.7 147.2,579.8 147.4,580.0 147.6,580.1 147.9,580.2 148.1,580.3 149.2,580.7 150.3,581.0 151.5,581.3 152.6,581.6 153.7,581.8 154.8,582.0 155.9,582.3 157.1,582.5 158.2,582.6 159.3,582.8 160.4,583.0 161.5,583.2 162.7,583.3 163.8,583.5 164.9,583.6 166.0,583.7 167.1,583.9 168.3,584.0 169.4,584.1 170.5,584.2 171.6,584.4 172.7,584.5 173.9,584.6 175.0,584.7 176.1,584.8 177.2,584.9 178.3,585.0 179.5,585.1 180.6,585.2 181.7,585.3 182.8,585.3 183.9,585.4 185.1,585.5 186.2,585.6 187.3,585.7 188.4,585.8 189.5,585.8 190.7,585.9 191.8,586.0 192.9,586.1 194.0,586.1 195.1,586.2 196.3,586.3 197.4,586.3 198.5,586.4 199.6,586.5 200.7,586.6 201.9,586.6 203.0,586.7 204.1,586.8 205.2,586.8 206.3,586.9 207.5,587.0 208.6,587.0 209.7,587.1 210.8,587.1 211.9,587.2 213.1,587.3 214.2,587.3 215.3,587.4 216.4,587.5 217.5,587.5 218.7,587.6 219.8,587.6 220.9,587.7 222.0,587.8 223.1,587.8 224.3,587.9 225.4,587.9 226.5,588.0" stroke="#c8232c" stroke-width="0.7" fill="none" stroke-linejoin="round" opacity="0.85"/>
<path d="M49.4,601.8 60.6,598.2 60.6,598.2 60.8,598.1 61.0,597.9 61.3,597.7 61.5,597.5 61.7,597.3 61.9,597.2 62.2,597.0 62.4,596.8 62.6,596.6 62.8,596.4 63.1,596.2 63.3,596.1 63.5,595.9 63.7,595.7 64.0,595.5 64.2,595.3 64.4,595.1 64.6,595.0 64.9,594.8 65.1,594.6 66.0,593.9 66.9,593.2 67.8,592.5 68.7,591.8 69.6,591.2 70.5,590.6 71.4,590.0 72.2,589.4 73.1,588.9 74.0,588.3 74.9,587.8 75.8,587.3 76.7,586.9 77.6,586.4 78.5,586.0 79.4,585.6 80.3,585.2 81.2,584.8 82.1,584.4 83.0,584.1 83.9,583.7 84.8,583.4 85.7,583.1 86.6,582.8 87.5,582.5 88.4,582.2 89.3,582.0 90.2,581.7 91.1,581.5 92.0,581.3 92.9,581.1 93.8,580.8 94.6,580.6 95.5,580.4 96.4,580.3 97.3,580.1 98.2,579.9 99.1,579.7 100.0,579.6 100.9,579.4 101.8,579.3 102.7,579.2 103.6,579.0 104.5,578.9 105.4,578.8 106.3,578.6 107.2,578.5 108.1,578.4 109.0,578.3 109.9,578.2 110.8,578.1 111.7,578.0 112.6,577.9 113.5,577.9 114.4,577.8 115.3,577.7 116.2,577.6 117.0,577.5 117.9,577.5 118.8,577.4 119.7,577.3 120.6,577.3 121.5,577.2 122.4,577.2 123.3,577.1 124.2,577.0 125.1,577.0 126.0,576.9 126.9,576.9 127.8,576.8 128.7,576.8 129.6,576.8 130.5,576.7 131.4,576.7 132.3,576.6 133.2,576.6 134.1,576.6 135.0,576.5 135.9,576.5 136.8,576.5 137.7,576.4 138.6,576.4 139.4,576.4 140.3,576.3 141.2,576.3 142.1,576.3 143.0,576.3 143.5,576.2 143.6,576.2 143.8,577.5 144.1,578.5 144.3,579.3 144.5,580.0 144.7,580.6 145.0,581.1 145.2,581.5 145.4,581.9 145.6,582.1 145.9,582.4 146.1,582.6 146.3,582.8 146.5,582.9 146.8,583.1 147.0,583.2 147.2,583.3 147.4,583.4 147.6,583.5 147.9,583.6 148.1,583.6 149.2,583.9 150.3,584.2 151.5,584.4 152.6,584.6 153.7,584.8 154.8,584.9 155.9,585.1 157.1,585.3 158.2,585.4 159.3,585.5 160.4,585.7 161.5,585.8 162.7,585.9 163.8,586.0 164.9,586.2 166.0,586.3 167.1,586.4 168.3,586.5 169.4,586.6 170.5,586.7 171.6,586.8 172.7,586.8 173.9,586.9 175.0,587.0 176.1,587.1 177.2,587.2 178.3,587.3 179.5,587.3 180.6,587.4 181.7,587.5 182.8,587.6 183.9,587.6 185.1,587.7 186.2,587.8 187.3,587.8 188.4,587.9 189.5,588.0 190.7,588.0 191.8,588.1 192.9,588.1 194.0,588.2 195.1,588.3 196.3,588.3 197.4,588.4 198.5,588.4 199.6,588.5 200.7,588.6 201.9,588.6 203.0,588.7 204.1,588.7 205.2,588.8 206.3,588.8 207.5,588.9 208.6,589.0 209.7,589.0 210.8,589.1 211.9,589.1 213.1,589.2 214.2,589.2 215.3,589.3 216.4,589.3 217.5,589.4 218.7,589.4 219.8,589.5 220.9,589.5 222.0,589.6 223.1,589.6 224.3,589.7 225.4,589.7 226.5,589.8" stroke="#c8232c" stroke-width="0.7" fill="none" stroke-linejoin="round" opacity="0.85"/>
<path d="M49.4,601.8 60.6,598.2 60.6,598.2 60.8,598.1 61.0,598.0 61.3,597.9 61.5,597.8 61.7,597.7 61.9,597.5 62.2,597.4 62.4,597.3 62.6,597.2 62.8,597.0 63.1,596.9 63.3,596.8 63.5,596.7 63.7,596.5 64.0,596.4 64.2,596.3 64.4,596.1 64.6,596.0 64.9,595.9 65.1,595.7 66.0,595.2 66.9,594.7 67.8,594.2 68.7,593.7 69.6,593.2 70.5,592.7 71.4,592.2 72.2,591.8 73.1,591.3 74.0,590.9 74.9,590.5 75.8,590.1 76.7,589.7 77.6,589.3 78.5,588.9 79.4,588.6 80.3,588.3 81.2,587.9 82.1,587.6 83.0,587.3 83.9,587.0 84.8,586.7 85.7,586.5 86.6,586.2 87.5,586.0 88.4,585.7 89.3,585.5 90.2,585.3 91.1,585.0 92.0,584.8 92.9,584.6 93.8,584.4 94.6,584.3 95.5,584.1 96.4,583.9 97.3,583.7 98.2,583.6 99.1,583.4 100.0,583.3 100.9,583.1 101.8,583.0 102.7,582.9 103.6,582.8 104.5,582.6 105.4,582.5 106.3,582.4 107.2,582.3 108.1,582.2 109.0,582.1 109.9,582.0 110.8,581.9 111.7,581.8 112.6,581.7 113.5,581.6 114.4,581.5 115.3,581.5 116.2,581.4 117.0,581.3 117.9,581.2 118.8,581.2 119.7,581.1 120.6,581.0 121.5,581.0 122.4,580.9 123.3,580.9 124.2,580.8 125.1,580.8 126.0,580.7 126.9,580.7 127.8,580.6 128.7,580.6 129.6,580.5 130.5,580.5 131.4,580.4 132.3,580.4 133.2,580.4 134.1,580.3 135.0,580.3 135.9,580.3 136.8,580.2 137.7,580.2 138.6,580.2 139.4,580.1 140.3,580.1 141.2,580.1 142.1,580.0 143.0,580.0 143.5,580.0 143.6,580.0 143.8,581.0 144.1,581.9 144.3,582.6 144.5,583.2 144.7,583.7 145.0,584.1 145.2,584.4 145.4,584.7 145.6,585.0 145.9,585.2 146.1,585.4 146.3,585.5 146.5,585.6 146.8,585.8 147.0,585.9 147.2,585.9 147.4,586.0 147.6,586.1 147.9,586.2 148.1,586.2 149.2,586.5 150.3,586.7 151.5,586.9 152.6,587.0 153.7,587.2 154.8,587.3 155.9,587.5 157.1,587.6 158.2,587.7 159.3,587.8 160.4,587.9 161.5,588.0 162.7,588.2 163.8,588.3 164.9,588.3 166.0,588.4 167.1,588.5 168.3,588.6 169.4,588.7 170.5,588.8 171.6,588.8 172.7,588.9 173.9,589.0 175.0,589.1 176.1,589.1 177.2,589.2 178.3,589.3 179.5,589.3 180.6,589.4 181.7,589.5 182.8,589.5 183.9,589.6 185.1,589.6 186.2,589.7 187.3,589.7 188.4,589.8 189.5,589.9 190.7,589.9 191.8,590.0 192.9,590.0 194.0,590.1 195.1,590.1 196.3,590.2 197.4,590.2 198.5,590.3 199.6,590.3 200.7,590.4 201.9,590.4 203.0,590.5 204.1,590.5 205.2,590.6 206.3,590.6 207.5,590.7 208.6,590.7 209.7,590.7 210.8,590.8 211.9,590.8 213.1,590.9 214.2,590.9 215.3,591.0 216.4,591.0 217.5,591.1 218.7,591.1 219.8,591.1 220.9,591.2 222.0,591.2 223.1,591.3 224.3,591.3 225.4,591.4 226.5,591.4" stroke="#c8232c" stroke-width="0.7" fill="none" stroke-linejoin="round" opacity="0.85"/>
<path d="M49.4,601.8 60.6,598.2 60.6,598.2 60.8,598.2 61.0,598.1 61.3,598.1 61.5,598.0 61.7,597.9 61.9,597.8 62.2,597.8 62.4,597.7 62.6,597.6 62.8,597.5 63.1,597.4 63.3,597.3 63.5,597.3 63.7,597.2 64.0,597.1 64.2,597.0 64.4,596.9 64.6,596.8 64.9,596.7 65.1,596.6 66.0,596.2 66.9,595.9 67.8,595.5 68.7,595.1 69.6,594.7 70.5,594.4 71.4,594.0 72.2,593.7 73.1,593.3 74.0,593.0 74.9,592.7 75.8,592.3 76.7,592.0 77.6,591.7 78.5,591.4 79.4,591.2 80.3,590.9 81.2,590.6 82.1,590.4 83.0,590.1 83.9,589.9 84.8,589.6 85.7,589.4 86.6,589.2 87.5,589.0 88.4,588.8 89.3,588.6 90.2,588.4 91.1,588.2 92.0,588.1 92.9,587.9 93.8,587.7 94.6,587.6 95.5,587.4 96.4,587.3 97.3,587.1 98.2,587.0 99.1,586.9 100.0,586.7 100.9,586.6 101.8,586.5 102.7,586.4 103.6,586.3 104.5,586.2 105.4,586.0 106.3,585.9 107.2,585.8 108.1,585.8 109.0,585.7 109.9,585.6 110.8,585.5 111.7,585.4 112.6,585.3 113.5,585.3 114.4,585.2 115.3,585.1 116.2,585.0 117.0,585.0 117.9,584.9 118.8,584.8 119.7,584.8 120.6,584.7 121.5,584.7 122.4,584.6 123.3,584.6 124.2,584.5 125.1,584.5 126.0,584.4 126.9,584.4 127.8,584.3 128.7,584.3 129.6,584.2 130.5,584.2 131.4,584.2 132.3,584.1 133.2,584.1 134.1,584.1 135.0,584.0 135.9,584.0 136.8,584.0 137.7,583.9 138.6,583.9 139.4,583.9 140.3,583.8 141.2,583.8 142.1,583.8 143.0,583.8 143.5,583.8 143.6,583.8 143.8,584.6 144.1,585.2 144.3,585.8 144.5,586.2 144.7,586.6 145.0,587.0 145.2,587.2 145.4,587.5 145.6,587.6 145.9,587.8 146.1,587.9 146.3,588.1 146.5,588.2 146.8,588.3 147.0,588.3 147.2,588.4 147.4,588.5 147.6,588.5 147.9,588.6 148.1,588.6 149.2,588.8 150.3,589.0 151.5,589.1 152.6,589.3 153.7,589.4 154.8,589.5 155.9,589.6 157.1,589.7 158.2,589.8 159.3,589.9 160.4,590.0 161.5,590.1 162.7,590.2 163.8,590.3 164.9,590.3 166.0,590.4 167.1,590.5 168.3,590.5 169.4,590.6 170.5,590.7 171.6,590.7 172.7,590.8 173.9,590.9 175.0,590.9 176.1,591.0 177.2,591.0 178.3,591.1 179.5,591.1 180.6,591.2 181.7,591.2 182.8,591.3 183.9,591.3 185.1,591.4 186.2,591.4 187.3,591.5 188.4,591.5 189.5,591.6 190.7,591.6 191.8,591.7 192.9,591.7 194.0,591.7 195.1,591.8 196.3,591.8 197.4,591.9 198.5,591.9 199.6,592.0 200.7,592.0 201.9,592.0 203.0,592.1 204.1,592.1 205.2,592.2 206.3,592.2 207.5,592.2 208.6,592.3 209.7,592.3 210.8,592.3 211.9,592.4 213.1,592.4 214.2,592.5 215.3,592.5 216.4,592.5 217.5,592.6 218.7,592.6 219.8,592.6 220.9,592.7 222.0,592.7 223.1,592.7 224.3,592.8 225.4,592.8 226.5,592.8" stroke="#c8232c" stroke-width="0.7" fill="none" stroke-linejoin="round" opacity="0.85"/>
<path d="M49.4,601.8 60.6,598.2 60.6,598.2 60.8,598.2 61.0,598.2 61.3,598.1 61.5,598.1 61.7,598.1 61.9,598.0 62.2,598.0 62.4,597.9 62.6,597.8 62.8,597.8 63.1,597.7 63.3,597.7 63.5,597.6 63.7,597.6 64.0,597.5 64.2,597.4 64.4,597.4 64.6,597.3 64.9,597.2 65.1,597.2 66.0,596.9 66.9,596.6 67.8,596.3 68.7,596.0 69.6,595.7 70.5,595.4 71.4,595.1 72.2,594.8 73.1,594.5 74.0,594.3 74.9,594.0 75.8,593.7 76.7,593.5 77.6,593.2 78.5,593.0 79.4,592.8 80.3,592.5 81.2,592.3 82.1,592.1 83.0,591.9 83.9,591.7 84.8,591.5 85.7,591.3 86.6,591.1 87.5,590.9 88.4,590.8 89.3,590.6 90.2,590.4 91.1,590.3 92.0,590.1 92.9,590.0 93.8,589.8 94.6,589.7 95.5,589.6 96.4,589.4 97.3,589.3 98.2,589.2 99.1,589.1 100.0,589.0 100.9,588.9 101.8,588.7 102.7,588.6 103.6,588.5 104.5,588.4 105.4,588.4 106.3,588.3 107.2,588.2 108.1,588.1 109.0,588.0 109.9,587.9 110.8,587.9 111.7,587.8 112.6,587.7 113.5,587.6 114.4,587.6 115.3,587.5 116.2,587.4 117.0,587.4 117.9,587.3 118.8,587.3 119.7,587.2 120.6,587.2 121.5,587.1 122.4,587.1 123.3,587.0 124.2,587.0 125.1,586.9 126.0,586.9 126.9,586.8 127.8,586.8 128.7,586.8 129.6,586.7 130.5,586.7 131.4,586.6 132.3,586.6 133.2,586.6 134.1,586.5 135.0,586.5 135.9,586.5 136.8,586.4 137.7,586.4 138.6,586.4 139.4,586.4 140.3,586.3 141.2,586.3 142.1,586.3 143.0,586.3 143.5,586.2 143.6,586.2 143.8,586.9 144.1,587.5 144.3,587.9 144.5,588.3 144.7,588.6 145.0,588.9 145.2,589.1 145.4,589.3 145.6,589.4 145.9,589.6 146.1,589.7 146.3,589.8 146.5,589.9 146.8,589.9 147.0,590.0 147.2,590.1 147.4,590.1 147.6,590.2 147.9,590.2 148.1,590.2 149.2,590.4 150.3,590.5 151.5,590.7 152.6,590.8 153.7,590.9 154.8,591.0 155.9,591.1 157.1,591.1 158.2,591.2 159.3,591.3 160.4,591.4 161.5,591.5 162.7,591.5 163.8,591.6 164.9,591.7 166.0,591.7 167.1,591.8 168.3,591.8 169.4,591.9 170.5,591.9 171.6,592.0 172.7,592.1 173.9,592.1 175.0,592.2 176.1,592.2 177.2,592.2 178.3,592.3 179.5,592.3 180.6,592.4 181.7,592.4 182.8,592.5 183.9,592.5 185.1,592.6 186.2,592.6 187.3,592.6 188.4,592.7 189.5,592.7 190.7,592.7 191.8,592.8 192.9,592.8 194.0,592.9 195.1,592.9 196.3,592.9 197.4,593.0 198.5,593.0 199.6,593.0 200.7,593.1 201.9,593.1 203.0,593.1 204.1,593.2 205.2,593.2 206.3,593.2 207.5,593.3 208.6,593.3 209.7,593.3 210.8,593.4 211.9,593.4 213.1,593.4 214.2,593.5 215.3,593.5 216.4,593.5 217.5,593.6 218.7,593.6 219.8,593.6 220.9,593.7 222.0,593.7 223.1,593.7 224.3,593.7 225.4,593.8 226.5,593.8" stroke="#c8232c" stroke-width="0.7" fill="none" stroke-linejoin="round" opacity="0.85"/>
<line x1="181.30" y1="439.80" x2="181.30" y2="515.60" stroke="#333" stroke-width="0.9"/>
<line x1="181.30" y1="515.20" x2="256.50" y2="515.20" stroke="#333" stroke-width="0.9"/>
<line x1="179.30" y1="515.20" x2="181.30" y2="515.20" stroke="#333" stroke-width="0.8"/>
<text x="178.20" y="517.50" font-size="6.6" text-anchor="end" textLength="3.60" lengthAdjust="spacingAndGlyphs" style="stroke-width:0.12px">0</text>
<line x1="179.30" y1="496.45" x2="181.30" y2="496.45" stroke="#333" stroke-width="0.8"/>
<text x="178.20" y="498.75" font-size="6.6" text-anchor="end" textLength="7.40" lengthAdjust="spacingAndGlyphs" style="stroke-width:0.12px">50</text>
<line x1="179.30" y1="477.70" x2="181.30" y2="477.70" stroke="#333" stroke-width="0.8"/>
<text x="178.20" y="480.00" font-size="6.6" text-anchor="end" textLength="10.60" lengthAdjust="spacingAndGlyphs" style="stroke-width:0.12px">100</text>
<line x1="179.30" y1="458.95" x2="181.30" y2="458.95" stroke="#333" stroke-width="0.8"/>
<text x="178.20" y="461.25" font-size="6.6" text-anchor="end" textLength="10.60" lengthAdjust="spacingAndGlyphs" style="stroke-width:0.12px">150</text>
<line x1="179.30" y1="440.20" x2="181.30" y2="440.20" stroke="#333" stroke-width="0.8"/>
<text x="178.20" y="442.50" font-size="6.6" text-anchor="end" textLength="10.60" lengthAdjust="spacingAndGlyphs" style="stroke-width:0.12px">200</text>
<line x1="181.30" y1="515.20" x2="181.30" y2="517.00" stroke="#333" stroke-width="0.8"/>
<text x="181.30" y="524.60" font-size="6.6" text-anchor="middle" style="stroke-width:0.12px">0</text>
<line x1="202.80" y1="515.20" x2="202.80" y2="517.00" stroke="#333" stroke-width="0.8"/>
<text x="202.80" y="524.60" font-size="6.6" text-anchor="middle" textLength="14.70" lengthAdjust="spacingAndGlyphs" style="stroke-width:0.12px">1000</text>
<line x1="224.30" y1="515.20" x2="224.30" y2="517.00" stroke="#333" stroke-width="0.8"/>
<text x="224.30" y="524.60" font-size="6.6" text-anchor="middle" textLength="14.70" lengthAdjust="spacingAndGlyphs" style="stroke-width:0.12px">2000</text>
<line x1="245.80" y1="515.20" x2="245.80" y2="517.00" stroke="#333" stroke-width="0.8"/>
<text x="245.80" y="524.60" font-size="6.6" text-anchor="middle" textLength="14.70" lengthAdjust="spacingAndGlyphs" style="stroke-width:0.12px">3000</text>
<line x1="192.05" y1="515.20" x2="192.05" y2="516.40" stroke="#333" stroke-width="0.7"/>
<line x1="213.55" y1="515.20" x2="213.55" y2="516.40" stroke="#333" stroke-width="0.7"/>
<line x1="235.05" y1="515.20" x2="235.05" y2="516.40" stroke="#333" stroke-width="0.7"/>
<line x1="256.55" y1="515.20" x2="256.55" y2="516.40" stroke="#333" stroke-width="0.7"/>
<text x="218.80" y="534.60" font-size="6.7" text-anchor="middle" textLength="25.10" lengthAdjust="spacingAndGlyphs" style="stroke-width:0.12px">FH (nM)</text>
<text x="164.80" y="474.70" font-size="6.4" text-anchor="middle" textLength="48.60" lengthAdjust="spacingAndGlyphs" style="stroke-width:0.12px" transform="rotate(-90 164.80 474.70)">Response (RU)</text>
<path d="M181.30,515.20 L181.41,510.67 L181.52,507.71 L181.62,505.59 L181.73,503.96 L181.84,502.66 L181.95,501.57 L182.05,500.64 L182.16,499.83 L182.27,499.10 L182.38,498.45 L182.48,497.85 L182.59,497.29 L182.70,496.77 L182.81,496.29 L182.91,495.83 L183.02,495.39 L183.13,494.97 L183.24,494.57 L183.34,494.18 L183.45,493.80 L183.67,493.09 L184.79,489.86 L185.92,487.14 L187.04,484.73 L188.17,482.54 L189.30,480.53 L190.42,478.66 L191.55,476.93 L192.67,475.30 L193.80,473.78 L194.93,472.34 L196.05,470.99 L197.18,469.71 L198.30,468.50 L199.43,467.35 L200.56,466.26 L201.68,465.23 L202.81,464.24 L203.93,463.30 L205.06,462.40 L206.19,461.54 L207.31,460.72 L208.44,459.93 L209.56,459.17 L210.69,458.45 L211.82,457.75 L212.94,457.08 L214.07,456.44 L215.19,455.82 L216.32,455.22 L217.45,454.65 L218.57,454.09 L219.70,453.56 L220.82,453.04 L221.95,452.54 L223.08,452.06 L224.20,451.59 L225.33,451.14 L226.45,450.70 L227.58,450.27 L228.71,449.86 L229.83,449.46 L230.96,449.07 L232.08,448.70 L233.21,448.33 L234.34,447.98 L235.46,447.63 L236.59,447.29 L237.71,446.97 L238.84,446.65 L239.97,446.34 L241.09,446.04 L242.22,445.74 L243.34,445.46 L244.47,445.18 L245.60,444.90 L246.72,444.64 L247.85,444.38 L248.97,444.13 L250.10,443.88" stroke="#222" stroke-width="0.9" fill="none"/>
<circle cx="250.10" cy="443.20" r="1.5" fill="#fff" stroke="#444" stroke-width="0.6"/>
<circle cx="215.70" cy="456.70" r="1.5" fill="#fff" stroke="#444" stroke-width="0.6"/>
<circle cx="198.50" cy="468.70" r="1.5" fill="#fff" stroke="#444" stroke-width="0.6"/>
<circle cx="189.90" cy="478.45" r="1.5" fill="#fff" stroke="#444" stroke-width="0.6"/>
<circle cx="185.60" cy="487.08" r="1.5" fill="#fff" stroke="#444" stroke-width="0.6"/>
<circle cx="183.45" cy="493.83" r="1.5" fill="#fff" stroke="#444" stroke-width="0.6"/>
<circle cx="182.38" cy="499.08" r="1.5" fill="#fff" stroke="#444" stroke-width="0.6"/>
<circle cx="181.84" cy="503.95" r="1.5" fill="#fff" stroke="#444" stroke-width="0.6"/>
<circle cx="181.57" cy="506.95" r="1.5" fill="#fff" stroke="#444" stroke-width="0.6"/>
<circle cx="181.43" cy="509.20" r="1.5" fill="#fff" stroke="#444" stroke-width="0.6"/>
<circle cx="181.37" cy="510.70" r="1.5" fill="#fff" stroke="#444" stroke-width="0.6"/>
<circle cx="181.33" cy="511.83" r="1.5" fill="#fff" stroke="#444" stroke-width="0.6"/>
<line x1="347.10" y1="478.80" x2="347.10" y2="613.80" stroke="#333" stroke-width="1.4"/>
<line x1="482.50" y1="478.00" x2="482.50" y2="613.80" stroke="#333" stroke-width="1.4"/>
<line x1="347.10" y1="613.20" x2="482.50" y2="613.20" stroke="#333" stroke-width="1.4"/>
<line x1="344.30" y1="479.40" x2="347.10" y2="479.40" stroke="#333" stroke-width="0.9"/>
<text x="341.80" y="482.40" font-size="10.0" text-anchor="end" textLength="14.00" lengthAdjust="spacingAndGlyphs">0.6</text>
<line x1="344.30" y1="524.00" x2="347.10" y2="524.00" stroke="#333" stroke-width="0.9"/>
<text x="341.80" y="527.00" font-size="10.0" text-anchor="end" textLength="14.00" lengthAdjust="spacingAndGlyphs">0.4</text>
<line x1="344.30" y1="568.60" x2="347.10" y2="568.60" stroke="#333" stroke-width="0.9"/>
<text x="341.80" y="571.60" font-size="10.0" text-anchor="end" textLength="14.00" lengthAdjust="spacingAndGlyphs">0.2</text>
<line x1="344.30" y1="613.20" x2="347.10" y2="613.20" stroke="#333" stroke-width="0.9"/>
<text x="341.80" y="616.20" font-size="10.0" text-anchor="end" textLength="14.00" lengthAdjust="spacingAndGlyphs">0.0</text>
<line x1="482.50" y1="478.80" x2="485.30" y2="478.80" stroke="#333" stroke-width="0.9"/>
<text x="488.40" y="481.90" font-size="10.0" textLength="17.00" lengthAdjust="spacingAndGlyphs">100</text>
<line x1="482.50" y1="512.40" x2="485.30" y2="512.40" stroke="#333" stroke-width="0.9"/>
<text x="488.40" y="515.50" font-size="10.0" textLength="11.00" lengthAdjust="spacingAndGlyphs">75</text>
<line x1="482.50" y1="546.00" x2="485.30" y2="546.00" stroke="#333" stroke-width="0.9"/>
<text x="488.40" y="549.10" font-size="10.0" textLength="11.00" lengthAdjust="spacingAndGlyphs">50</text>
<line x1="482.50" y1="579.60" x2="485.30" y2="579.60" stroke="#333" stroke-width="0.9"/>
<text x="488.40" y="582.70" font-size="10.0" textLength="11.00" lengthAdjust="spacingAndGlyphs">25</text>
<line x1="482.50" y1="613.20" x2="485.30" y2="613.20" stroke="#333" stroke-width="0.9"/>
<text x="488.40" y="616.30" font-size="10.0">0</text>
<line x1="377.50" y1="613.20" x2="377.50" y2="615.60" stroke="#333" stroke-width="0.9"/>
<line x1="415.00" y1="613.20" x2="415.00" y2="615.60" stroke="#333" stroke-width="0.9"/>
<line x1="460.00" y1="613.20" x2="460.00" y2="615.60" stroke="#333" stroke-width="0.9"/>
<line x1="362.40" y1="495.01" x2="362.40" y2="489.44" stroke="#333" stroke-width="0.9"/>
<line x1="357.80" y1="489.44" x2="367.00" y2="489.44" stroke="#333" stroke-width="0.9"/>
<rect x="355.35" y="495.46" width="14.10" height="117.29" fill="#fff" stroke="#333" stroke-width="0.9"/>
<rect x="369.90" y="482.16" width="15.50" height="131.04" fill="#000"/>
<line x1="407.10" y1="589.34" x2="407.10" y2="579.30" stroke="#333" stroke-width="0.9"/>
<line x1="402.50" y1="579.30" x2="411.70" y2="579.30" stroke="#333" stroke-width="0.9"/>
<rect x="399.85" y="589.79" width="14.50" height="22.96" fill="#fff" stroke="#333" stroke-width="0.9"/>
<rect x="414.80" y="605.14" width="15.70" height="8.06" fill="#000"/>
<rect x="445.55" y="611.20" width="14.80" height="1.55" fill="#fff" stroke="#333" stroke-width="0.9"/>
<rect x="460.80" y="523.15" width="14.40" height="90.05" fill="#000"/>
<rect x="316.60" y="471.80" width="4.80" height="6.40" fill="#fff" stroke="#333" stroke-width="0.9"/>
<rect x="512.80" y="470.90" width="6.10" height="8.00" fill="#000"/>
<text x="309.20" y="542.30" font-size="9.4" text-anchor="middle" textLength="133.30" lengthAdjust="spacingAndGlyphs" transform="rotate(-90 309.20 542.30)">VWF-FH complex in plasma</text>
<text x="322.40" y="543.00" font-size="9.4" text-anchor="middle" textLength="63.80" lengthAdjust="spacingAndGlyphs" transform="rotate(-90 322.40 543.00)">(DO, 492 nm)</text>
<text x="509.80" y="549.20" font-size="9.4" text-anchor="middle" textLength="40.00" lengthAdjust="spacingAndGlyphs" transform="rotate(90 509.80 549.20)">VWF (%)</text>
<text x="376.40" y="633.20" font-size="10.0" text-anchor="middle" textLength="34.80" lengthAdjust="spacingAndGlyphs">Normal</text>
<text x="376.40" y="645.40" font-size="10.0" text-anchor="middle" textLength="34.80" lengthAdjust="spacingAndGlyphs">plasma</text>
<text x="420.00" y="633.20" font-size="10.0" text-anchor="middle" textLength="30.80" lengthAdjust="spacingAndGlyphs">Type 3</text>
<text x="420.00" y="645.40" font-size="10.0" text-anchor="middle" textLength="21.80" lengthAdjust="spacingAndGlyphs">VWD</text>
<text x="470.00" y="633.20" font-size="10.0" text-anchor="middle" textLength="12.40" lengthAdjust="spacingAndGlyphs">FH</text>
<text x="470.00" y="645.40" font-size="10.0" text-anchor="middle" textLength="41.60" lengthAdjust="spacingAndGlyphs">depleted</text>
<text x="470.00" y="657.60" font-size="10.0" text-anchor="middle" textLength="29.20" lengthAdjust="spacingAndGlyphs">serum</text>
<defs><linearGradient id="gelg" x1="0" y1="0" x2="0" y2="1"><stop offset="0" stop-color="#b4b4b4"/><stop offset="1" stop-color="#a2a2a2"/></linearGradient><radialGradient id="band"><stop offset="0" stop-color="#767676"/><stop offset="0.6" stop-color="#8a8a8a"/><stop offset="1" stop-color="#a6a6a6" stop-opacity="0"/></radialGradient></defs>
<rect x="422.00" y="463.40" width="51.90" height="13.30" fill="url(#gelg)"/>
<ellipse cx="432.0" cy="470.0" rx="7.0" ry="2.8" fill="url(#band)"/>
<text x="400.00" y="457.30" font-size="10.0" textLength="21.10" lengthAdjust="spacingAndGlyphs">kDa</text>
<text x="431.30" y="457.30" font-size="9.6" text-anchor="middle">1</text>
<text x="448.10" y="457.30" font-size="9.6" text-anchor="middle">2</text>
<text x="464.10" y="457.30" font-size="9.6" text-anchor="middle">3</text>
<text x="401.20" y="471.70" font-size="10.2" textLength="17.30" lengthAdjust="spacingAndGlyphs">155</text>
<text x="23.00" y="28.80" font-size="8.9" textLength="27.70" lengthAdjust="spacingAndGlyphs" style="stroke-width:0.5px">Isotype</text>
<text x="23.20" y="40.00" font-size="8.9" textLength="27.30" lengthAdjust="spacingAndGlyphs" style="stroke-width:0.5px">control</text>
<text x="34.60" y="95.60" font-size="8.0" textLength="9.40" lengthAdjust="spacingAndGlyphs" style="fill:#4c8038;stroke:#4c8038">FH</text>
<text x="34.40" y="106.60" font-size="8.0" textLength="18.20" lengthAdjust="spacingAndGlyphs" style="fill:#b8202e;stroke:#b8202e">VWF</text>
<text x="33.40" y="158.00" font-size="8.0" textLength="9.40" lengthAdjust="spacingAndGlyphs" style="fill:#4c8038;stroke:#4c8038">FH</text>
<text x="33.00" y="169.50" font-size="8.0" textLength="18.90" lengthAdjust="spacingAndGlyphs" style="fill:#b8202e;stroke:#b8202e">VWF</text>
<defs><filter id="b1" x="-50%" y="-50%" width="200%" height="200%"><feGaussianBlur stdDeviation="1.6"/></filter><filter id="b2" x="-50%" y="-50%" width="200%" height="200%"><feGaussianBlur stdDeviation="3.0"/></filter><filter id="b15" x="-50%" y="-50%" width="200%" height="200%"><feGaussianBlur stdDeviation="2.0"/></filter><filter id="b05" x="-50%" y="-50%" width="200%" height="200%"><feGaussianBlur stdDeviation="0.45"/></filter><filter id="b08" x="-50%" y="-50%" width="200%" height="200%"><feGaussianBlur stdDeviation="0.9"/></filter>
<clipPath id="c00"><rect x="59.5" y="4.0" width="83.0" height="62.2"/></clipPath>
<clipPath id="c10"><rect x="59.5" y="67.6" width="83.0" height="61.400000000000006"/></clipPath>
<clipPath id="c20"><rect x="59.5" y="130.8" width="83.0" height="60.79999999999998"/></clipPath>
<clipPath id="c01"><rect x="142.5" y="4.0" width="82.0" height="62.2"/></clipPath>
<clipPath id="c11"><rect x="142.5" y="67.6" width="82.0" height="61.400000000000006"/></clipPath>
<clipPath id="c21"><rect x="142.5" y="130.8" width="82.0" height="60.79999999999998"/></clipPath>
<clipPath id="c02"><rect x="224.5" y="4.0" width="84.5" height="62.2"/></clipPath>
<clipPath id="c12"><rect x="224.5" y="67.6" width="84.5" height="61.400000000000006"/></clipPath>
<clipPath id="c22"><rect x="224.5" y="130.8" width="84.5" height="60.79999999999998"/></clipPath>
</defs>
<rect x="59.50" y="4.00" width="249.50" height="62.20" fill="#050505"/>
<rect x="59.50" y="67.60" width="249.50" height="61.40" fill="#050505"/>
<rect x="59.50" y="130.80" width="249.50" height="60.80" fill="#050505"/>
<g clip-path="url(#c00)"><rect x="58.5" y="3.0" width="85.0" height="64.2" fill="#050a05"/><ellipse cx="83.5" cy="44.0" rx="20" ry="16" fill="#24400e" opacity="0.5" filter="url(#b2)" transform="rotate(20 83.5 44.0)"/><g filter="url(#b05)"><circle cx="80.7" cy="31.1" r="0.71" fill="#4a6a1a" opacity="0.23"/><circle cx="86.3" cy="40.5" r="0.38" fill="#4a6a1a" opacity="0.40"/><circle cx="66.8" cy="35.7" r="0.39" fill="#4a6a1a" opacity="0.24"/><circle cx="77.1" cy="52.8" r="0.42" fill="#4a6a1a" opacity="0.29"/><circle cx="83.4" cy="59.2" r="0.67" fill="#4a6a1a" opacity="0.36"/><circle cx="99.3" cy="42.6" r="0.43" fill="#4a6a1a" opacity="0.25"/><circle cx="72.8" cy="50.9" r="0.45" fill="#4a6a1a" opacity="0.43"/><circle cx="90.1" cy="42.1" r="0.65" fill="#4a6a1a" opacity="0.23"/><circle cx="91.1" cy="44.3" r="0.52" fill="#4a6a1a" opacity="0.43"/><circle cx="83.9" cy="37.3" r="0.79" fill="#4a6a1a" opacity="0.48"/><circle cx="73.1" cy="42.7" r="0.64" fill="#4a6a1a" opacity="0.55"/><circle cx="94.4" cy="40.8" r="0.89" fill="#4a6a1a" opacity="0.25"/><circle cx="77.6" cy="50.6" r="0.43" fill="#4a6a1a" opacity="0.40"/><circle cx="64.3" cy="42.8" r="0.77" fill="#4a6a1a" opacity="0.43"/><circle cx="99.7" cy="43.5" r="0.73" fill="#4a6a1a" opacity="0.44"/><circle cx="87.0" cy="43.8" r="0.81" fill="#4a6a1a" opacity="0.58"/><circle cx="80.7" cy="48.6" r="0.38" fill="#4a6a1a" opacity="0.48"/><circle cx="98.0" cy="41.9" r="0.56" fill="#4a6a1a" opacity="0.47"/><circle cx="66.0" cy="36.3" r="0.44" fill="#4a6a1a" opacity="0.25"/><circle cx="72.3" cy="31.3" r="0.57" fill="#4a6a1a" opacity="0.55"/><circle cx="68.3" cy="36.7" r="0.65" fill="#4a6a1a" opacity="0.55"/><circle cx="91.5" cy="59.3" r="0.50" fill="#4a6a1a" opacity="0.37"/><circle cx="74.0" cy="53.6" r="0.88" fill="#4a6a1a" opacity="0.26"/><circle cx="74.3" cy="31.5" r="0.48" fill="#4a6a1a" opacity="0.39"/><circle cx="89.4" cy="38.1" r="0.35" fill="#4a6a1a" opacity="0.37"/><circle cx="77.9" cy="44.2" r="0.87" fill="#4a6a1a" opacity="0.48"/><circle cx="82.8" cy="47.7" r="0.72" fill="#4a6a1a" opacity="0.22"/><circle cx="95.5" cy="57.9" r="0.83" fill="#4a6a1a" opacity="0.52"/><circle cx="80.6" cy="39.5" r="0.41" fill="#4a6a1a" opacity="0.45"/><circle cx="76.2" cy="29.9" r="0.54" fill="#4a6a1a" opacity="0.22"/></g><ellipse cx="75.2" cy="29.7" rx="4.93" ry="3.4" fill="#2424b8" opacity="0.6" filter="url(#b1)" transform="rotate(35 75.2 29.7)"/><ellipse cx="97.8" cy="28.0" rx="3.57" ry="4.59" fill="#2424b8" opacity="0.85" filter="url(#b1)" transform="rotate(-10 97.8 28.0)"/><ellipse cx="87.3" cy="44.2" rx="4.42" ry="3.57" fill="#2424b8" opacity="0.7" filter="url(#b1)" transform="rotate(15 87.3 44.2)"/><ellipse cx="116.4" cy="48.2" rx="4.42" ry="3.74" fill="#2424b8" opacity="0.7" filter="url(#b1)"/><ellipse cx="66.3" cy="54.7" rx="4.42" ry="3.9099999999999997" fill="#2424b8" opacity="0.6" filter="url(#b1)"/><ellipse cx="101.0" cy="56.3" rx="4.08" ry="3.4" fill="#2424b8" opacity="0.75" filter="url(#b1)"/><ellipse cx="128.5" cy="54.7" rx="4.08" ry="3.57" fill="#2424b8" opacity="0.6" filter="url(#b1)"/><ellipse cx="135.7" cy="39.3" rx="3.9099999999999997" ry="3.74" fill="#2424b8" opacity="0.5" filter="url(#b1)"/><ellipse cx="123.6" cy="7.8" rx="3.9099999999999997" ry="3.9099999999999997" fill="#2424b8" opacity="0.45" filter="url(#b1)"/><ellipse cx="111.5" cy="15.9" rx="3.4" ry="4.42" fill="#2424b8" opacity="0.5" filter="url(#b1)"/><ellipse cx="88.0" cy="64.8" rx="3.9099999999999997" ry="3.23" fill="#2424b8" opacity="0.55" filter="url(#b1)"/><ellipse cx="139.8" cy="61.5" rx="3.57" ry="3.57" fill="#2424b8" opacity="0.5" filter="url(#b1)"/></g>
<g clip-path="url(#c10)"><rect x="58.5" y="66.6" width="85.0" height="63.4" fill="#060e04"/><ellipse cx="101.5" cy="102.6" rx="40" ry="26" fill="#10280a" opacity="1.0" filter="url(#b2)"/><ellipse cx="129.8" cy="86.2" rx="9.774999999999999" ry="14.374999999999998" fill="#3a8a16" opacity="0.55" filter="url(#b2)" transform="rotate(-20 129.8 86.2)"/><ellipse cx="129.8" cy="86.2" rx="6.0" ry="9.1" fill="none" stroke="#78d830" stroke-width="2.3" opacity="0.32" filter="url(#b15)" transform="rotate(-20 129.8 86.2)"/><g filter="url(#b05)"><circle cx="120.8" cy="85.1" r="0.42" fill="#aaf04a" opacity="0.92"/><circle cx="128.4" cy="75.5" r="0.55" fill="#aaf04a" opacity="0.58"/><circle cx="123.3" cy="76.5" r="0.91" fill="#aaf04a" opacity="1.00"/><circle cx="124.4" cy="80.7" r="0.90" fill="#aaf04a" opacity="0.45"/><circle cx="126.7" cy="76.0" r="0.73" fill="#aaf04a" opacity="0.37"/><circle cx="135.2" cy="99.5" r="0.92" fill="#aaf04a" opacity="0.80"/><circle cx="123.9" cy="84.1" r="0.50" fill="#aaf04a" opacity="0.85"/><circle cx="133.3" cy="93.8" r="0.60" fill="#aaf04a" opacity="0.49"/><circle cx="139.7" cy="92.4" r="0.89" fill="#aaf04a" opacity="0.83"/><circle cx="124.7" cy="88.6" r="0.61" fill="#aaf04a" opacity="0.37"/><circle cx="127.2" cy="93.3" r="0.97" fill="#aaf04a" opacity="0.64"/><circle cx="137.1" cy="79.2" r="0.53" fill="#aaf04a" opacity="0.50"/><circle cx="121.0" cy="80.0" r="0.77" fill="#aaf04a" opacity="0.94"/><circle cx="136.1" cy="83.2" r="0.79" fill="#aaf04a" opacity="0.87"/><circle cx="123.5" cy="93.6" r="0.95" fill="#aaf04a" opacity="0.86"/><circle cx="134.4" cy="83.8" r="0.51" fill="#aaf04a" opacity="0.86"/><circle cx="129.7" cy="95.8" r="0.98" fill="#aaf04a" opacity="0.61"/><circle cx="132.5" cy="99.5" r="0.83" fill="#aaf04a" opacity="0.46"/><circle cx="126.4" cy="97.9" r="0.99" fill="#aaf04a" opacity="0.78"/><circle cx="127.4" cy="88.6" r="0.48" fill="#aaf04a" opacity="0.36"/><circle cx="140.4" cy="87.1" r="0.72" fill="#aaf04a" opacity="0.96"/><circle cx="132.3" cy="97.1" r="0.90" fill="#aaf04a" opacity="0.49"/><circle cx="122.9" cy="82.1" r="0.54" fill="#aaf04a" opacity="0.73"/><circle cx="124.4" cy="85.6" r="0.48" fill="#aaf04a" opacity="0.94"/><circle cx="126.6" cy="86.0" r="0.75" fill="#aaf04a" opacity="0.94"/><circle cx="132.6" cy="98.5" r="0.70" fill="#aaf04a" opacity="0.70"/><circle cx="125.3" cy="72.5" r="0.66" fill="#aaf04a" opacity="0.47"/><circle cx="123.2" cy="87.7" r="0.84" fill="#aaf04a" opacity="0.71"/><circle cx="126.7" cy="87.9" r="0.73" fill="#aaf04a" opacity="0.86"/><circle cx="122.9" cy="90.6" r="0.55" fill="#aaf04a" opacity="0.53"/><circle cx="135.1" cy="84.5" r="0.74" fill="#aaf04a" opacity="0.84"/><circle cx="137.1" cy="81.7" r="0.77" fill="#aaf04a" opacity="0.68"/><circle cx="132.0" cy="91.5" r="0.67" fill="#aaf04a" opacity="0.70"/><circle cx="133.9" cy="98.8" r="0.82" fill="#aaf04a" opacity="0.92"/><circle cx="135.5" cy="98.3" r="0.90" fill="#aaf04a" opacity="0.44"/><circle cx="122.0" cy="87.2" r="0.44" fill="#aaf04a" opacity="0.51"/><circle cx="123.4" cy="94.0" r="0.87" fill="#aaf04a" opacity="0.93"/><circle cx="125.4" cy="94.7" r="0.80" fill="#aaf04a" opacity="0.44"/><circle cx="122.6" cy="86.6" r="0.71" fill="#aaf04a" opacity="0.57"/><circle cx="122.1" cy="83.2" r="0.83" fill="#aaf04a" opacity="0.36"/><circle cx="119.8" cy="82.3" r="0.42" fill="#aaf04a" opacity="0.86"/><circle cx="121.6" cy="77.4" r="0.65" fill="#aaf04a" opacity="0.94"/><circle cx="133.4" cy="77.2" r="0.49" fill="#aaf04a" opacity="0.95"/><circle cx="133.2" cy="91.4" r="0.45" fill="#aaf04a" opacity="0.39"/><circle cx="132.6" cy="82.8" r="0.44" fill="#aaf04a" opacity="0.96"/><circle cx="135.5" cy="93.8" r="0.45" fill="#aaf04a" opacity="0.91"/><circle cx="127.3" cy="82.0" r="0.73" fill="#aaf04a" opacity="0.95"/><circle cx="121.5" cy="77.4" r="0.72" fill="#aaf04a" opacity="0.50"/><circle cx="124.2" cy="82.0" r="0.86" fill="#aaf04a" opacity="0.54"/><circle cx="126.5" cy="77.1" r="0.61" fill="#aaf04a" opacity="0.36"/><circle cx="134.8" cy="86.0" r="0.51" fill="#aaf04a" opacity="0.66"/><circle cx="135.2" cy="82.1" r="0.70" fill="#aaf04a" opacity="0.89"/><circle cx="130.2" cy="96.7" r="0.82" fill="#aaf04a" opacity="0.76"/><circle cx="126.4" cy="82.6" r="0.43" fill="#aaf04a" opacity="0.43"/><circle cx="124.0" cy="96.0" r="0.55" fill="#aaf04a" opacity="0.46"/><circle cx="138.7" cy="88.4" r="0.57" fill="#aaf04a" opacity="0.51"/><circle cx="125.4" cy="86.5" r="0.49" fill="#aaf04a" opacity="0.64"/><circle cx="139.3" cy="84.2" r="0.55" fill="#aaf04a" opacity="0.98"/></g><ellipse cx="127.4" cy="87.0" rx="3.4" ry="5.6" fill="#2a6a8a" opacity="0.45" filter="url(#b1)" transform="rotate(-20 127.4 87.0)"/><ellipse cx="108.0" cy="83.8" rx="8.969999999999999" ry="8.969999999999999" fill="#3a8a16" opacity="0.39" filter="url(#b2)"/><ellipse cx="108.0" cy="83.8" rx="6.0" ry="5.6" fill="none" stroke="#78d830" stroke-width="1.6" opacity="0.22" filter="url(#b15)"/><g filter="url(#b05)"><circle cx="104.4" cy="81.1" r="0.40" fill="#aaf04a" opacity="0.42"/><circle cx="102.4" cy="83.9" r="0.40" fill="#aaf04a" opacity="0.37"/><circle cx="100.3" cy="81.9" r="0.43" fill="#aaf04a" opacity="0.26"/><circle cx="104.3" cy="78.8" r="0.75" fill="#aaf04a" opacity="0.49"/><circle cx="112.7" cy="86.7" r="0.83" fill="#aaf04a" opacity="0.64"/><circle cx="105.9" cy="80.5" r="0.99" fill="#aaf04a" opacity="0.31"/><circle cx="112.2" cy="86.5" r="0.43" fill="#aaf04a" opacity="0.63"/><circle cx="115.3" cy="86.2" r="0.84" fill="#aaf04a" opacity="0.61"/><circle cx="101.2" cy="84.2" r="0.70" fill="#aaf04a" opacity="0.62"/><circle cx="113.7" cy="89.9" r="0.75" fill="#aaf04a" opacity="0.65"/><circle cx="111.4" cy="87.4" r="0.54" fill="#aaf04a" opacity="0.26"/><circle cx="101.1" cy="81.2" r="0.46" fill="#aaf04a" opacity="0.63"/><circle cx="110.4" cy="87.2" r="0.69" fill="#aaf04a" opacity="0.25"/><circle cx="113.6" cy="88.4" r="0.70" fill="#aaf04a" opacity="0.49"/><circle cx="111.0" cy="75.7" r="0.84" fill="#aaf04a" opacity="0.36"/><circle cx="100.0" cy="79.4" r="0.84" fill="#aaf04a" opacity="0.34"/><circle cx="107.6" cy="87.2" r="0.86" fill="#aaf04a" opacity="0.53"/><circle cx="110.7" cy="75.9" r="0.49" fill="#aaf04a" opacity="0.36"/><circle cx="112.6" cy="80.1" r="0.74" fill="#aaf04a" opacity="0.25"/><circle cx="99.8" cy="79.5" r="0.80" fill="#aaf04a" opacity="0.56"/><circle cx="111.3" cy="79.9" r="0.71" fill="#aaf04a" opacity="0.46"/><circle cx="107.4" cy="76.7" r="0.94" fill="#aaf04a" opacity="0.34"/><circle cx="99.0" cy="83.0" r="0.89" fill="#aaf04a" opacity="0.69"/></g><ellipse cx="108.0" cy="83.8" rx="4.2" ry="3.4" fill="#2a6a8a" opacity="0.45" filter="url(#b1)"/><ellipse cx="98.5" cy="98.6" rx="11.5" ry="10.35" fill="#3a8a16" opacity="0.44" filter="url(#b2)"/><ellipse cx="98.5" cy="98.6" rx="7.8" ry="6.6" fill="none" stroke="#78d830" stroke-width="1.9" opacity="0.26" filter="url(#b15)"/><g filter="url(#b05)"><circle cx="97.3" cy="93.6" r="0.53" fill="#aaf04a" opacity="0.77"/><circle cx="91.6" cy="100.4" r="0.49" fill="#aaf04a" opacity="0.55"/><circle cx="106.2" cy="98.8" r="0.93" fill="#aaf04a" opacity="0.65"/><circle cx="92.1" cy="107.2" r="0.69" fill="#aaf04a" opacity="0.29"/><circle cx="86.6" cy="98.4" r="0.67" fill="#aaf04a" opacity="0.44"/><circle cx="89.9" cy="95.2" r="0.59" fill="#aaf04a" opacity="0.72"/><circle cx="108.7" cy="103.2" r="0.94" fill="#aaf04a" opacity="0.43"/><circle cx="95.4" cy="96.3" r="1.00" fill="#aaf04a" opacity="0.59"/><circle cx="95.2" cy="97.0" r="0.57" fill="#aaf04a" opacity="0.31"/><circle cx="93.4" cy="108.0" r="0.55" fill="#aaf04a" opacity="0.42"/><circle cx="98.8" cy="91.9" r="0.62" fill="#aaf04a" opacity="0.78"/><circle cx="107.7" cy="105.3" r="0.78" fill="#aaf04a" opacity="0.75"/><circle cx="109.1" cy="99.7" r="0.83" fill="#aaf04a" opacity="0.31"/><circle cx="104.1" cy="97.5" r="0.85" fill="#aaf04a" opacity="0.62"/><circle cx="93.4" cy="88.9" r="0.96" fill="#aaf04a" opacity="0.35"/><circle cx="97.8" cy="95.2" r="0.58" fill="#aaf04a" opacity="0.66"/><circle cx="102.2" cy="94.3" r="0.73" fill="#aaf04a" opacity="0.49"/><circle cx="90.5" cy="91.3" r="0.52" fill="#aaf04a" opacity="0.75"/><circle cx="98.4" cy="92.6" r="0.94" fill="#aaf04a" opacity="0.80"/><circle cx="97.3" cy="90.8" r="0.52" fill="#aaf04a" opacity="0.33"/><circle cx="94.7" cy="89.8" r="0.54" fill="#aaf04a" opacity="0.41"/><circle cx="100.2" cy="107.0" r="0.85" fill="#aaf04a" opacity="0.49"/><circle cx="95.5" cy="95.1" r="0.44" fill="#aaf04a" opacity="0.42"/><circle cx="107.2" cy="92.5" r="0.56" fill="#aaf04a" opacity="0.41"/><circle cx="108.0" cy="98.0" r="0.75" fill="#aaf04a" opacity="0.28"/><circle cx="95.9" cy="107.8" r="0.90" fill="#aaf04a" opacity="0.72"/><circle cx="99.0" cy="102.5" r="0.96" fill="#aaf04a" opacity="0.66"/><circle cx="102.0" cy="104.3" r="0.67" fill="#aaf04a" opacity="0.57"/><circle cx="92.1" cy="107.7" r="0.79" fill="#aaf04a" opacity="0.44"/><circle cx="89.6" cy="93.2" r="0.78" fill="#aaf04a" opacity="0.64"/><circle cx="95.8" cy="92.6" r="0.76" fill="#aaf04a" opacity="0.29"/><circle cx="93.7" cy="97.8" r="0.98" fill="#aaf04a" opacity="0.62"/><circle cx="107.7" cy="98.1" r="0.54" fill="#aaf04a" opacity="0.41"/><circle cx="98.5" cy="102.4" r="0.65" fill="#aaf04a" opacity="0.41"/><circle cx="102.5" cy="107.8" r="0.54" fill="#aaf04a" opacity="0.30"/><circle cx="94.6" cy="96.9" r="0.81" fill="#aaf04a" opacity="0.38"/><circle cx="105.6" cy="103.8" r="0.70" fill="#aaf04a" opacity="0.39"/><circle cx="106.2" cy="92.8" r="0.53" fill="#aaf04a" opacity="0.68"/><circle cx="93.6" cy="108.4" r="0.70" fill="#aaf04a" opacity="0.38"/></g><ellipse cx="96.7" cy="95.1" rx="5.7" ry="4.2" fill="#2a6a8a" opacity="0.45" filter="url(#b1)"/><ellipse cx="69.2" cy="91.8" rx="9.774999999999999" ry="9.774999999999999" fill="#3a8a16" opacity="0.11" filter="url(#b2)"/><ellipse cx="69.2" cy="91.8" rx="6.5" ry="6.2" fill="none" stroke="#78d830" stroke-width="1.8" opacity="0.06" filter="url(#b15)"/><g filter="url(#b05)"><circle cx="63.6" cy="90.1" r="0.80" fill="#aaf04a" opacity="0.19"/><circle cx="62.0" cy="89.6" r="0.53" fill="#aaf04a" opacity="0.20"/><circle cx="60.2" cy="89.6" r="0.94" fill="#aaf04a" opacity="0.18"/><circle cx="78.0" cy="88.3" r="0.51" fill="#aaf04a" opacity="0.19"/><circle cx="72.6" cy="89.3" r="0.62" fill="#aaf04a" opacity="0.11"/><circle cx="64.7" cy="88.8" r="0.97" fill="#aaf04a" opacity="0.09"/><circle cx="66.3" cy="98.4" r="0.89" fill="#aaf04a" opacity="0.13"/></g><ellipse cx="69.2" cy="91.8" rx="4.5" ry="4" fill="#2a6a8a" opacity="0.45" filter="url(#b1)"/><ellipse cx="75.7" cy="116.1" rx="12.075" ry="10.35" fill="#3a8a16" opacity="0.47" filter="url(#b2)"/><ellipse cx="75.7" cy="116.1" rx="7.7" ry="6.5" fill="none" stroke="#78d830" stroke-width="2.6" opacity="0.27" filter="url(#b15)"/><g filter="url(#b05)"><circle cx="64.3" cy="115.5" r="0.62" fill="#aaf04a" opacity="0.81"/><circle cx="68.0" cy="113.2" r="0.94" fill="#aaf04a" opacity="0.31"/><circle cx="73.5" cy="122.8" r="0.86" fill="#aaf04a" opacity="0.32"/><circle cx="86.3" cy="110.9" r="0.85" fill="#aaf04a" opacity="0.79"/><circle cx="71.6" cy="111.2" r="0.97" fill="#aaf04a" opacity="0.64"/><circle cx="69.7" cy="120.8" r="0.59" fill="#aaf04a" opacity="0.45"/><circle cx="86.2" cy="119.0" r="0.97" fill="#aaf04a" opacity="0.31"/><circle cx="69.0" cy="115.6" r="0.97" fill="#aaf04a" opacity="0.82"/><circle cx="72.8" cy="110.7" r="0.66" fill="#aaf04a" opacity="0.57"/><circle cx="83.3" cy="121.3" r="0.89" fill="#aaf04a" opacity="0.72"/><circle cx="78.4" cy="112.4" r="0.59" fill="#aaf04a" opacity="0.50"/><circle cx="68.1" cy="121.6" r="0.55" fill="#aaf04a" opacity="0.33"/><circle cx="64.0" cy="117.2" r="0.60" fill="#aaf04a" opacity="0.84"/><circle cx="69.8" cy="107.1" r="0.46" fill="#aaf04a" opacity="0.57"/><circle cx="81.0" cy="115.0" r="0.54" fill="#aaf04a" opacity="0.53"/><circle cx="78.7" cy="119.9" r="0.85" fill="#aaf04a" opacity="0.77"/><circle cx="79.8" cy="107.9" r="0.90" fill="#aaf04a" opacity="0.46"/><circle cx="81.7" cy="109.6" r="0.55" fill="#aaf04a" opacity="0.43"/><circle cx="77.7" cy="112.3" r="0.64" fill="#aaf04a" opacity="0.85"/><circle cx="75.9" cy="110.3" r="0.89" fill="#aaf04a" opacity="0.66"/><circle cx="75.1" cy="123.0" r="0.90" fill="#aaf04a" opacity="0.80"/><circle cx="66.1" cy="109.4" r="0.98" fill="#aaf04a" opacity="0.62"/><circle cx="86.5" cy="113.3" r="0.92" fill="#aaf04a" opacity="0.55"/><circle cx="69.7" cy="122.1" r="0.97" fill="#aaf04a" opacity="0.36"/><circle cx="78.1" cy="118.7" r="0.53" fill="#aaf04a" opacity="0.50"/><circle cx="66.7" cy="109.7" r="0.55" fill="#aaf04a" opacity="0.63"/><circle cx="79.5" cy="109.7" r="0.41" fill="#aaf04a" opacity="0.48"/><circle cx="80.2" cy="109.3" r="0.59" fill="#aaf04a" opacity="0.41"/><circle cx="83.1" cy="117.1" r="0.44" fill="#aaf04a" opacity="0.35"/><circle cx="79.2" cy="107.3" r="0.50" fill="#aaf04a" opacity="0.68"/><circle cx="73.4" cy="111.4" r="0.58" fill="#aaf04a" opacity="0.82"/><circle cx="71.0" cy="117.5" r="0.61" fill="#aaf04a" opacity="0.53"/><circle cx="72.3" cy="109.6" r="0.84" fill="#aaf04a" opacity="0.41"/><circle cx="73.8" cy="123.0" r="0.64" fill="#aaf04a" opacity="0.79"/><circle cx="74.7" cy="108.8" r="0.41" fill="#aaf04a" opacity="0.60"/><circle cx="79.2" cy="125.0" r="0.45" fill="#aaf04a" opacity="0.64"/><circle cx="66.8" cy="111.4" r="0.71" fill="#aaf04a" opacity="0.81"/><circle cx="65.8" cy="115.9" r="0.88" fill="#aaf04a" opacity="0.83"/><circle cx="68.1" cy="108.0" r="0.97" fill="#aaf04a" opacity="0.84"/><circle cx="75.3" cy="106.5" r="0.96" fill="#aaf04a" opacity="0.51"/><circle cx="85.9" cy="118.7" r="0.89" fill="#aaf04a" opacity="0.39"/><circle cx="82.9" cy="110.1" r="0.64" fill="#aaf04a" opacity="0.77"/><circle cx="84.0" cy="109.3" r="0.53" fill="#aaf04a" opacity="0.52"/><circle cx="66.2" cy="110.6" r="0.83" fill="#aaf04a" opacity="0.79"/></g><ellipse cx="75.7" cy="116.1" rx="4.8" ry="4" fill="#2a6a8a" opacity="0.45" filter="url(#b1)"/><ellipse cx="99.5" cy="118.6" rx="10.35" ry="11.5" fill="#3a8a16" opacity="0.5" filter="url(#b2)"/><ellipse cx="99.5" cy="118.6" rx="6.6" ry="7.4" fill="none" stroke="#78d830" stroke-width="2.2" opacity="0.29" filter="url(#b15)"/><g filter="url(#b05)"><circle cx="89.6" cy="120.1" r="0.85" fill="#aaf04a" opacity="0.34"/><circle cx="102.2" cy="113.9" r="0.65" fill="#aaf04a" opacity="0.66"/><circle cx="97.9" cy="122.4" r="0.67" fill="#aaf04a" opacity="0.57"/><circle cx="89.2" cy="121.5" r="0.69" fill="#aaf04a" opacity="0.45"/><circle cx="105.2" cy="125.3" r="0.67" fill="#aaf04a" opacity="0.42"/><circle cx="98.9" cy="109.2" r="0.48" fill="#aaf04a" opacity="0.57"/><circle cx="90.7" cy="117.2" r="0.71" fill="#aaf04a" opacity="0.34"/><circle cx="102.4" cy="108.6" r="0.84" fill="#aaf04a" opacity="0.77"/><circle cx="99.7" cy="107.9" r="0.70" fill="#aaf04a" opacity="0.54"/><circle cx="104.5" cy="126.2" r="0.52" fill="#aaf04a" opacity="0.89"/><circle cx="99.3" cy="129.6" r="0.95" fill="#aaf04a" opacity="0.41"/><circle cx="90.1" cy="115.0" r="0.85" fill="#aaf04a" opacity="0.41"/><circle cx="108.1" cy="113.2" r="0.89" fill="#aaf04a" opacity="0.40"/><circle cx="99.5" cy="128.7" r="0.52" fill="#aaf04a" opacity="0.47"/><circle cx="99.6" cy="114.3" r="0.42" fill="#aaf04a" opacity="0.42"/><circle cx="103.4" cy="128.1" r="0.50" fill="#aaf04a" opacity="0.77"/><circle cx="91.2" cy="119.3" r="0.78" fill="#aaf04a" opacity="0.53"/><circle cx="107.6" cy="119.9" r="0.75" fill="#aaf04a" opacity="0.83"/><circle cx="102.3" cy="116.1" r="0.88" fill="#aaf04a" opacity="0.47"/><circle cx="110.1" cy="120.5" r="0.62" fill="#aaf04a" opacity="0.76"/><circle cx="98.3" cy="110.8" r="0.85" fill="#aaf04a" opacity="0.34"/><circle cx="106.4" cy="112.7" r="0.78" fill="#aaf04a" opacity="0.89"/><circle cx="101.4" cy="122.5" r="0.59" fill="#aaf04a" opacity="0.32"/><circle cx="99.8" cy="128.1" r="0.48" fill="#aaf04a" opacity="0.45"/><circle cx="91.0" cy="115.2" r="0.53" fill="#aaf04a" opacity="0.66"/><circle cx="101.4" cy="111.5" r="0.77" fill="#aaf04a" opacity="0.59"/><circle cx="94.0" cy="110.2" r="0.46" fill="#aaf04a" opacity="0.69"/><circle cx="107.5" cy="125.4" r="0.64" fill="#aaf04a" opacity="0.47"/><circle cx="100.8" cy="115.0" r="0.79" fill="#aaf04a" opacity="0.57"/><circle cx="108.9" cy="124.2" r="0.55" fill="#aaf04a" opacity="0.84"/><circle cx="89.7" cy="119.4" r="0.64" fill="#aaf04a" opacity="0.45"/><circle cx="89.0" cy="119.8" r="0.96" fill="#aaf04a" opacity="0.40"/><circle cx="93.0" cy="121.2" r="0.70" fill="#aaf04a" opacity="0.69"/><circle cx="106.3" cy="110.8" r="0.59" fill="#aaf04a" opacity="0.49"/><circle cx="105.6" cy="123.8" r="0.40" fill="#aaf04a" opacity="0.81"/><circle cx="104.8" cy="117.8" r="0.85" fill="#aaf04a" opacity="0.58"/><circle cx="93.6" cy="109.1" r="0.54" fill="#aaf04a" opacity="0.34"/><circle cx="95.9" cy="124.6" r="0.82" fill="#aaf04a" opacity="0.81"/><circle cx="104.1" cy="113.0" r="0.73" fill="#aaf04a" opacity="0.57"/><circle cx="105.7" cy="119.2" r="0.56" fill="#aaf04a" opacity="0.69"/><circle cx="94.3" cy="112.3" r="0.85" fill="#aaf04a" opacity="0.87"/><circle cx="104.8" cy="114.4" r="0.93" fill="#aaf04a" opacity="0.51"/><circle cx="93.9" cy="128.4" r="0.78" fill="#aaf04a" opacity="0.72"/><circle cx="98.8" cy="126.8" r="0.82" fill="#aaf04a" opacity="0.82"/></g><ellipse cx="100.7" cy="112.8" rx="4.2" ry="4.8" fill="#2a6a8a" opacity="0.45" filter="url(#b1)"/><ellipse cx="83.7" cy="125.1" rx="8.049999999999999" ry="5.75" fill="#3a8a16" opacity="0.22" filter="url(#b2)"/><ellipse cx="83.7" cy="125.1" rx="5.9" ry="4.5" fill="none" stroke="#78d830" stroke-width="1.0" opacity="0.13" filter="url(#b15)"/><g filter="url(#b05)"><circle cx="82.6" cy="127.8" r="0.74" fill="#aaf04a" opacity="0.22"/><circle cx="78.9" cy="126.6" r="0.45" fill="#aaf04a" opacity="0.38"/><circle cx="81.1" cy="120.8" r="0.42" fill="#aaf04a" opacity="0.15"/><circle cx="86.9" cy="126.7" r="0.82" fill="#aaf04a" opacity="0.33"/><circle cx="76.4" cy="126.2" r="0.62" fill="#aaf04a" opacity="0.35"/><circle cx="77.1" cy="121.6" r="0.47" fill="#aaf04a" opacity="0.15"/><circle cx="89.5" cy="128.8" r="0.78" fill="#aaf04a" opacity="0.35"/></g><ellipse cx="83.7" cy="125.1" rx="4.8" ry="4" fill="#2a6a8a" opacity="0.45" filter="url(#b1)"/><ellipse cx="120.9" cy="112.8" rx="9.2" ry="9.2" fill="#3a8a16" opacity="0.14" filter="url(#b2)"/><ellipse cx="120.9" cy="112.8" rx="6.8" ry="6.8" fill="none" stroke="#78d830" stroke-width="1.1" opacity="0.08" filter="url(#b15)"/><g filter="url(#b05)"><circle cx="123.4" cy="108.7" r="0.46" fill="#aaf04a" opacity="0.10"/><circle cx="125.8" cy="107.1" r="0.59" fill="#aaf04a" opacity="0.16"/><circle cx="116.7" cy="116.9" r="0.62" fill="#aaf04a" opacity="0.14"/><circle cx="129.8" cy="112.9" r="0.91" fill="#aaf04a" opacity="0.19"/><circle cx="111.9" cy="111.1" r="0.66" fill="#aaf04a" opacity="0.21"/><circle cx="118.0" cy="116.7" r="0.72" fill="#aaf04a" opacity="0.12"/><circle cx="127.0" cy="106.5" r="0.40" fill="#aaf04a" opacity="0.12"/><circle cx="111.4" cy="112.6" r="0.69" fill="#aaf04a" opacity="0.22"/></g><ellipse cx="120.9" cy="112.8" rx="5.5" ry="5.5" fill="#2a6a8a" opacity="0.45" filter="url(#b1)"/><ellipse cx="135.4" cy="111.2" rx="9.2" ry="10.35" fill="#3a8a16" opacity="0.19" filter="url(#b2)"/><ellipse cx="135.4" cy="111.2" rx="6.5" ry="7.0" fill="none" stroke="#78d830" stroke-width="1.4" opacity="0.11" filter="url(#b15)"/><g filter="url(#b05)"><circle cx="129.3" cy="111.1" r="0.61" fill="#aaf04a" opacity="0.31"/><circle cx="131.2" cy="105.0" r="0.82" fill="#aaf04a" opacity="0.24"/><circle cx="127.9" cy="114.1" r="0.45" fill="#aaf04a" opacity="0.30"/><circle cx="139.2" cy="117.4" r="0.78" fill="#aaf04a" opacity="0.20"/><circle cx="129.8" cy="106.1" r="0.94" fill="#aaf04a" opacity="0.24"/><circle cx="133.1" cy="119.5" r="0.54" fill="#aaf04a" opacity="0.23"/><circle cx="136.0" cy="116.7" r="0.85" fill="#aaf04a" opacity="0.27"/><circle cx="132.5" cy="107.5" r="0.49" fill="#aaf04a" opacity="0.31"/><circle cx="138.5" cy="116.4" r="0.50" fill="#aaf04a" opacity="0.22"/><circle cx="140.6" cy="112.9" r="0.48" fill="#aaf04a" opacity="0.23"/><circle cx="142.8" cy="105.5" r="0.51" fill="#aaf04a" opacity="0.19"/><circle cx="139.3" cy="118.6" r="0.49" fill="#aaf04a" opacity="0.16"/><circle cx="130.6" cy="107.5" r="0.71" fill="#aaf04a" opacity="0.16"/></g><ellipse cx="135.4" cy="111.2" rx="5" ry="5" fill="#2a6a8a" opacity="0.45" filter="url(#b1)"/><ellipse cx="127.4" cy="124.1" rx="9.2" ry="8.049999999999999" fill="#3a8a16" opacity="0.14" filter="url(#b2)"/><ellipse cx="127.4" cy="124.1" rx="6.5" ry="6.0" fill="none" stroke="#78d830" stroke-width="1.4" opacity="0.08" filter="url(#b15)"/><g filter="url(#b05)"><circle cx="124.1" cy="118.9" r="0.99" fill="#aaf04a" opacity="0.21"/><circle cx="119.8" cy="122.2" r="0.99" fill="#aaf04a" opacity="0.22"/><circle cx="131.9" cy="123.0" r="0.52" fill="#aaf04a" opacity="0.19"/><circle cx="119.9" cy="119.2" r="0.63" fill="#aaf04a" opacity="0.09"/><circle cx="125.5" cy="129.0" r="0.82" fill="#aaf04a" opacity="0.17"/><circle cx="120.5" cy="125.8" r="0.64" fill="#aaf04a" opacity="0.21"/><circle cx="135.2" cy="122.9" r="0.74" fill="#aaf04a" opacity="0.21"/></g><ellipse cx="127.4" cy="124.1" rx="5" ry="5" fill="#2a6a8a" opacity="0.45" filter="url(#b1)"/><ellipse cx="85.5" cy="77.6" rx="9.2" ry="8.049999999999999" fill="#3a8a16" opacity="0.08" filter="url(#b2)"/><ellipse cx="85.5" cy="77.6" rx="6.2" ry="5.5" fill="none" stroke="#78d830" stroke-width="1.6" opacity="0.05" filter="url(#b15)"/><g filter="url(#b05)"><circle cx="84.0" cy="73.0" r="0.83" fill="#aaf04a" opacity="0.14"/><circle cx="90.8" cy="81.0" r="0.91" fill="#aaf04a" opacity="0.12"/><circle cx="81.9" cy="79.8" r="0.46" fill="#aaf04a" opacity="0.09"/><circle cx="90.9" cy="81.2" r="0.78" fill="#aaf04a" opacity="0.08"/></g><ellipse cx="85.5" cy="77.6" rx="4.5" ry="4" fill="#2a6a8a" opacity="0.45" filter="url(#b1)"/></g>
<g clip-path="url(#c20)"><rect x="58.5" y="129.8" width="85.0" height="62.8" fill="#12260c"/><ellipse cx="92.5" cy="164.3" rx="44" ry="27" fill="#2c6414" opacity="0.4" filter="url(#b2)" transform="rotate(-16 92.5 164.3)"/><ellipse cx="94.5" cy="163.3" rx="25" ry="17.5" fill="#3e8c1c" opacity="0.6" filter="url(#b2)" transform="rotate(-16 94.5 163.3)"/><ellipse cx="94.5" cy="163.3" rx="16" ry="12.5" fill="none" stroke="#5cb828" stroke-width="5" opacity="0.6" filter="url(#b15)" transform="rotate(-16 95.5 162.3)"/><g filter="url(#b05)"><circle cx="108.6" cy="175.1" r="0.39" fill="#a0e444" opacity="0.68"/><circle cx="108.3" cy="154.4" r="0.54" fill="#a0e444" opacity="0.88"/><circle cx="72.9" cy="170.5" r="0.38" fill="#a0e444" opacity="0.76"/><circle cx="117.7" cy="156.7" r="0.35" fill="#a0e444" opacity="0.62"/><circle cx="99.8" cy="169.4" r="0.56" fill="#a0e444" opacity="0.67"/><circle cx="112.2" cy="158.4" r="0.51" fill="#a0e444" opacity="0.87"/><circle cx="82.9" cy="173.0" r="0.50" fill="#a0e444" opacity="0.75"/><circle cx="83.8" cy="148.6" r="0.44" fill="#a0e444" opacity="0.51"/><circle cx="70.3" cy="166.4" r="0.51" fill="#a0e444" opacity="0.70"/><circle cx="85.7" cy="156.1" r="0.41" fill="#a0e444" opacity="0.73"/><circle cx="117.8" cy="157.0" r="0.41" fill="#a0e444" opacity="0.77"/><circle cx="87.2" cy="153.6" r="0.36" fill="#a0e444" opacity="0.75"/><circle cx="112.3" cy="162.6" r="0.53" fill="#a0e444" opacity="0.62"/><circle cx="89.6" cy="169.3" r="0.71" fill="#a0e444" opacity="0.78"/><circle cx="91.8" cy="155.4" r="0.57" fill="#a0e444" opacity="0.33"/><circle cx="110.7" cy="152.4" r="0.73" fill="#a0e444" opacity="0.42"/><circle cx="86.8" cy="155.3" r="0.51" fill="#a0e444" opacity="0.37"/><circle cx="82.0" cy="156.4" r="0.45" fill="#a0e444" opacity="0.56"/><circle cx="102.1" cy="155.1" r="0.76" fill="#a0e444" opacity="0.81"/><circle cx="118.7" cy="166.6" r="0.37" fill="#a0e444" opacity="0.79"/><circle cx="100.7" cy="151.2" r="0.35" fill="#a0e444" opacity="0.34"/><circle cx="85.0" cy="175.9" r="0.47" fill="#a0e444" opacity="0.35"/><circle cx="118.7" cy="166.9" r="0.38" fill="#a0e444" opacity="0.83"/><circle cx="103.8" cy="170.8" r="0.63" fill="#a0e444" opacity="0.83"/><circle cx="113.4" cy="170.2" r="0.40" fill="#a0e444" opacity="0.70"/><circle cx="99.5" cy="170.5" r="0.52" fill="#a0e444" opacity="0.82"/><circle cx="95.9" cy="153.1" r="0.42" fill="#a0e444" opacity="0.34"/><circle cx="90.7" cy="146.7" r="0.53" fill="#a0e444" opacity="0.34"/><circle cx="101.2" cy="174.6" r="0.30" fill="#a0e444" opacity="0.80"/><circle cx="107.2" cy="172.0" r="0.49" fill="#a0e444" opacity="0.52"/><circle cx="73.1" cy="173.0" r="0.64" fill="#a0e444" opacity="0.86"/><circle cx="107.7" cy="163.6" r="0.47" fill="#a0e444" opacity="0.81"/><circle cx="99.5" cy="171.6" r="0.41" fill="#a0e444" opacity="0.53"/><circle cx="109.7" cy="150.3" r="0.71" fill="#a0e444" opacity="0.51"/><circle cx="93.4" cy="154.1" r="0.55" fill="#a0e444" opacity="0.88"/><circle cx="106.2" cy="170.5" r="0.47" fill="#a0e444" opacity="0.46"/><circle cx="86.3" cy="168.3" r="0.62" fill="#a0e444" opacity="0.76"/><circle cx="115.2" cy="158.4" r="0.32" fill="#a0e444" opacity="0.45"/><circle cx="117.7" cy="160.1" r="0.63" fill="#a0e444" opacity="0.76"/><circle cx="117.1" cy="160.4" r="0.61" fill="#a0e444" opacity="0.66"/><circle cx="106.3" cy="162.9" r="0.64" fill="#a0e444" opacity="0.39"/><circle cx="104.6" cy="144.4" r="0.39" fill="#a0e444" opacity="0.27"/><circle cx="113.4" cy="173.1" r="0.63" fill="#a0e444" opacity="0.49"/><circle cx="114.5" cy="167.9" r="0.58" fill="#a0e444" opacity="0.42"/><circle cx="84.8" cy="162.4" r="0.46" fill="#a0e444" opacity="0.53"/><circle cx="107.0" cy="175.7" r="0.33" fill="#a0e444" opacity="0.62"/><circle cx="111.8" cy="160.5" r="0.76" fill="#a0e444" opacity="0.54"/><circle cx="70.1" cy="165.3" r="0.60" fill="#a0e444" opacity="0.86"/><circle cx="119.3" cy="154.5" r="0.51" fill="#a0e444" opacity="0.32"/><circle cx="99.8" cy="150.0" r="0.38" fill="#a0e444" opacity="0.26"/><circle cx="103.8" cy="150.0" r="0.67" fill="#a0e444" opacity="0.37"/><circle cx="109.8" cy="171.9" r="0.66" fill="#a0e444" opacity="0.30"/><circle cx="104.1" cy="167.9" r="0.53" fill="#a0e444" opacity="0.86"/><circle cx="88.4" cy="173.2" r="0.38" fill="#a0e444" opacity="0.81"/><circle cx="90.3" cy="146.8" r="0.48" fill="#a0e444" opacity="0.62"/><circle cx="80.8" cy="178.0" r="0.48" fill="#a0e444" opacity="0.67"/><circle cx="92.7" cy="174.1" r="0.77" fill="#a0e444" opacity="0.76"/><circle cx="96.7" cy="154.0" r="0.33" fill="#a0e444" opacity="0.88"/><circle cx="109.0" cy="171.0" r="0.47" fill="#a0e444" opacity="0.64"/><circle cx="98.6" cy="154.0" r="0.51" fill="#a0e444" opacity="0.83"/><circle cx="91.2" cy="170.6" r="0.60" fill="#a0e444" opacity="0.83"/><circle cx="108.7" cy="150.2" r="0.30" fill="#a0e444" opacity="0.42"/><circle cx="115.2" cy="171.6" r="0.32" fill="#a0e444" opacity="0.79"/><circle cx="114.8" cy="170.9" r="0.59" fill="#a0e444" opacity="0.43"/><circle cx="116.2" cy="168.2" r="0.64" fill="#a0e444" opacity="0.84"/><circle cx="83.6" cy="149.7" r="0.58" fill="#a0e444" opacity="0.77"/><circle cx="83.1" cy="175.5" r="0.77" fill="#a0e444" opacity="0.40"/><circle cx="102.7" cy="167.1" r="0.53" fill="#a0e444" opacity="0.38"/><circle cx="85.8" cy="174.7" r="0.70" fill="#a0e444" opacity="0.55"/><circle cx="106.4" cy="148.9" r="0.59" fill="#a0e444" opacity="0.83"/><circle cx="115.0" cy="157.6" r="0.54" fill="#a0e444" opacity="0.63"/><circle cx="76.8" cy="155.8" r="0.39" fill="#a0e444" opacity="0.71"/><circle cx="77.2" cy="172.7" r="0.69" fill="#a0e444" opacity="0.35"/><circle cx="91.6" cy="145.0" r="0.32" fill="#a0e444" opacity="0.89"/><circle cx="113.7" cy="156.6" r="0.58" fill="#a0e444" opacity="0.42"/><circle cx="108.7" cy="155.7" r="0.77" fill="#a0e444" opacity="0.75"/><circle cx="77.3" cy="155.2" r="0.34" fill="#a0e444" opacity="0.28"/><circle cx="102.1" cy="174.7" r="0.53" fill="#a0e444" opacity="0.87"/><circle cx="84.0" cy="168.1" r="0.62" fill="#a0e444" opacity="0.87"/><circle cx="102.9" cy="156.1" r="0.52" fill="#a0e444" opacity="0.35"/><circle cx="81.8" cy="160.5" r="0.75" fill="#a0e444" opacity="0.84"/><circle cx="112.0" cy="165.7" r="0.62" fill="#a0e444" opacity="0.89"/><circle cx="102.3" cy="152.6" r="0.60" fill="#a0e444" opacity="0.74"/><circle cx="74.0" cy="161.7" r="0.43" fill="#a0e444" opacity="0.33"/><circle cx="91.2" cy="150.8" r="0.42" fill="#a0e444" opacity="0.34"/><circle cx="103.2" cy="148.3" r="0.32" fill="#a0e444" opacity="0.85"/><circle cx="77.0" cy="165.6" r="0.35" fill="#a0e444" opacity="0.85"/><circle cx="113.9" cy="162.0" r="0.53" fill="#a0e444" opacity="0.47"/><circle cx="111.4" cy="156.9" r="0.61" fill="#a0e444" opacity="0.34"/><circle cx="106.7" cy="161.1" r="0.37" fill="#a0e444" opacity="0.82"/><circle cx="82.9" cy="162.5" r="0.38" fill="#a0e444" opacity="0.43"/><circle cx="110.8" cy="151.5" r="0.38" fill="#a0e444" opacity="0.57"/><circle cx="90.5" cy="179.2" r="0.36" fill="#a0e444" opacity="0.89"/><circle cx="101.0" cy="149.6" r="0.54" fill="#a0e444" opacity="0.44"/><circle cx="80.4" cy="155.2" r="0.48" fill="#a0e444" opacity="0.89"/><circle cx="73.2" cy="160.6" r="0.75" fill="#a0e444" opacity="0.29"/><circle cx="104.7" cy="151.7" r="0.79" fill="#a0e444" opacity="0.26"/><circle cx="109.2" cy="152.2" r="0.37" fill="#a0e444" opacity="0.25"/><circle cx="112.4" cy="158.5" r="0.39" fill="#a0e444" opacity="0.53"/><circle cx="113.2" cy="146.4" r="0.59" fill="#a0e444" opacity="0.34"/><circle cx="82.3" cy="176.5" r="0.66" fill="#a0e444" opacity="0.38"/><circle cx="81.2" cy="155.1" r="0.61" fill="#a0e444" opacity="0.71"/><circle cx="111.9" cy="160.8" r="0.40" fill="#a0e444" opacity="0.29"/><circle cx="106.2" cy="155.7" r="0.66" fill="#a0e444" opacity="0.29"/><circle cx="109.3" cy="152.0" r="0.72" fill="#a0e444" opacity="0.81"/><circle cx="90.2" cy="145.2" r="0.76" fill="#a0e444" opacity="0.56"/><circle cx="111.7" cy="148.7" r="0.39" fill="#a0e444" opacity="0.79"/><circle cx="85.4" cy="152.2" r="0.49" fill="#a0e444" opacity="0.64"/><circle cx="70.9" cy="170.1" r="0.52" fill="#a0e444" opacity="0.59"/><circle cx="78.7" cy="175.4" r="0.71" fill="#a0e444" opacity="0.81"/><circle cx="88.7" cy="172.4" r="0.49" fill="#a0e444" opacity="0.74"/><circle cx="118.1" cy="155.6" r="0.56" fill="#a0e444" opacity="0.59"/><circle cx="92.5" cy="144.7" r="0.78" fill="#a0e444" opacity="0.40"/><circle cx="86.3" cy="177.2" r="0.32" fill="#a0e444" opacity="0.31"/><circle cx="102.3" cy="148.6" r="0.31" fill="#a0e444" opacity="0.64"/><circle cx="101.6" cy="145.3" r="0.73" fill="#a0e444" opacity="0.72"/><circle cx="80.6" cy="152.0" r="0.50" fill="#a0e444" opacity="0.34"/><circle cx="103.8" cy="173.8" r="0.37" fill="#a0e444" opacity="0.62"/><circle cx="104.4" cy="146.8" r="0.71" fill="#a0e444" opacity="0.86"/><circle cx="112.7" cy="158.3" r="0.50" fill="#a0e444" opacity="0.86"/><circle cx="107.7" cy="152.6" r="0.42" fill="#a0e444" opacity="0.47"/><circle cx="97.2" cy="180.3" r="0.70" fill="#a0e444" opacity="0.84"/><circle cx="114.8" cy="170.1" r="0.33" fill="#a0e444" opacity="0.59"/><circle cx="82.2" cy="163.1" r="0.62" fill="#a0e444" opacity="0.49"/><circle cx="92.6" cy="146.5" r="0.52" fill="#a0e444" opacity="0.58"/><circle cx="118.7" cy="160.8" r="0.70" fill="#a0e444" opacity="0.82"/><circle cx="100.2" cy="151.9" r="0.64" fill="#a0e444" opacity="0.43"/><circle cx="101.9" cy="176.8" r="0.61" fill="#a0e444" opacity="0.41"/><circle cx="115.9" cy="148.3" r="0.45" fill="#a0e444" opacity="0.67"/><circle cx="77.5" cy="171.1" r="0.78" fill="#a0e444" opacity="0.58"/><circle cx="83.6" cy="164.4" r="0.57" fill="#a0e444" opacity="0.35"/><circle cx="84.2" cy="161.9" r="0.44" fill="#a0e444" opacity="0.41"/><circle cx="75.4" cy="169.9" r="0.72" fill="#a0e444" opacity="0.65"/><circle cx="82.7" cy="174.1" r="0.53" fill="#a0e444" opacity="0.61"/><circle cx="83.4" cy="155.8" r="0.41" fill="#a0e444" opacity="0.58"/><circle cx="110.9" cy="147.8" r="0.58" fill="#a0e444" opacity="0.57"/><circle cx="88.1" cy="174.9" r="0.38" fill="#a0e444" opacity="0.29"/><circle cx="113.4" cy="154.8" r="0.33" fill="#a0e444" opacity="0.50"/><circle cx="94.9" cy="171.5" r="0.35" fill="#a0e444" opacity="0.40"/><circle cx="76.6" cy="161.5" r="0.48" fill="#a0e444" opacity="0.69"/><circle cx="104.9" cy="173.1" r="0.71" fill="#a0e444" opacity="0.59"/><circle cx="109.9" cy="167.5" r="0.68" fill="#a0e444" opacity="0.56"/><circle cx="111.9" cy="165.6" r="0.76" fill="#a0e444" opacity="0.33"/><circle cx="109.7" cy="161.5" r="0.55" fill="#a0e444" opacity="0.88"/><circle cx="113.5" cy="171.5" r="0.60" fill="#a0e444" opacity="0.50"/><circle cx="104.5" cy="151.7" r="0.50" fill="#a0e444" opacity="0.61"/><circle cx="87.9" cy="157.6" r="0.69" fill="#a0e444" opacity="0.80"/><circle cx="77.7" cy="159.9" r="0.37" fill="#a0e444" opacity="0.62"/><circle cx="95.4" cy="146.5" r="0.76" fill="#a0e444" opacity="0.46"/><circle cx="116.1" cy="169.4" r="0.78" fill="#a0e444" opacity="0.38"/><circle cx="96.0" cy="178.0" r="0.31" fill="#a0e444" opacity="0.28"/><circle cx="102.5" cy="179.5" r="0.56" fill="#a0e444" opacity="0.59"/><circle cx="103.6" cy="155.7" r="0.48" fill="#a0e444" opacity="0.64"/><circle cx="92.6" cy="180.4" r="0.64" fill="#a0e444" opacity="0.59"/><circle cx="74.2" cy="163.6" r="0.50" fill="#a0e444" opacity="0.61"/><circle cx="103.1" cy="174.7" r="0.78" fill="#a0e444" opacity="0.57"/><circle cx="100.2" cy="173.1" r="0.39" fill="#a0e444" opacity="0.46"/><circle cx="92.2" cy="148.3" r="0.75" fill="#a0e444" opacity="0.70"/><circle cx="114.1" cy="153.9" r="0.38" fill="#a0e444" opacity="0.44"/><circle cx="76.7" cy="155.5" r="0.62" fill="#a0e444" opacity="0.64"/><circle cx="97.7" cy="144.1" r="0.51" fill="#a0e444" opacity="0.76"/><circle cx="87.8" cy="171.9" r="0.30" fill="#a0e444" opacity="0.45"/><circle cx="113.5" cy="160.5" r="0.63" fill="#a0e444" opacity="0.38"/><circle cx="85.3" cy="170.9" r="0.57" fill="#a0e444" opacity="0.90"/><circle cx="104.5" cy="144.6" r="0.35" fill="#a0e444" opacity="0.36"/><circle cx="99.9" cy="173.5" r="0.61" fill="#a0e444" opacity="0.77"/><circle cx="107.2" cy="152.1" r="0.66" fill="#a0e444" opacity="0.48"/><circle cx="76.6" cy="158.7" r="0.35" fill="#a0e444" opacity="0.84"/><circle cx="104.3" cy="177.5" r="0.52" fill="#a0e444" opacity="0.65"/><circle cx="90.3" cy="179.1" r="0.71" fill="#a0e444" opacity="0.45"/></g><g filter="url(#b05)"><circle cx="101.5" cy="171.0" r="0.62" fill="#78b838" opacity="0.72"/><circle cx="100.6" cy="139.0" r="0.52" fill="#78b838" opacity="0.69"/><circle cx="68.9" cy="145.9" r="0.55" fill="#78b838" opacity="0.34"/><circle cx="89.1" cy="137.6" r="0.64" fill="#78b838" opacity="0.44"/><circle cx="78.1" cy="138.6" r="0.42" fill="#78b838" opacity="0.66"/><circle cx="66.8" cy="151.4" r="0.48" fill="#78b838" opacity="0.27"/><circle cx="69.4" cy="169.1" r="0.40" fill="#78b838" opacity="0.38"/><circle cx="89.7" cy="168.9" r="0.79" fill="#78b838" opacity="0.33"/><circle cx="86.8" cy="175.1" r="0.46" fill="#78b838" opacity="0.73"/><circle cx="82.1" cy="140.3" r="0.74" fill="#78b838" opacity="0.38"/><circle cx="116.6" cy="150.3" r="0.55" fill="#78b838" opacity="0.37"/><circle cx="93.2" cy="140.7" r="0.83" fill="#78b838" opacity="0.31"/><circle cx="77.6" cy="169.6" r="0.56" fill="#78b838" opacity="0.58"/><circle cx="77.5" cy="139.7" r="0.45" fill="#78b838" opacity="0.68"/><circle cx="64.7" cy="164.1" r="0.55" fill="#78b838" opacity="0.50"/><circle cx="71.2" cy="140.6" r="0.52" fill="#78b838" opacity="0.36"/><circle cx="67.6" cy="170.1" r="0.51" fill="#78b838" opacity="0.45"/><circle cx="119.4" cy="157.7" r="0.84" fill="#78b838" opacity="0.68"/><circle cx="62.9" cy="152.2" r="0.37" fill="#78b838" opacity="0.59"/><circle cx="99.6" cy="140.4" r="0.82" fill="#78b838" opacity="0.43"/><circle cx="94.2" cy="139.0" r="0.41" fill="#78b838" opacity="0.71"/><circle cx="107.3" cy="158.5" r="0.37" fill="#78b838" opacity="0.27"/><circle cx="63.9" cy="148.4" r="0.52" fill="#78b838" opacity="0.44"/><circle cx="57.2" cy="155.3" r="0.70" fill="#78b838" opacity="0.34"/><circle cx="112.5" cy="150.8" r="0.74" fill="#78b838" opacity="0.38"/><circle cx="114.6" cy="159.2" r="0.51" fill="#78b838" opacity="0.27"/><circle cx="113.9" cy="152.0" r="0.38" fill="#78b838" opacity="0.37"/><circle cx="67.5" cy="173.4" r="0.47" fill="#78b838" opacity="0.71"/><circle cx="101.0" cy="132.9" r="0.73" fill="#78b838" opacity="0.45"/><circle cx="109.5" cy="162.9" r="0.50" fill="#78b838" opacity="0.29"/><circle cx="117.8" cy="142.9" r="0.86" fill="#78b838" opacity="0.60"/><circle cx="108.9" cy="163.2" r="0.70" fill="#78b838" opacity="0.48"/><circle cx="62.7" cy="170.7" r="0.59" fill="#78b838" opacity="0.51"/><circle cx="106.3" cy="162.8" r="0.49" fill="#78b838" opacity="0.52"/><circle cx="121.8" cy="151.1" r="0.65" fill="#78b838" opacity="0.37"/><circle cx="59.1" cy="156.8" r="0.58" fill="#78b838" opacity="0.35"/><circle cx="72.9" cy="143.2" r="0.74" fill="#78b838" opacity="0.59"/><circle cx="69.4" cy="148.8" r="0.63" fill="#78b838" opacity="0.47"/><circle cx="116.3" cy="140.1" r="0.51" fill="#78b838" opacity="0.69"/><circle cx="66.8" cy="163.6" r="0.53" fill="#78b838" opacity="0.66"/><circle cx="69.8" cy="167.2" r="0.68" fill="#78b838" opacity="0.48"/><circle cx="110.7" cy="162.7" r="0.41" fill="#78b838" opacity="0.39"/><circle cx="77.0" cy="145.1" r="0.38" fill="#78b838" opacity="0.39"/><circle cx="72.0" cy="168.1" r="0.60" fill="#78b838" opacity="0.31"/><circle cx="76.7" cy="143.5" r="0.39" fill="#78b838" opacity="0.26"/></g><path d="M85.2,160.4 C85.2,154.5 92.3,152.5 97.6,155.5 C100.5,157.4 102.9,155.9 105.8,156.7 C108.8,157.9 108.8,165.2 106.4,168.7 C103.5,172.6 94.0,173.1 89.3,170.6 C85.2,168.5 85.2,164.8 85.2,160.4" fill="#3a5cb0" opacity="0.95" filter="url(#b08)"/><ellipse cx="98.4" cy="164.3" rx="7" ry="5" fill="#5a7cc8" opacity="0.45" filter="url(#b1)" transform="rotate(8 98.4 164.3)"/></g>
<g clip-path="url(#c01)"><rect x="141.5" y="3.0" width="84.0" height="64.2" fill="#14040e"/><ellipse cx="158.2" cy="29.7" rx="4.93" ry="3.4" fill="#2424b8" opacity="0.6" filter="url(#b1)" transform="rotate(35 158.2 29.7)"/><ellipse cx="180.8" cy="28.0" rx="3.57" ry="4.59" fill="#2424b8" opacity="0.85" filter="url(#b1)" transform="rotate(-10 180.8 28.0)"/><ellipse cx="170.3" cy="44.2" rx="4.42" ry="3.57" fill="#2424b8" opacity="0.7" filter="url(#b1)" transform="rotate(15 170.3 44.2)"/><ellipse cx="199.4" cy="48.2" rx="4.42" ry="3.74" fill="#2424b8" opacity="0.7" filter="url(#b1)"/><ellipse cx="149.3" cy="54.7" rx="4.42" ry="3.9099999999999997" fill="#2424b8" opacity="0.6" filter="url(#b1)"/><ellipse cx="184.0" cy="56.3" rx="4.08" ry="3.4" fill="#2424b8" opacity="0.75" filter="url(#b1)"/><ellipse cx="211.5" cy="54.7" rx="4.08" ry="3.57" fill="#2424b8" opacity="0.6" filter="url(#b1)"/><ellipse cx="218.7" cy="39.3" rx="3.9099999999999997" ry="3.74" fill="#2424b8" opacity="0.5" filter="url(#b1)"/><ellipse cx="206.6" cy="7.8" rx="3.9099999999999997" ry="3.9099999999999997" fill="#2424b8" opacity="0.45" filter="url(#b1)"/><ellipse cx="194.5" cy="15.9" rx="3.4" ry="4.42" fill="#2424b8" opacity="0.5" filter="url(#b1)"/><ellipse cx="171.0" cy="64.8" rx="3.9099999999999997" ry="3.23" fill="#2424b8" opacity="0.55" filter="url(#b1)"/><ellipse cx="222.8" cy="61.5" rx="3.57" ry="3.57" fill="#2424b8" opacity="0.5" filter="url(#b1)"/></g>
<g clip-path="url(#c11)"><rect x="141.5" y="66.6" width="84.0" height="63.4" fill="#10030a"/><ellipse cx="184.5" cy="102.6" rx="40" ry="26" fill="#220408" opacity="1.0" filter="url(#b2)"/><ellipse cx="212.8" cy="86.2" rx="9.774999999999999" ry="14.374999999999998" fill="#9a1212" opacity="0.47" filter="url(#b2)" transform="rotate(-20 212.8 86.2)"/><ellipse cx="212.8" cy="86.2" rx="6.0" ry="9.1" fill="none" stroke="#c81c1c" stroke-width="2.3" opacity="0.27" filter="url(#b15)" transform="rotate(-20 212.8 86.2)"/><g filter="url(#b05)"><circle cx="207.1" cy="95.2" r="0.99" fill="#f03434" opacity="0.45"/><circle cx="205.2" cy="88.6" r="0.66" fill="#f03434" opacity="0.29"/><circle cx="208.6" cy="72.0" r="0.95" fill="#f03434" opacity="0.49"/><circle cx="219.7" cy="97.6" r="0.79" fill="#f03434" opacity="0.32"/><circle cx="204.2" cy="77.8" r="0.42" fill="#f03434" opacity="0.54"/><circle cx="217.2" cy="78.1" r="0.51" fill="#f03434" opacity="0.48"/><circle cx="209.4" cy="96.5" r="0.90" fill="#f03434" opacity="0.53"/><circle cx="206.2" cy="78.5" r="0.90" fill="#f03434" opacity="0.35"/><circle cx="213.7" cy="96.5" r="0.54" fill="#f03434" opacity="0.23"/><circle cx="221.0" cy="89.8" r="0.94" fill="#f03434" opacity="0.61"/><circle cx="204.2" cy="82.9" r="0.75" fill="#f03434" opacity="0.25"/><circle cx="213.0" cy="75.4" r="0.67" fill="#f03434" opacity="0.62"/><circle cx="208.5" cy="77.9" r="0.83" fill="#f03434" opacity="0.21"/><circle cx="223.0" cy="93.8" r="0.87" fill="#f03434" opacity="0.39"/><circle cx="210.3" cy="92.3" r="0.71" fill="#f03434" opacity="0.39"/><circle cx="209.1" cy="85.6" r="0.80" fill="#f03434" opacity="0.56"/><circle cx="208.3" cy="86.0" r="0.74" fill="#f03434" opacity="0.36"/><circle cx="209.0" cy="86.3" r="0.98" fill="#f03434" opacity="0.60"/><circle cx="222.9" cy="86.4" r="0.89" fill="#f03434" opacity="0.24"/><circle cx="217.3" cy="88.0" r="0.58" fill="#f03434" opacity="0.46"/><circle cx="221.3" cy="82.5" r="0.79" fill="#f03434" opacity="0.34"/><circle cx="213.7" cy="98.1" r="0.42" fill="#f03434" opacity="0.29"/><circle cx="215.7" cy="83.5" r="0.45" fill="#f03434" opacity="0.49"/><circle cx="211.2" cy="89.4" r="0.65" fill="#f03434" opacity="0.44"/><circle cx="220.8" cy="84.8" r="0.47" fill="#f03434" opacity="0.58"/><circle cx="203.9" cy="76.5" r="0.72" fill="#f03434" opacity="0.32"/><circle cx="208.3" cy="90.2" r="0.47" fill="#f03434" opacity="0.43"/><circle cx="210.2" cy="73.7" r="0.64" fill="#f03434" opacity="0.24"/><circle cx="215.4" cy="96.9" r="0.73" fill="#f03434" opacity="0.52"/><circle cx="213.8" cy="73.5" r="0.99" fill="#f03434" opacity="0.52"/><circle cx="207.4" cy="77.7" r="0.98" fill="#f03434" opacity="0.45"/><circle cx="214.3" cy="74.0" r="0.87" fill="#f03434" opacity="0.24"/><circle cx="206.4" cy="84.4" r="0.41" fill="#f03434" opacity="0.47"/><circle cx="205.2" cy="82.6" r="0.82" fill="#f03434" opacity="0.39"/><circle cx="221.5" cy="86.9" r="0.92" fill="#f03434" opacity="0.45"/><circle cx="209.0" cy="95.4" r="0.60" fill="#f03434" opacity="0.54"/><circle cx="219.6" cy="94.1" r="0.47" fill="#f03434" opacity="0.37"/><circle cx="210.7" cy="74.2" r="0.73" fill="#f03434" opacity="0.55"/><circle cx="213.6" cy="78.1" r="0.52" fill="#f03434" opacity="0.40"/><circle cx="220.1" cy="86.1" r="0.47" fill="#f03434" opacity="0.22"/><circle cx="208.4" cy="97.4" r="0.51" fill="#f03434" opacity="0.45"/><circle cx="210.7" cy="92.9" r="0.63" fill="#f03434" opacity="0.27"/><circle cx="220.4" cy="84.7" r="0.81" fill="#f03434" opacity="0.56"/><circle cx="206.2" cy="77.5" r="0.70" fill="#f03434" opacity="0.58"/><circle cx="210.0" cy="97.4" r="0.81" fill="#f03434" opacity="0.38"/><circle cx="208.8" cy="76.7" r="0.91" fill="#f03434" opacity="0.38"/><circle cx="221.1" cy="86.7" r="0.45" fill="#f03434" opacity="0.35"/><circle cx="211.4" cy="99.3" r="0.75" fill="#f03434" opacity="0.23"/><circle cx="205.0" cy="84.6" r="0.68" fill="#f03434" opacity="0.46"/></g><ellipse cx="210.4" cy="87.0" rx="3.4" ry="5.6" fill="#1e1e9c" opacity="0.6" filter="url(#b1)" transform="rotate(-20 210.4 87.0)"/><ellipse cx="191.0" cy="83.8" rx="8.969999999999999" ry="8.969999999999999" fill="#9a1212" opacity="0.33" filter="url(#b2)"/><ellipse cx="191.0" cy="83.8" rx="6.0" ry="5.6" fill="none" stroke="#c81c1c" stroke-width="1.6" opacity="0.19" filter="url(#b15)"/><g filter="url(#b05)"><circle cx="188.9" cy="81.1" r="0.40" fill="#f03434" opacity="0.32"/><circle cx="190.2" cy="92.9" r="0.43" fill="#f03434" opacity="0.19"/><circle cx="194.2" cy="79.5" r="0.56" fill="#f03434" opacity="0.30"/><circle cx="186.5" cy="85.1" r="0.72" fill="#f03434" opacity="0.44"/><circle cx="192.1" cy="88.9" r="0.92" fill="#f03434" opacity="0.38"/><circle cx="193.5" cy="86.3" r="0.62" fill="#f03434" opacity="0.23"/><circle cx="196.5" cy="90.8" r="0.96" fill="#f03434" opacity="0.35"/><circle cx="187.3" cy="88.7" r="0.84" fill="#f03434" opacity="0.30"/><circle cx="193.5" cy="81.0" r="0.73" fill="#f03434" opacity="0.27"/><circle cx="182.8" cy="80.8" r="0.59" fill="#f03434" opacity="0.45"/><circle cx="186.2" cy="78.8" r="0.61" fill="#f03434" opacity="0.19"/><circle cx="192.3" cy="80.1" r="0.50" fill="#f03434" opacity="0.17"/><circle cx="187.3" cy="80.2" r="0.84" fill="#f03434" opacity="0.32"/><circle cx="199.2" cy="80.8" r="0.95" fill="#f03434" opacity="0.33"/><circle cx="192.5" cy="92.9" r="0.61" fill="#f03434" opacity="0.38"/><circle cx="189.7" cy="90.7" r="0.44" fill="#f03434" opacity="0.30"/><circle cx="198.5" cy="79.6" r="0.55" fill="#f03434" opacity="0.16"/><circle cx="184.7" cy="79.5" r="0.82" fill="#f03434" opacity="0.22"/><circle cx="189.1" cy="78.2" r="0.76" fill="#f03434" opacity="0.41"/><circle cx="193.8" cy="78.1" r="0.84" fill="#f03434" opacity="0.44"/></g><ellipse cx="191.0" cy="83.8" rx="4.2" ry="3.4" fill="#1e1e9c" opacity="0.6" filter="url(#b1)"/><ellipse cx="181.5" cy="98.6" rx="11.5" ry="10.35" fill="#9a1212" opacity="0.36" filter="url(#b2)"/><ellipse cx="181.5" cy="98.6" rx="7.8" ry="6.6" fill="none" stroke="#c81c1c" stroke-width="1.9" opacity="0.21" filter="url(#b15)"/><g filter="url(#b05)"><circle cx="183.9" cy="89.5" r="0.89" fill="#f03434" opacity="0.45"/><circle cx="177.7" cy="90.8" r="0.51" fill="#f03434" opacity="0.34"/><circle cx="190.5" cy="101.6" r="0.95" fill="#f03434" opacity="0.23"/><circle cx="177.3" cy="104.0" r="0.79" fill="#f03434" opacity="0.29"/><circle cx="185.8" cy="95.1" r="0.43" fill="#f03434" opacity="0.30"/><circle cx="170.6" cy="101.3" r="0.60" fill="#f03434" opacity="0.32"/><circle cx="183.8" cy="93.4" r="0.68" fill="#f03434" opacity="0.17"/><circle cx="191.7" cy="100.0" r="0.99" fill="#f03434" opacity="0.18"/><circle cx="184.2" cy="103.4" r="0.60" fill="#f03434" opacity="0.19"/><circle cx="173.2" cy="90.9" r="0.86" fill="#f03434" opacity="0.19"/><circle cx="189.0" cy="96.9" r="0.72" fill="#f03434" opacity="0.35"/><circle cx="182.8" cy="102.0" r="0.76" fill="#f03434" opacity="0.27"/><circle cx="187.3" cy="93.4" r="0.83" fill="#f03434" opacity="0.41"/><circle cx="188.1" cy="94.5" r="0.86" fill="#f03434" opacity="0.48"/><circle cx="180.4" cy="93.8" r="0.71" fill="#f03434" opacity="0.47"/><circle cx="180.9" cy="102.0" r="0.86" fill="#f03434" opacity="0.28"/><circle cx="187.7" cy="89.7" r="0.42" fill="#f03434" opacity="0.21"/><circle cx="170.9" cy="98.6" r="0.73" fill="#f03434" opacity="0.22"/><circle cx="192.1" cy="95.7" r="0.49" fill="#f03434" opacity="0.22"/><circle cx="187.2" cy="107.7" r="0.50" fill="#f03434" opacity="0.17"/><circle cx="188.2" cy="93.0" r="0.99" fill="#f03434" opacity="0.32"/><circle cx="184.8" cy="95.2" r="0.88" fill="#f03434" opacity="0.31"/><circle cx="177.3" cy="107.3" r="0.46" fill="#f03434" opacity="0.40"/><circle cx="171.1" cy="101.7" r="0.64" fill="#f03434" opacity="0.44"/><circle cx="170.9" cy="100.0" r="0.65" fill="#f03434" opacity="0.46"/><circle cx="192.2" cy="101.3" r="0.53" fill="#f03434" opacity="0.24"/><circle cx="175.8" cy="97.2" r="0.54" fill="#f03434" opacity="0.23"/><circle cx="187.7" cy="101.7" r="0.58" fill="#f03434" opacity="0.49"/><circle cx="174.7" cy="100.1" r="0.49" fill="#f03434" opacity="0.44"/><circle cx="190.4" cy="93.6" r="0.85" fill="#f03434" opacity="0.43"/><circle cx="176.3" cy="95.0" r="0.69" fill="#f03434" opacity="0.45"/><circle cx="173.4" cy="102.5" r="0.76" fill="#f03434" opacity="0.31"/></g><ellipse cx="179.7" cy="95.1" rx="5.7" ry="4.2" fill="#1e1e9c" opacity="0.6" filter="url(#b1)"/><ellipse cx="152.2" cy="91.8" rx="9.774999999999999" ry="9.774999999999999" fill="#9a1212" opacity="0.3" filter="url(#b2)"/><ellipse cx="152.2" cy="91.8" rx="6.5" ry="6.2" fill="none" stroke="#c81c1c" stroke-width="1.8" opacity="0.18" filter="url(#b15)"/><g filter="url(#b05)"><circle cx="153.8" cy="99.6" r="0.53" fill="#f03434" opacity="0.38"/><circle cx="149.4" cy="97.5" r="0.92" fill="#f03434" opacity="0.19"/><circle cx="145.1" cy="96.6" r="0.46" fill="#f03434" opacity="0.18"/><circle cx="155.9" cy="83.4" r="0.60" fill="#f03434" opacity="0.39"/><circle cx="156.6" cy="99.6" r="0.99" fill="#f03434" opacity="0.15"/><circle cx="146.8" cy="97.8" r="0.81" fill="#f03434" opacity="0.15"/><circle cx="152.3" cy="86.3" r="0.66" fill="#f03434" opacity="0.17"/><circle cx="148.5" cy="99.5" r="0.47" fill="#f03434" opacity="0.27"/><circle cx="144.8" cy="90.3" r="0.51" fill="#f03434" opacity="0.33"/><circle cx="145.0" cy="96.7" r="0.70" fill="#f03434" opacity="0.17"/><circle cx="160.7" cy="88.7" r="0.53" fill="#f03434" opacity="0.40"/><circle cx="160.0" cy="96.5" r="0.56" fill="#f03434" opacity="0.19"/><circle cx="147.4" cy="83.0" r="0.43" fill="#f03434" opacity="0.28"/><circle cx="156.0" cy="94.9" r="0.73" fill="#f03434" opacity="0.29"/><circle cx="159.8" cy="96.2" r="0.64" fill="#f03434" opacity="0.23"/><circle cx="150.6" cy="101.4" r="0.63" fill="#f03434" opacity="0.24"/><circle cx="150.4" cy="84.5" r="1.00" fill="#f03434" opacity="0.14"/><circle cx="154.4" cy="100.5" r="0.55" fill="#f03434" opacity="0.31"/><circle cx="149.7" cy="86.5" r="0.52" fill="#f03434" opacity="0.17"/><circle cx="159.2" cy="97.6" r="0.95" fill="#f03434" opacity="0.15"/><circle cx="156.2" cy="88.2" r="0.79" fill="#f03434" opacity="0.29"/></g><ellipse cx="152.2" cy="91.8" rx="4.5" ry="4" fill="#1e1e9c" opacity="0.6" filter="url(#b1)"/><ellipse cx="158.7" cy="116.1" rx="12.075" ry="10.35" fill="#9a1212" opacity="0.33" filter="url(#b2)"/><ellipse cx="158.7" cy="116.1" rx="7.7" ry="6.5" fill="none" stroke="#c81c1c" stroke-width="2.6" opacity="0.19" filter="url(#b15)"/><g filter="url(#b05)"><circle cx="167.6" cy="116.3" r="0.76" fill="#f03434" opacity="0.45"/><circle cx="152.0" cy="118.9" r="0.85" fill="#f03434" opacity="0.26"/><circle cx="164.0" cy="113.8" r="0.72" fill="#f03434" opacity="0.33"/><circle cx="163.2" cy="112.3" r="0.78" fill="#f03434" opacity="0.31"/><circle cx="151.7" cy="118.5" r="0.56" fill="#f03434" opacity="0.42"/><circle cx="158.0" cy="120.9" r="0.71" fill="#f03434" opacity="0.29"/><circle cx="151.7" cy="108.4" r="0.96" fill="#f03434" opacity="0.31"/><circle cx="166.6" cy="110.5" r="0.50" fill="#f03434" opacity="0.40"/><circle cx="155.7" cy="123.3" r="0.89" fill="#f03434" opacity="0.19"/><circle cx="150.0" cy="110.7" r="0.46" fill="#f03434" opacity="0.26"/><circle cx="166.3" cy="116.6" r="0.67" fill="#f03434" opacity="0.18"/><circle cx="163.6" cy="115.0" r="0.69" fill="#f03434" opacity="0.39"/><circle cx="165.2" cy="108.5" r="0.81" fill="#f03434" opacity="0.26"/><circle cx="159.2" cy="110.4" r="0.62" fill="#f03434" opacity="0.25"/><circle cx="155.7" cy="105.7" r="0.52" fill="#f03434" opacity="0.32"/><circle cx="164.2" cy="111.2" r="0.59" fill="#f03434" opacity="0.22"/><circle cx="162.1" cy="123.9" r="0.52" fill="#f03434" opacity="0.28"/><circle cx="166.1" cy="118.6" r="0.62" fill="#f03434" opacity="0.16"/><circle cx="164.1" cy="111.7" r="0.64" fill="#f03434" opacity="0.34"/><circle cx="166.5" cy="112.9" r="0.63" fill="#f03434" opacity="0.32"/><circle cx="155.5" cy="119.7" r="0.60" fill="#f03434" opacity="0.17"/><circle cx="165.2" cy="113.5" r="0.72" fill="#f03434" opacity="0.30"/><circle cx="168.8" cy="121.7" r="0.42" fill="#f03434" opacity="0.33"/><circle cx="167.3" cy="114.3" r="0.68" fill="#f03434" opacity="0.42"/><circle cx="159.0" cy="123.1" r="0.80" fill="#f03434" opacity="0.37"/><circle cx="156.2" cy="106.2" r="0.81" fill="#f03434" opacity="0.32"/><circle cx="165.5" cy="121.9" r="0.47" fill="#f03434" opacity="0.22"/><circle cx="165.1" cy="117.5" r="0.43" fill="#f03434" opacity="0.35"/><circle cx="164.0" cy="115.7" r="0.43" fill="#f03434" opacity="0.36"/><circle cx="154.5" cy="116.5" r="0.40" fill="#f03434" opacity="0.45"/><circle cx="153.0" cy="111.0" r="0.59" fill="#f03434" opacity="0.23"/></g><ellipse cx="158.7" cy="116.1" rx="4.8" ry="4" fill="#1e1e9c" opacity="0.6" filter="url(#b1)"/><ellipse cx="182.5" cy="118.6" rx="10.35" ry="11.5" fill="#9a1212" opacity="0.39" filter="url(#b2)"/><ellipse cx="182.5" cy="118.6" rx="6.6" ry="7.4" fill="none" stroke="#c81c1c" stroke-width="2.2" opacity="0.22" filter="url(#b15)"/><g filter="url(#b05)"><circle cx="190.3" cy="119.9" r="0.71" fill="#f03434" opacity="0.32"/><circle cx="172.8" cy="113.9" r="0.92" fill="#f03434" opacity="0.46"/><circle cx="190.2" cy="112.8" r="0.52" fill="#f03434" opacity="0.19"/><circle cx="184.3" cy="115.4" r="0.88" fill="#f03434" opacity="0.25"/><circle cx="191.6" cy="119.9" r="0.43" fill="#f03434" opacity="0.28"/><circle cx="183.9" cy="114.4" r="0.56" fill="#f03434" opacity="0.45"/><circle cx="178.0" cy="123.7" r="0.88" fill="#f03434" opacity="0.38"/><circle cx="181.5" cy="129.0" r="0.67" fill="#f03434" opacity="0.48"/><circle cx="172.9" cy="117.0" r="0.78" fill="#f03434" opacity="0.19"/><circle cx="184.6" cy="110.9" r="0.95" fill="#f03434" opacity="0.37"/><circle cx="189.0" cy="118.6" r="0.80" fill="#f03434" opacity="0.41"/><circle cx="178.1" cy="111.7" r="0.90" fill="#f03434" opacity="0.23"/><circle cx="180.7" cy="122.4" r="0.55" fill="#f03434" opacity="0.49"/><circle cx="186.5" cy="110.3" r="0.43" fill="#f03434" opacity="0.42"/><circle cx="178.0" cy="112.2" r="0.75" fill="#f03434" opacity="0.29"/><circle cx="183.8" cy="110.3" r="0.95" fill="#f03434" opacity="0.29"/><circle cx="189.9" cy="110.2" r="0.88" fill="#f03434" opacity="0.52"/><circle cx="180.2" cy="107.4" r="0.63" fill="#f03434" opacity="0.40"/><circle cx="176.5" cy="119.7" r="0.46" fill="#f03434" opacity="0.34"/><circle cx="187.4" cy="116.9" r="0.81" fill="#f03434" opacity="0.22"/><circle cx="192.0" cy="119.2" r="0.57" fill="#f03434" opacity="0.30"/><circle cx="187.9" cy="118.5" r="0.96" fill="#f03434" opacity="0.21"/><circle cx="182.2" cy="127.3" r="0.76" fill="#f03434" opacity="0.36"/><circle cx="177.6" cy="128.0" r="0.91" fill="#f03434" opacity="0.25"/><circle cx="184.6" cy="129.8" r="0.61" fill="#f03434" opacity="0.51"/><circle cx="185.9" cy="107.8" r="0.60" fill="#f03434" opacity="0.33"/><circle cx="177.0" cy="124.4" r="0.51" fill="#f03434" opacity="0.45"/><circle cx="178.1" cy="108.3" r="0.74" fill="#f03434" opacity="0.21"/><circle cx="183.6" cy="125.5" r="0.76" fill="#f03434" opacity="0.34"/><circle cx="172.4" cy="118.9" r="0.46" fill="#f03434" opacity="0.40"/><circle cx="174.6" cy="120.5" r="0.61" fill="#f03434" opacity="0.31"/><circle cx="186.0" cy="110.5" r="0.50" fill="#f03434" opacity="0.50"/><circle cx="178.9" cy="126.8" r="0.92" fill="#f03434" opacity="0.34"/><circle cx="174.2" cy="117.8" r="0.50" fill="#f03434" opacity="0.36"/></g><ellipse cx="183.7" cy="112.8" rx="4.2" ry="4.8" fill="#1e1e9c" opacity="0.6" filter="url(#b1)"/><ellipse cx="166.7" cy="125.1" rx="8.049999999999999" ry="5.75" fill="#9a1212" opacity="0.28" filter="url(#b2)"/><ellipse cx="166.7" cy="125.1" rx="5.9" ry="4.5" fill="none" stroke="#c81c1c" stroke-width="1.0" opacity="0.16" filter="url(#b15)"/><g filter="url(#b05)"><circle cx="161.6" cy="123.9" r="0.52" fill="#f03434" opacity="0.16"/><circle cx="162.3" cy="129.6" r="0.70" fill="#f03434" opacity="0.35"/><circle cx="166.5" cy="128.6" r="0.74" fill="#f03434" opacity="0.30"/><circle cx="162.2" cy="128.1" r="0.49" fill="#f03434" opacity="0.19"/><circle cx="158.8" cy="123.8" r="0.71" fill="#f03434" opacity="0.20"/><circle cx="168.0" cy="121.9" r="0.76" fill="#f03434" opacity="0.32"/><circle cx="170.2" cy="119.8" r="0.55" fill="#f03434" opacity="0.27"/><circle cx="168.7" cy="127.4" r="0.89" fill="#f03434" opacity="0.21"/><circle cx="171.9" cy="124.6" r="0.95" fill="#f03434" opacity="0.13"/></g><ellipse cx="166.7" cy="125.1" rx="4.8" ry="4" fill="#1e1e9c" opacity="0.6" filter="url(#b1)"/><ellipse cx="203.9" cy="112.8" rx="9.2" ry="9.2" fill="#9a1212" opacity="0.11" filter="url(#b2)"/><ellipse cx="203.9" cy="112.8" rx="6.8" ry="6.8" fill="none" stroke="#c81c1c" stroke-width="1.1" opacity="0.06" filter="url(#b15)"/><g filter="url(#b05)"><circle cx="212.4" cy="111.1" r="0.64" fill="#f03434" opacity="0.06"/><circle cx="199.0" cy="117.3" r="0.81" fill="#f03434" opacity="0.07"/><circle cx="200.9" cy="105.9" r="0.52" fill="#f03434" opacity="0.07"/><circle cx="209.3" cy="120.6" r="0.85" fill="#f03434" opacity="0.11"/><circle cx="198.1" cy="115.2" r="0.91" fill="#f03434" opacity="0.13"/><circle cx="196.1" cy="117.0" r="0.61" fill="#f03434" opacity="0.07"/><circle cx="212.8" cy="116.1" r="0.85" fill="#f03434" opacity="0.06"/></g><ellipse cx="203.9" cy="112.8" rx="5.5" ry="5.5" fill="#1e1e9c" opacity="0.6" filter="url(#b1)"/><ellipse cx="218.4" cy="111.2" rx="9.2" ry="10.35" fill="#9a1212" opacity="0.17" filter="url(#b2)"/><ellipse cx="218.4" cy="111.2" rx="6.5" ry="7.0" fill="none" stroke="#c81c1c" stroke-width="1.4" opacity="0.10" filter="url(#b15)"/><g filter="url(#b05)"><circle cx="226.2" cy="116.5" r="0.90" fill="#f03434" opacity="0.20"/><circle cx="224.6" cy="117.3" r="0.92" fill="#f03434" opacity="0.12"/><circle cx="227.2" cy="111.9" r="0.97" fill="#f03434" opacity="0.09"/><circle cx="213.6" cy="118.5" r="0.54" fill="#f03434" opacity="0.10"/><circle cx="217.6" cy="105.5" r="0.70" fill="#f03434" opacity="0.21"/><circle cx="222.0" cy="115.7" r="0.64" fill="#f03434" opacity="0.19"/><circle cx="224.0" cy="115.1" r="0.97" fill="#f03434" opacity="0.20"/><circle cx="216.6" cy="102.3" r="0.79" fill="#f03434" opacity="0.20"/><circle cx="215.3" cy="113.2" r="0.90" fill="#f03434" opacity="0.19"/><circle cx="208.9" cy="111.0" r="0.41" fill="#f03434" opacity="0.09"/><circle cx="224.4" cy="109.4" r="0.76" fill="#f03434" opacity="0.14"/></g><ellipse cx="218.4" cy="111.2" rx="5" ry="5" fill="#1e1e9c" opacity="0.6" filter="url(#b1)"/><ellipse cx="210.4" cy="124.1" rx="9.2" ry="8.049999999999999" fill="#9a1212" opacity="0.11" filter="url(#b2)"/><ellipse cx="210.4" cy="124.1" rx="6.5" ry="6.0" fill="none" stroke="#c81c1c" stroke-width="1.4" opacity="0.06" filter="url(#b15)"/><g filter="url(#b05)"><circle cx="207.2" cy="119.3" r="0.61" fill="#f03434" opacity="0.13"/><circle cx="212.7" cy="120.6" r="0.45" fill="#f03434" opacity="0.08"/><circle cx="214.3" cy="123.1" r="0.80" fill="#f03434" opacity="0.13"/><circle cx="203.1" cy="127.2" r="0.42" fill="#f03434" opacity="0.13"/><circle cx="204.3" cy="120.3" r="0.97" fill="#f03434" opacity="0.09"/><circle cx="205.1" cy="130.6" r="0.77" fill="#f03434" opacity="0.14"/></g><ellipse cx="210.4" cy="124.1" rx="5" ry="5" fill="#1e1e9c" opacity="0.6" filter="url(#b1)"/><ellipse cx="168.5" cy="77.6" rx="9.2" ry="8.049999999999999" fill="#9a1212" opacity="0.22" filter="url(#b2)"/><ellipse cx="168.5" cy="77.6" rx="6.2" ry="5.5" fill="none" stroke="#c81c1c" stroke-width="1.6" opacity="0.13" filter="url(#b15)"/><g filter="url(#b05)"><circle cx="177.3" cy="77.7" r="0.99" fill="#f03434" opacity="0.14"/><circle cx="174.8" cy="71.9" r="0.72" fill="#f03434" opacity="0.10"/><circle cx="167.6" cy="82.8" r="0.55" fill="#f03434" opacity="0.17"/><circle cx="160.8" cy="78.5" r="0.92" fill="#f03434" opacity="0.20"/><circle cx="166.1" cy="84.8" r="0.94" fill="#f03434" opacity="0.23"/><circle cx="160.4" cy="79.7" r="0.67" fill="#f03434" opacity="0.29"/><circle cx="165.8" cy="80.3" r="0.78" fill="#f03434" opacity="0.18"/><circle cx="168.9" cy="80.6" r="0.94" fill="#f03434" opacity="0.20"/><circle cx="165.9" cy="85.6" r="0.43" fill="#f03434" opacity="0.27"/><circle cx="172.0" cy="78.6" r="0.67" fill="#f03434" opacity="0.25"/><circle cx="176.0" cy="81.4" r="0.85" fill="#f03434" opacity="0.11"/><circle cx="165.1" cy="71.5" r="0.97" fill="#f03434" opacity="0.28"/></g><ellipse cx="168.5" cy="77.6" rx="4.5" ry="4" fill="#1e1e9c" opacity="0.6" filter="url(#b1)"/></g>
<g clip-path="url(#c21)"><rect x="141.5" y="129.8" width="84.0" height="62.8" fill="#060104"/><ellipse cx="175.5" cy="164.3" rx="44" ry="27" fill="#4a0808" opacity="0.4" filter="url(#b2)" transform="rotate(-16 175.5 164.3)"/><ellipse cx="177.5" cy="163.3" rx="25" ry="17.5" fill="#8c1010" opacity="0.6" filter="url(#b2)" transform="rotate(-16 177.5 163.3)"/><ellipse cx="177.5" cy="163.3" rx="16" ry="12.5" fill="none" stroke="#b81818" stroke-width="5" opacity="0.6" filter="url(#b15)" transform="rotate(-16 178.5 162.3)"/><g filter="url(#b05)"><circle cx="161.6" cy="170.5" r="0.59" fill="#ff3434" opacity="0.28"/><circle cx="175.6" cy="172.6" r="0.62" fill="#ff3434" opacity="0.43"/><circle cx="189.5" cy="151.1" r="0.57" fill="#ff3434" opacity="0.52"/><circle cx="195.5" cy="164.2" r="0.49" fill="#ff3434" opacity="0.88"/><circle cx="190.9" cy="166.1" r="0.44" fill="#ff3434" opacity="0.36"/><circle cx="185.6" cy="172.8" r="0.70" fill="#ff3434" opacity="0.48"/><circle cx="160.7" cy="168.0" r="0.74" fill="#ff3434" opacity="0.36"/><circle cx="187.1" cy="147.2" r="0.46" fill="#ff3434" opacity="0.28"/><circle cx="167.2" cy="161.0" r="0.78" fill="#ff3434" opacity="0.88"/><circle cx="160.9" cy="160.0" r="0.77" fill="#ff3434" opacity="0.38"/><circle cx="156.5" cy="159.4" r="0.50" fill="#ff3434" opacity="0.50"/><circle cx="179.5" cy="175.0" r="0.62" fill="#ff3434" opacity="0.76"/><circle cx="165.7" cy="152.6" r="0.68" fill="#ff3434" opacity="0.56"/><circle cx="188.8" cy="150.7" r="0.48" fill="#ff3434" opacity="0.85"/><circle cx="177.8" cy="154.4" r="0.62" fill="#ff3434" opacity="0.42"/><circle cx="195.5" cy="160.0" r="0.48" fill="#ff3434" opacity="0.86"/><circle cx="164.2" cy="156.5" r="0.33" fill="#ff3434" opacity="0.61"/><circle cx="193.0" cy="165.0" r="0.51" fill="#ff3434" opacity="0.78"/><circle cx="157.1" cy="161.0" r="0.62" fill="#ff3434" opacity="0.88"/><circle cx="187.2" cy="167.2" r="0.69" fill="#ff3434" opacity="0.51"/><circle cx="192.2" cy="152.6" r="0.39" fill="#ff3434" opacity="0.82"/><circle cx="191.1" cy="174.2" r="0.37" fill="#ff3434" opacity="0.47"/><circle cx="155.9" cy="165.4" r="0.55" fill="#ff3434" opacity="0.80"/><circle cx="170.7" cy="177.8" r="0.69" fill="#ff3434" opacity="0.79"/><circle cx="162.8" cy="173.4" r="0.68" fill="#ff3434" opacity="0.58"/><circle cx="193.9" cy="170.2" r="0.62" fill="#ff3434" opacity="0.82"/><circle cx="162.2" cy="174.8" r="0.65" fill="#ff3434" opacity="0.65"/><circle cx="162.8" cy="150.1" r="0.60" fill="#ff3434" opacity="0.79"/><circle cx="164.2" cy="155.3" r="0.41" fill="#ff3434" opacity="0.31"/><circle cx="192.2" cy="153.0" r="0.65" fill="#ff3434" opacity="0.30"/><circle cx="193.6" cy="151.2" r="0.30" fill="#ff3434" opacity="0.66"/><circle cx="158.1" cy="159.5" r="0.33" fill="#ff3434" opacity="0.54"/><circle cx="184.4" cy="172.4" r="0.32" fill="#ff3434" opacity="0.79"/><circle cx="156.2" cy="158.1" r="0.61" fill="#ff3434" opacity="0.47"/><circle cx="167.4" cy="176.8" r="0.40" fill="#ff3434" opacity="0.80"/><circle cx="194.3" cy="159.2" r="0.32" fill="#ff3434" opacity="0.76"/><circle cx="155.0" cy="169.2" r="0.51" fill="#ff3434" opacity="0.29"/><circle cx="187.3" cy="168.4" r="0.59" fill="#ff3434" opacity="0.51"/><circle cx="168.6" cy="179.3" r="0.80" fill="#ff3434" opacity="0.77"/><circle cx="199.8" cy="149.6" r="0.79" fill="#ff3434" opacity="0.30"/><circle cx="173.7" cy="149.6" r="0.53" fill="#ff3434" opacity="0.69"/><circle cx="188.5" cy="157.7" r="0.47" fill="#ff3434" opacity="0.37"/><circle cx="171.4" cy="156.0" r="0.40" fill="#ff3434" opacity="0.73"/><circle cx="165.5" cy="173.9" r="0.40" fill="#ff3434" opacity="0.42"/><circle cx="183.6" cy="168.6" r="0.79" fill="#ff3434" opacity="0.74"/><circle cx="191.9" cy="166.9" r="0.33" fill="#ff3434" opacity="0.38"/><circle cx="190.9" cy="163.7" r="0.43" fill="#ff3434" opacity="0.48"/><circle cx="163.0" cy="171.8" r="0.80" fill="#ff3434" opacity="0.45"/><circle cx="175.3" cy="178.6" r="0.70" fill="#ff3434" opacity="0.55"/><circle cx="164.0" cy="177.1" r="0.54" fill="#ff3434" opacity="0.89"/><circle cx="180.6" cy="174.1" r="0.36" fill="#ff3434" opacity="0.32"/><circle cx="161.4" cy="157.6" r="0.31" fill="#ff3434" opacity="0.84"/><circle cx="193.5" cy="175.1" r="0.79" fill="#ff3434" opacity="0.53"/><circle cx="188.9" cy="154.8" r="0.71" fill="#ff3434" opacity="0.80"/><circle cx="165.1" cy="169.4" r="0.49" fill="#ff3434" opacity="0.26"/><circle cx="197.9" cy="167.7" r="0.53" fill="#ff3434" opacity="0.28"/><circle cx="198.3" cy="157.9" r="0.34" fill="#ff3434" opacity="0.46"/><circle cx="188.7" cy="174.2" r="0.54" fill="#ff3434" opacity="0.67"/><circle cx="161.2" cy="157.4" r="0.75" fill="#ff3434" opacity="0.50"/><circle cx="159.6" cy="171.2" r="0.36" fill="#ff3434" opacity="0.38"/><circle cx="187.4" cy="167.7" r="0.52" fill="#ff3434" opacity="0.29"/><circle cx="185.2" cy="143.2" r="0.54" fill="#ff3434" opacity="0.51"/><circle cx="189.3" cy="167.4" r="0.42" fill="#ff3434" opacity="0.67"/><circle cx="179.0" cy="145.3" r="0.42" fill="#ff3434" opacity="0.89"/><circle cx="163.8" cy="162.4" r="0.69" fill="#ff3434" opacity="0.79"/><circle cx="187.7" cy="169.0" r="0.32" fill="#ff3434" opacity="0.31"/><circle cx="166.2" cy="172.4" r="0.77" fill="#ff3434" opacity="0.67"/><circle cx="197.0" cy="147.9" r="0.38" fill="#ff3434" opacity="0.26"/><circle cx="187.3" cy="144.5" r="0.79" fill="#ff3434" opacity="0.71"/><circle cx="166.0" cy="177.7" r="0.38" fill="#ff3434" opacity="0.58"/><circle cx="161.7" cy="178.2" r="0.74" fill="#ff3434" opacity="0.85"/><circle cx="184.6" cy="172.9" r="0.55" fill="#ff3434" opacity="0.65"/><circle cx="186.3" cy="171.6" r="0.34" fill="#ff3434" opacity="0.29"/><circle cx="178.6" cy="154.2" r="0.50" fill="#ff3434" opacity="0.25"/><circle cx="198.2" cy="168.7" r="0.53" fill="#ff3434" opacity="0.33"/><circle cx="183.0" cy="149.7" r="0.51" fill="#ff3434" opacity="0.32"/><circle cx="202.8" cy="157.1" r="0.48" fill="#ff3434" opacity="0.31"/><circle cx="193.6" cy="171.4" r="0.72" fill="#ff3434" opacity="0.32"/><circle cx="169.9" cy="157.2" r="0.68" fill="#ff3434" opacity="0.35"/><circle cx="188.7" cy="177.8" r="0.68" fill="#ff3434" opacity="0.25"/><circle cx="189.1" cy="163.1" r="0.56" fill="#ff3434" opacity="0.55"/><circle cx="190.2" cy="175.0" r="0.67" fill="#ff3434" opacity="0.77"/><circle cx="191.1" cy="172.2" r="0.52" fill="#ff3434" opacity="0.82"/><circle cx="177.7" cy="170.5" r="0.43" fill="#ff3434" opacity="0.45"/><circle cx="169.1" cy="158.2" r="0.35" fill="#ff3434" opacity="0.54"/><circle cx="188.8" cy="150.6" r="0.42" fill="#ff3434" opacity="0.52"/><circle cx="172.7" cy="174.4" r="0.69" fill="#ff3434" opacity="0.83"/><circle cx="193.6" cy="159.2" r="0.35" fill="#ff3434" opacity="0.79"/><circle cx="170.5" cy="169.5" r="0.48" fill="#ff3434" opacity="0.60"/><circle cx="184.9" cy="177.3" r="0.50" fill="#ff3434" opacity="0.84"/><circle cx="172.0" cy="179.8" r="0.31" fill="#ff3434" opacity="0.42"/><circle cx="161.7" cy="164.7" r="0.64" fill="#ff3434" opacity="0.70"/><circle cx="193.4" cy="167.8" r="0.42" fill="#ff3434" opacity="0.42"/><circle cx="161.5" cy="157.9" r="0.78" fill="#ff3434" opacity="0.67"/><circle cx="185.4" cy="167.8" r="0.45" fill="#ff3434" opacity="0.29"/><circle cx="167.9" cy="151.6" r="0.36" fill="#ff3434" opacity="0.57"/><circle cx="169.9" cy="175.1" r="0.39" fill="#ff3434" opacity="0.32"/><circle cx="167.7" cy="161.9" r="0.64" fill="#ff3434" opacity="0.54"/><circle cx="185.8" cy="144.6" r="0.77" fill="#ff3434" opacity="0.47"/><circle cx="192.1" cy="147.9" r="0.73" fill="#ff3434" opacity="0.77"/><circle cx="184.8" cy="151.9" r="0.30" fill="#ff3434" opacity="0.37"/><circle cx="183.3" cy="148.6" r="0.37" fill="#ff3434" opacity="0.31"/><circle cx="201.4" cy="151.2" r="0.63" fill="#ff3434" opacity="0.62"/><circle cx="174.0" cy="172.2" r="0.37" fill="#ff3434" opacity="0.76"/><circle cx="164.7" cy="161.1" r="0.56" fill="#ff3434" opacity="0.32"/><circle cx="168.9" cy="176.4" r="0.44" fill="#ff3434" opacity="0.50"/><circle cx="188.9" cy="148.7" r="0.40" fill="#ff3434" opacity="0.39"/><circle cx="190.1" cy="171.9" r="0.42" fill="#ff3434" opacity="0.27"/><circle cx="171.5" cy="149.5" r="0.53" fill="#ff3434" opacity="0.71"/><circle cx="174.1" cy="151.0" r="0.42" fill="#ff3434" opacity="0.54"/><circle cx="200.9" cy="158.0" r="0.34" fill="#ff3434" opacity="0.39"/><circle cx="191.3" cy="161.0" r="0.74" fill="#ff3434" opacity="0.88"/><circle cx="200.9" cy="156.8" r="0.42" fill="#ff3434" opacity="0.36"/><circle cx="193.8" cy="146.8" r="0.34" fill="#ff3434" opacity="0.42"/><circle cx="199.3" cy="154.8" r="0.67" fill="#ff3434" opacity="0.30"/><circle cx="165.4" cy="172.3" r="0.48" fill="#ff3434" opacity="0.33"/><circle cx="202.5" cy="154.7" r="0.39" fill="#ff3434" opacity="0.26"/><circle cx="154.4" cy="168.1" r="0.67" fill="#ff3434" opacity="0.60"/><circle cx="165.2" cy="166.1" r="0.60" fill="#ff3434" opacity="0.67"/><circle cx="163.9" cy="178.2" r="0.77" fill="#ff3434" opacity="0.73"/><circle cx="195.0" cy="152.5" r="0.75" fill="#ff3434" opacity="0.37"/><circle cx="165.8" cy="169.7" r="0.75" fill="#ff3434" opacity="0.30"/><circle cx="171.8" cy="150.4" r="0.40" fill="#ff3434" opacity="0.74"/><circle cx="187.1" cy="176.7" r="0.50" fill="#ff3434" opacity="0.69"/><circle cx="164.9" cy="165.3" r="0.56" fill="#ff3434" opacity="0.87"/><circle cx="183.1" cy="179.9" r="0.61" fill="#ff3434" opacity="0.39"/><circle cx="192.2" cy="146.9" r="0.80" fill="#ff3434" opacity="0.55"/><circle cx="168.6" cy="161.5" r="0.47" fill="#ff3434" opacity="0.68"/><circle cx="153.4" cy="164.7" r="0.38" fill="#ff3434" opacity="0.79"/><circle cx="165.9" cy="164.1" r="0.58" fill="#ff3434" opacity="0.71"/><circle cx="157.7" cy="158.3" r="0.36" fill="#ff3434" opacity="0.87"/><circle cx="161.8" cy="154.3" r="0.59" fill="#ff3434" opacity="0.54"/><circle cx="177.9" cy="177.4" r="0.63" fill="#ff3434" opacity="0.81"/><circle cx="199.7" cy="152.7" r="0.33" fill="#ff3434" opacity="0.84"/><circle cx="165.8" cy="157.8" r="0.78" fill="#ff3434" opacity="0.82"/><circle cx="199.1" cy="168.2" r="0.63" fill="#ff3434" opacity="0.58"/><circle cx="156.7" cy="158.7" r="0.63" fill="#ff3434" opacity="0.63"/><circle cx="197.6" cy="172.2" r="0.78" fill="#ff3434" opacity="0.38"/><circle cx="178.8" cy="150.0" r="0.65" fill="#ff3434" opacity="0.42"/><circle cx="164.0" cy="161.3" r="0.56" fill="#ff3434" opacity="0.69"/><circle cx="159.6" cy="177.0" r="0.61" fill="#ff3434" opacity="0.56"/><circle cx="190.2" cy="170.5" r="0.30" fill="#ff3434" opacity="0.56"/><circle cx="189.5" cy="167.2" r="0.62" fill="#ff3434" opacity="0.37"/><circle cx="164.4" cy="163.7" r="0.78" fill="#ff3434" opacity="0.38"/><circle cx="178.7" cy="180.0" r="0.75" fill="#ff3434" opacity="0.40"/><circle cx="188.8" cy="153.9" r="0.63" fill="#ff3434" opacity="0.75"/><circle cx="157.1" cy="157.8" r="0.41" fill="#ff3434" opacity="0.42"/><circle cx="158.2" cy="171.3" r="0.77" fill="#ff3434" opacity="0.63"/><circle cx="173.4" cy="171.6" r="0.52" fill="#ff3434" opacity="0.36"/><circle cx="172.7" cy="145.4" r="0.64" fill="#ff3434" opacity="0.35"/><circle cx="176.7" cy="180.6" r="0.68" fill="#ff3434" opacity="0.79"/><circle cx="166.0" cy="176.1" r="0.45" fill="#ff3434" opacity="0.42"/><circle cx="195.6" cy="161.3" r="0.72" fill="#ff3434" opacity="0.82"/><circle cx="179.9" cy="150.3" r="0.31" fill="#ff3434" opacity="0.60"/><circle cx="187.5" cy="151.0" r="0.34" fill="#ff3434" opacity="0.25"/><circle cx="164.2" cy="174.0" r="0.30" fill="#ff3434" opacity="0.40"/><circle cx="168.9" cy="173.2" r="0.79" fill="#ff3434" opacity="0.26"/><circle cx="175.0" cy="154.0" r="0.33" fill="#ff3434" opacity="0.30"/><circle cx="186.7" cy="167.5" r="0.43" fill="#ff3434" opacity="0.76"/><circle cx="188.3" cy="153.4" r="0.55" fill="#ff3434" opacity="0.37"/><circle cx="200.6" cy="158.3" r="0.33" fill="#ff3434" opacity="0.35"/><circle cx="187.0" cy="155.5" r="0.66" fill="#ff3434" opacity="0.40"/><circle cx="196.4" cy="168.8" r="0.35" fill="#ff3434" opacity="0.63"/><circle cx="165.2" cy="174.1" r="0.70" fill="#ff3434" opacity="0.76"/><circle cx="160.9" cy="151.7" r="0.63" fill="#ff3434" opacity="0.62"/><circle cx="157.3" cy="156.6" r="0.59" fill="#ff3434" opacity="0.32"/><circle cx="182.6" cy="151.2" r="0.43" fill="#ff3434" opacity="0.53"/><circle cx="182.4" cy="169.8" r="0.32" fill="#ff3434" opacity="0.72"/><circle cx="162.4" cy="158.9" r="0.62" fill="#ff3434" opacity="0.70"/><circle cx="188.3" cy="174.9" r="0.40" fill="#ff3434" opacity="0.45"/></g><g filter="url(#b05)"><circle cx="146.9" cy="149.7" r="0.77" fill="#c02828" opacity="0.66"/><circle cx="189.5" cy="141.1" r="0.52" fill="#c02828" opacity="0.61"/><circle cx="144.7" cy="167.0" r="0.40" fill="#c02828" opacity="0.27"/><circle cx="169.4" cy="140.0" r="0.86" fill="#c02828" opacity="0.69"/><circle cx="166.5" cy="142.8" r="0.42" fill="#c02828" opacity="0.50"/><circle cx="185.9" cy="133.2" r="0.39" fill="#c02828" opacity="0.44"/><circle cx="180.3" cy="139.9" r="0.53" fill="#c02828" opacity="0.49"/><circle cx="189.5" cy="161.2" r="0.55" fill="#c02828" opacity="0.47"/><circle cx="175.7" cy="136.1" r="0.60" fill="#c02828" opacity="0.57"/><circle cx="147.9" cy="159.9" r="0.69" fill="#c02828" opacity="0.40"/><circle cx="147.2" cy="172.5" r="0.77" fill="#c02828" opacity="0.47"/><circle cx="144.2" cy="157.8" r="0.40" fill="#c02828" opacity="0.73"/><circle cx="140.7" cy="154.2" r="0.77" fill="#c02828" opacity="0.32"/><circle cx="150.9" cy="161.9" r="0.81" fill="#c02828" opacity="0.33"/><circle cx="154.2" cy="171.1" r="0.58" fill="#c02828" opacity="0.42"/><circle cx="144.9" cy="151.0" r="0.88" fill="#c02828" opacity="0.31"/><circle cx="159.6" cy="168.5" r="0.84" fill="#c02828" opacity="0.70"/><circle cx="176.0" cy="173.2" r="0.68" fill="#c02828" opacity="0.39"/><circle cx="183.5" cy="135.0" r="0.46" fill="#c02828" opacity="0.73"/><circle cx="193.6" cy="140.4" r="0.45" fill="#c02828" opacity="0.62"/><circle cx="158.5" cy="144.7" r="0.58" fill="#c02828" opacity="0.66"/><circle cx="197.1" cy="150.5" r="0.36" fill="#c02828" opacity="0.63"/><circle cx="184.1" cy="168.4" r="0.87" fill="#c02828" opacity="0.41"/><circle cx="199.0" cy="160.6" r="0.50" fill="#c02828" opacity="0.43"/><circle cx="160.0" cy="140.8" r="0.47" fill="#c02828" opacity="0.70"/><circle cx="200.8" cy="157.4" r="0.48" fill="#c02828" opacity="0.71"/><circle cx="190.4" cy="160.3" r="0.80" fill="#c02828" opacity="0.38"/><circle cx="190.5" cy="133.1" r="0.65" fill="#c02828" opacity="0.42"/><circle cx="191.7" cy="142.0" r="0.81" fill="#c02828" opacity="0.67"/><circle cx="165.3" cy="168.7" r="0.78" fill="#c02828" opacity="0.68"/><circle cx="152.0" cy="153.2" r="0.49" fill="#c02828" opacity="0.30"/><circle cx="188.7" cy="137.7" r="0.39" fill="#c02828" opacity="0.28"/><circle cx="184.8" cy="137.6" r="0.60" fill="#c02828" opacity="0.45"/><circle cx="198.0" cy="145.7" r="0.84" fill="#c02828" opacity="0.62"/><circle cx="164.5" cy="172.9" r="0.67" fill="#c02828" opacity="0.30"/><circle cx="182.0" cy="166.0" r="0.64" fill="#c02828" opacity="0.49"/><circle cx="171.4" cy="171.2" r="0.72" fill="#c02828" opacity="0.35"/><circle cx="204.7" cy="153.6" r="0.42" fill="#c02828" opacity="0.71"/><circle cx="143.1" cy="166.7" r="0.59" fill="#c02828" opacity="0.61"/><circle cx="163.2" cy="139.2" r="0.64" fill="#c02828" opacity="0.66"/><circle cx="189.7" cy="143.1" r="0.47" fill="#c02828" opacity="0.62"/><circle cx="189.0" cy="137.3" r="0.84" fill="#c02828" opacity="0.75"/><circle cx="191.2" cy="167.7" r="0.46" fill="#c02828" opacity="0.40"/><circle cx="152.6" cy="162.1" r="0.63" fill="#c02828" opacity="0.58"/><circle cx="188.1" cy="136.0" r="0.85" fill="#c02828" opacity="0.53"/></g><path d="M168.2,160.4 C168.2,154.5 175.3,152.5 180.6,155.5 C183.5,157.4 185.9,155.9 188.8,156.7 C191.8,157.9 191.8,165.2 189.4,168.7 C186.5,172.6 177.0,173.1 172.3,170.6 C168.2,168.5 168.2,164.8 168.2,160.4" fill="#2a22a8" opacity="0.95" filter="url(#b08)"/><ellipse cx="181.4" cy="164.3" rx="7" ry="5" fill="#3a38c0" opacity="0.45" filter="url(#b1)" transform="rotate(8 181.4 164.3)"/><ellipse cx="222.5" cy="143.8" rx="3.5" ry="5" fill="#2323b0" opacity="0.85" filter="url(#b1)"/></g>
<g clip-path="url(#c02)"><rect x="223.5" y="3.0" width="86.5" height="64.2" fill="#0a0a06"/><ellipse cx="248.5" cy="44.0" rx="20" ry="16" fill="#24400e" opacity="0.5" filter="url(#b2)" transform="rotate(20 248.5 44.0)"/><g filter="url(#b05)"><circle cx="254.2" cy="58.6" r="0.55" fill="#4a6a1a" opacity="0.57"/><circle cx="244.2" cy="56.0" r="0.85" fill="#4a6a1a" opacity="0.58"/><circle cx="244.2" cy="57.2" r="0.66" fill="#4a6a1a" opacity="0.26"/><circle cx="250.1" cy="54.9" r="0.58" fill="#4a6a1a" opacity="0.44"/><circle cx="241.9" cy="34.0" r="0.58" fill="#4a6a1a" opacity="0.41"/><circle cx="251.8" cy="31.3" r="0.35" fill="#4a6a1a" opacity="0.34"/><circle cx="253.9" cy="54.4" r="0.48" fill="#4a6a1a" opacity="0.30"/><circle cx="252.7" cy="34.5" r="0.68" fill="#4a6a1a" opacity="0.56"/><circle cx="236.4" cy="42.5" r="0.75" fill="#4a6a1a" opacity="0.50"/><circle cx="254.2" cy="53.2" r="0.50" fill="#4a6a1a" opacity="0.54"/><circle cx="265.8" cy="48.4" r="0.40" fill="#4a6a1a" opacity="0.23"/><circle cx="257.7" cy="53.4" r="0.43" fill="#4a6a1a" opacity="0.38"/><circle cx="239.4" cy="49.8" r="0.48" fill="#4a6a1a" opacity="0.28"/><circle cx="236.7" cy="36.7" r="0.69" fill="#4a6a1a" opacity="0.32"/><circle cx="238.9" cy="30.9" r="0.40" fill="#4a6a1a" opacity="0.28"/><circle cx="241.5" cy="41.6" r="0.45" fill="#4a6a1a" opacity="0.39"/><circle cx="241.1" cy="57.4" r="0.62" fill="#4a6a1a" opacity="0.58"/><circle cx="250.7" cy="34.5" r="0.68" fill="#4a6a1a" opacity="0.26"/><circle cx="246.5" cy="38.3" r="0.58" fill="#4a6a1a" opacity="0.34"/><circle cx="256.9" cy="43.4" r="0.43" fill="#4a6a1a" opacity="0.55"/><circle cx="256.6" cy="30.2" r="0.82" fill="#4a6a1a" opacity="0.49"/><circle cx="241.6" cy="45.9" r="0.86" fill="#4a6a1a" opacity="0.36"/><circle cx="248.2" cy="37.0" r="0.65" fill="#4a6a1a" opacity="0.47"/><circle cx="236.6" cy="35.1" r="0.82" fill="#4a6a1a" opacity="0.52"/><circle cx="249.9" cy="50.6" r="0.54" fill="#4a6a1a" opacity="0.58"/><circle cx="251.4" cy="41.7" r="0.45" fill="#4a6a1a" opacity="0.25"/><circle cx="260.2" cy="58.5" r="0.36" fill="#4a6a1a" opacity="0.33"/><circle cx="247.8" cy="43.6" r="0.55" fill="#4a6a1a" opacity="0.56"/><circle cx="242.5" cy="42.9" r="0.86" fill="#4a6a1a" opacity="0.46"/><circle cx="249.5" cy="38.7" r="0.56" fill="#4a6a1a" opacity="0.44"/></g><ellipse cx="240.2" cy="29.7" rx="4.93" ry="3.4" fill="#2424b8" opacity="0.6" filter="url(#b1)" transform="rotate(35 240.2 29.7)"/><ellipse cx="262.8" cy="28.0" rx="3.57" ry="4.59" fill="#2424b8" opacity="0.85" filter="url(#b1)" transform="rotate(-10 262.8 28.0)"/><ellipse cx="252.3" cy="44.2" rx="4.42" ry="3.57" fill="#2424b8" opacity="0.7" filter="url(#b1)" transform="rotate(15 252.3 44.2)"/><ellipse cx="281.4" cy="48.2" rx="4.42" ry="3.74" fill="#2424b8" opacity="0.7" filter="url(#b1)"/><ellipse cx="231.3" cy="54.7" rx="4.42" ry="3.9099999999999997" fill="#2424b8" opacity="0.6" filter="url(#b1)"/><ellipse cx="266.0" cy="56.3" rx="4.08" ry="3.4" fill="#2424b8" opacity="0.75" filter="url(#b1)"/><ellipse cx="293.5" cy="54.7" rx="4.08" ry="3.57" fill="#2424b8" opacity="0.6" filter="url(#b1)"/><ellipse cx="300.7" cy="39.3" rx="3.9099999999999997" ry="3.74" fill="#2424b8" opacity="0.5" filter="url(#b1)"/><ellipse cx="288.6" cy="7.8" rx="3.9099999999999997" ry="3.9099999999999997" fill="#2424b8" opacity="0.45" filter="url(#b1)"/><ellipse cx="276.5" cy="15.9" rx="3.4" ry="4.42" fill="#2424b8" opacity="0.5" filter="url(#b1)"/><ellipse cx="253.0" cy="64.8" rx="3.9099999999999997" ry="3.23" fill="#2424b8" opacity="0.55" filter="url(#b1)"/><ellipse cx="304.8" cy="61.5" rx="3.57" ry="3.57" fill="#2424b8" opacity="0.5" filter="url(#b1)"/></g>
<g clip-path="url(#c12)"><rect x="223.5" y="66.6" width="86.5" height="63.4" fill="#080e04"/><ellipse cx="266.5" cy="102.6" rx="40" ry="26" fill="#16280a" opacity="1.0" filter="url(#b2)"/><ellipse cx="294.8" cy="86.2" rx="9.774999999999999" ry="14.374999999999998" fill="#4a8c16" opacity="0.55" filter="url(#b2)" transform="rotate(-20 294.8 86.2)"/><ellipse cx="294.8" cy="86.2" rx="6.0" ry="9.1" fill="none" stroke="#b0c828" stroke-width="2.3" opacity="0.32" filter="url(#b15)" transform="rotate(-20 294.8 86.2)"/><g filter="url(#b05)"><circle cx="297.8" cy="77.5" r="0.62" fill="#f0e048" opacity="0.60"/><circle cx="296.4" cy="98.8" r="0.72" fill="#f0e048" opacity="0.53"/><circle cx="294.9" cy="96.4" r="0.50" fill="#f0e048" opacity="0.80"/><circle cx="285.2" cy="81.0" r="0.43" fill="#f0e048" opacity="0.52"/><circle cx="301.5" cy="90.8" r="0.95" fill="#f0e048" opacity="0.97"/><circle cx="300.1" cy="97.7" r="0.45" fill="#f0e048" opacity="0.95"/><circle cx="290.4" cy="78.0" r="0.85" fill="#f0e048" opacity="0.91"/><circle cx="288.4" cy="75.5" r="0.92" fill="#f0e048" opacity="0.84"/><circle cx="301.6" cy="99.0" r="0.42" fill="#f0e048" opacity="0.39"/><circle cx="300.1" cy="88.4" r="0.47" fill="#f0e048" opacity="0.46"/><circle cx="289.8" cy="91.5" r="0.80" fill="#f0e048" opacity="0.98"/><circle cx="297.0" cy="100.7" r="0.66" fill="#f0e048" opacity="0.60"/><circle cx="287.3" cy="80.4" r="0.98" fill="#f0e048" opacity="1.00"/><circle cx="295.4" cy="75.6" r="0.51" fill="#f0e048" opacity="0.45"/><circle cx="294.4" cy="93.9" r="0.44" fill="#f0e048" opacity="0.69"/><circle cx="296.6" cy="94.8" r="0.75" fill="#f0e048" opacity="0.64"/><circle cx="303.1" cy="86.4" r="0.60" fill="#f0e048" opacity="0.61"/><circle cx="303.4" cy="85.0" r="0.49" fill="#f0e048" opacity="0.46"/><circle cx="294.5" cy="92.4" r="0.40" fill="#f0e048" opacity="0.87"/><circle cx="300.4" cy="84.6" r="0.40" fill="#f0e048" opacity="0.87"/><circle cx="294.9" cy="91.6" r="0.74" fill="#f0e048" opacity="0.82"/><circle cx="297.8" cy="99.8" r="0.97" fill="#f0e048" opacity="0.95"/><circle cx="295.1" cy="80.2" r="0.63" fill="#f0e048" opacity="0.52"/><circle cx="305.5" cy="91.6" r="0.87" fill="#f0e048" opacity="0.88"/><circle cx="294.0" cy="94.7" r="0.56" fill="#f0e048" opacity="0.75"/><circle cx="291.9" cy="98.7" r="0.69" fill="#f0e048" opacity="0.53"/><circle cx="290.8" cy="96.0" r="0.74" fill="#f0e048" opacity="0.94"/><circle cx="296.0" cy="73.1" r="0.57" fill="#f0e048" opacity="0.42"/><circle cx="301.3" cy="82.0" r="0.84" fill="#f0e048" opacity="0.52"/><circle cx="300.7" cy="88.8" r="0.46" fill="#f0e048" opacity="0.67"/><circle cx="296.1" cy="76.6" r="0.79" fill="#f0e048" opacity="0.53"/><circle cx="296.6" cy="98.9" r="0.97" fill="#f0e048" opacity="1.00"/><circle cx="303.4" cy="91.3" r="0.67" fill="#f0e048" opacity="0.91"/><circle cx="297.5" cy="99.6" r="0.68" fill="#f0e048" opacity="0.43"/><circle cx="295.9" cy="74.5" r="0.81" fill="#f0e048" opacity="0.38"/><circle cx="304.6" cy="83.9" r="0.84" fill="#f0e048" opacity="0.44"/><circle cx="296.2" cy="81.8" r="0.55" fill="#f0e048" opacity="0.88"/><circle cx="285.6" cy="88.8" r="0.45" fill="#f0e048" opacity="0.90"/><circle cx="301.3" cy="91.1" r="0.61" fill="#f0e048" opacity="0.96"/><circle cx="285.0" cy="78.2" r="0.89" fill="#f0e048" opacity="0.43"/><circle cx="288.8" cy="88.4" r="0.60" fill="#f0e048" opacity="0.46"/><circle cx="302.8" cy="82.5" r="0.87" fill="#f0e048" opacity="0.51"/><circle cx="299.8" cy="75.5" r="0.94" fill="#f0e048" opacity="0.75"/><circle cx="301.0" cy="82.1" r="0.46" fill="#f0e048" opacity="0.94"/><circle cx="302.5" cy="89.2" r="0.85" fill="#f0e048" opacity="0.50"/><circle cx="297.4" cy="95.6" r="0.98" fill="#f0e048" opacity="0.95"/><circle cx="290.2" cy="93.8" r="0.73" fill="#f0e048" opacity="0.61"/><circle cx="284.7" cy="78.3" r="0.68" fill="#f0e048" opacity="0.67"/><circle cx="289.0" cy="84.1" r="0.73" fill="#f0e048" opacity="0.85"/><circle cx="293.0" cy="76.1" r="0.93" fill="#f0e048" opacity="0.59"/><circle cx="288.7" cy="91.0" r="0.98" fill="#f0e048" opacity="0.60"/><circle cx="293.8" cy="80.6" r="0.42" fill="#f0e048" opacity="0.48"/><circle cx="285.4" cy="82.7" r="0.78" fill="#f0e048" opacity="0.72"/><circle cx="305.3" cy="88.3" r="0.62" fill="#f0e048" opacity="0.97"/><circle cx="303.5" cy="88.5" r="0.62" fill="#f0e048" opacity="0.74"/><circle cx="292.8" cy="77.5" r="0.70" fill="#f0e048" opacity="0.43"/><circle cx="303.0" cy="88.6" r="0.81" fill="#f0e048" opacity="0.95"/><circle cx="285.4" cy="87.3" r="0.98" fill="#f0e048" opacity="0.55"/></g><ellipse cx="292.4" cy="87.0" rx="3.4" ry="5.6" fill="#2e6a90" opacity="0.5" filter="url(#b1)" transform="rotate(-20 292.4 87.0)"/><ellipse cx="273.0" cy="83.8" rx="8.969999999999999" ry="8.969999999999999" fill="#4a8c16" opacity="0.39" filter="url(#b2)"/><ellipse cx="273.0" cy="83.8" rx="6.0" ry="5.6" fill="none" stroke="#b0c828" stroke-width="1.6" opacity="0.22" filter="url(#b15)"/><g filter="url(#b05)"><circle cx="274.3" cy="74.6" r="0.65" fill="#f0e048" opacity="0.66"/><circle cx="274.7" cy="89.9" r="0.41" fill="#f0e048" opacity="0.34"/><circle cx="267.0" cy="90.0" r="0.46" fill="#f0e048" opacity="0.67"/><circle cx="268.6" cy="90.9" r="0.71" fill="#f0e048" opacity="0.39"/><circle cx="281.7" cy="82.0" r="0.82" fill="#f0e048" opacity="0.28"/><circle cx="265.7" cy="88.4" r="0.56" fill="#f0e048" opacity="0.31"/><circle cx="270.5" cy="86.8" r="0.97" fill="#f0e048" opacity="0.70"/><circle cx="275.9" cy="77.5" r="0.84" fill="#f0e048" opacity="0.50"/><circle cx="270.4" cy="91.3" r="0.55" fill="#f0e048" opacity="0.31"/><circle cx="266.6" cy="77.2" r="0.75" fill="#f0e048" opacity="0.61"/><circle cx="266.6" cy="83.9" r="0.74" fill="#f0e048" opacity="0.50"/><circle cx="271.6" cy="78.9" r="0.85" fill="#f0e048" opacity="0.36"/><circle cx="279.1" cy="79.0" r="0.46" fill="#f0e048" opacity="0.46"/><circle cx="270.9" cy="80.7" r="0.86" fill="#f0e048" opacity="0.35"/><circle cx="276.2" cy="90.1" r="0.67" fill="#f0e048" opacity="0.47"/><circle cx="280.9" cy="85.7" r="0.51" fill="#f0e048" opacity="0.28"/><circle cx="265.2" cy="80.6" r="0.45" fill="#f0e048" opacity="0.54"/><circle cx="271.6" cy="80.2" r="0.71" fill="#f0e048" opacity="0.67"/><circle cx="268.2" cy="77.3" r="0.58" fill="#f0e048" opacity="0.39"/><circle cx="280.7" cy="87.7" r="0.66" fill="#f0e048" opacity="0.32"/><circle cx="279.5" cy="86.6" r="0.49" fill="#f0e048" opacity="0.53"/><circle cx="264.7" cy="83.9" r="0.60" fill="#f0e048" opacity="0.29"/><circle cx="277.5" cy="87.9" r="0.71" fill="#f0e048" opacity="0.32"/></g><ellipse cx="273.0" cy="83.8" rx="4.2" ry="3.4" fill="#2e6a90" opacity="0.5" filter="url(#b1)"/><ellipse cx="263.5" cy="98.6" rx="11.5" ry="10.35" fill="#4a8c16" opacity="0.44" filter="url(#b2)"/><ellipse cx="263.5" cy="98.6" rx="7.8" ry="6.6" fill="none" stroke="#b0c828" stroke-width="1.9" opacity="0.26" filter="url(#b15)"/><g filter="url(#b05)"><circle cx="267.6" cy="97.2" r="0.80" fill="#f0e048" opacity="0.33"/><circle cx="256.8" cy="96.4" r="0.52" fill="#f0e048" opacity="0.33"/><circle cx="259.5" cy="93.6" r="0.80" fill="#f0e048" opacity="0.40"/><circle cx="261.1" cy="102.7" r="0.66" fill="#f0e048" opacity="0.36"/><circle cx="253.2" cy="99.5" r="0.99" fill="#f0e048" opacity="0.76"/><circle cx="253.9" cy="98.6" r="0.69" fill="#f0e048" opacity="0.38"/><circle cx="267.6" cy="98.5" r="0.89" fill="#f0e048" opacity="0.43"/><circle cx="262.9" cy="90.9" r="0.69" fill="#f0e048" opacity="0.35"/><circle cx="268.0" cy="102.9" r="0.75" fill="#f0e048" opacity="0.79"/><circle cx="270.7" cy="90.2" r="0.59" fill="#f0e048" opacity="0.31"/><circle cx="265.5" cy="103.4" r="0.61" fill="#f0e048" opacity="0.64"/><circle cx="260.3" cy="103.2" r="0.57" fill="#f0e048" opacity="0.79"/><circle cx="253.7" cy="103.5" r="0.92" fill="#f0e048" opacity="0.61"/><circle cx="268.7" cy="90.3" r="0.63" fill="#f0e048" opacity="0.63"/><circle cx="260.0" cy="106.7" r="1.00" fill="#f0e048" opacity="0.45"/><circle cx="273.3" cy="104.8" r="0.92" fill="#f0e048" opacity="0.59"/><circle cx="274.8" cy="101.7" r="0.97" fill="#f0e048" opacity="0.57"/><circle cx="256.2" cy="99.0" r="0.69" fill="#f0e048" opacity="0.46"/><circle cx="265.6" cy="92.6" r="0.57" fill="#f0e048" opacity="0.54"/><circle cx="267.4" cy="91.8" r="0.72" fill="#f0e048" opacity="0.42"/><circle cx="270.0" cy="103.0" r="0.87" fill="#f0e048" opacity="0.55"/><circle cx="257.5" cy="107.8" r="0.71" fill="#f0e048" opacity="0.48"/><circle cx="258.5" cy="96.5" r="0.83" fill="#f0e048" opacity="0.71"/><circle cx="263.1" cy="103.6" r="0.53" fill="#f0e048" opacity="0.52"/><circle cx="260.1" cy="94.4" r="0.62" fill="#f0e048" opacity="0.67"/><circle cx="269.1" cy="92.3" r="0.54" fill="#f0e048" opacity="0.69"/><circle cx="267.2" cy="102.4" r="0.78" fill="#f0e048" opacity="0.64"/><circle cx="258.0" cy="89.1" r="0.62" fill="#f0e048" opacity="0.30"/><circle cx="274.6" cy="99.1" r="0.80" fill="#f0e048" opacity="0.78"/><circle cx="270.8" cy="92.8" r="0.60" fill="#f0e048" opacity="0.34"/><circle cx="270.6" cy="103.7" r="0.69" fill="#f0e048" opacity="0.47"/><circle cx="258.0" cy="98.3" r="0.83" fill="#f0e048" opacity="0.75"/><circle cx="255.9" cy="91.2" r="0.57" fill="#f0e048" opacity="0.76"/><circle cx="272.0" cy="95.0" r="0.91" fill="#f0e048" opacity="0.74"/><circle cx="261.8" cy="92.0" r="0.86" fill="#f0e048" opacity="0.47"/><circle cx="265.8" cy="93.3" r="0.41" fill="#f0e048" opacity="0.48"/><circle cx="260.4" cy="104.2" r="0.60" fill="#f0e048" opacity="0.63"/><circle cx="266.5" cy="91.9" r="0.41" fill="#f0e048" opacity="0.63"/><circle cx="266.2" cy="94.1" r="0.52" fill="#f0e048" opacity="0.72"/></g><ellipse cx="261.7" cy="95.1" rx="5.7" ry="4.2" fill="#2e6a90" opacity="0.5" filter="url(#b1)"/><ellipse cx="234.2" cy="91.8" rx="9.774999999999999" ry="9.774999999999999" fill="#4a8c16" opacity="0.3" filter="url(#b2)"/><ellipse cx="234.2" cy="91.8" rx="6.5" ry="6.2" fill="none" stroke="#b0c828" stroke-width="1.8" opacity="0.18" filter="url(#b15)"/><g filter="url(#b05)"><circle cx="242.5" cy="86.4" r="0.75" fill="#f0e048" opacity="0.40"/><circle cx="230.6" cy="82.3" r="0.60" fill="#f0e048" opacity="0.42"/><circle cx="226.5" cy="85.9" r="0.59" fill="#f0e048" opacity="0.34"/><circle cx="231.4" cy="100.0" r="0.47" fill="#f0e048" opacity="0.55"/><circle cx="228.9" cy="99.1" r="0.55" fill="#f0e048" opacity="0.40"/><circle cx="231.7" cy="82.4" r="0.88" fill="#f0e048" opacity="0.48"/><circle cx="229.5" cy="97.4" r="0.69" fill="#f0e048" opacity="0.55"/><circle cx="225.1" cy="89.4" r="0.54" fill="#f0e048" opacity="0.42"/><circle cx="239.9" cy="98.8" r="0.73" fill="#f0e048" opacity="0.33"/><circle cx="240.3" cy="83.7" r="0.56" fill="#f0e048" opacity="0.46"/><circle cx="233.0" cy="101.9" r="0.45" fill="#f0e048" opacity="0.36"/><circle cx="234.4" cy="87.5" r="0.82" fill="#f0e048" opacity="0.38"/><circle cx="231.6" cy="99.2" r="0.53" fill="#f0e048" opacity="0.51"/><circle cx="231.3" cy="88.4" r="0.77" fill="#f0e048" opacity="0.39"/><circle cx="229.8" cy="83.3" r="0.97" fill="#f0e048" opacity="0.32"/><circle cx="226.3" cy="95.0" r="0.72" fill="#f0e048" opacity="0.31"/><circle cx="230.7" cy="98.8" r="0.60" fill="#f0e048" opacity="0.34"/><circle cx="243.5" cy="89.0" r="0.64" fill="#f0e048" opacity="0.25"/><circle cx="237.5" cy="95.2" r="0.67" fill="#f0e048" opacity="0.34"/><circle cx="228.7" cy="97.7" r="0.67" fill="#f0e048" opacity="0.49"/><circle cx="231.6" cy="96.6" r="0.42" fill="#f0e048" opacity="0.27"/></g><ellipse cx="234.2" cy="91.8" rx="4.5" ry="4" fill="#2e6a90" opacity="0.5" filter="url(#b1)"/><ellipse cx="240.7" cy="116.1" rx="12.075" ry="10.35" fill="#4a8c16" opacity="0.47" filter="url(#b2)"/><ellipse cx="240.7" cy="116.1" rx="7.7" ry="6.5" fill="none" stroke="#b0c828" stroke-width="2.6" opacity="0.27" filter="url(#b15)"/><g filter="url(#b05)"><circle cx="252.3" cy="120.0" r="0.81" fill="#f0e048" opacity="0.57"/><circle cx="240.0" cy="109.6" r="0.50" fill="#f0e048" opacity="0.65"/><circle cx="245.6" cy="110.9" r="0.79" fill="#f0e048" opacity="0.37"/><circle cx="243.5" cy="109.0" r="0.71" fill="#f0e048" opacity="0.47"/><circle cx="242.0" cy="108.2" r="0.69" fill="#f0e048" opacity="0.64"/><circle cx="231.5" cy="112.0" r="0.81" fill="#f0e048" opacity="0.60"/><circle cx="243.6" cy="122.1" r="0.74" fill="#f0e048" opacity="0.42"/><circle cx="239.3" cy="123.2" r="0.74" fill="#f0e048" opacity="0.71"/><circle cx="244.6" cy="107.6" r="0.77" fill="#f0e048" opacity="0.32"/><circle cx="246.4" cy="111.1" r="0.91" fill="#f0e048" opacity="0.40"/><circle cx="249.0" cy="116.5" r="0.41" fill="#f0e048" opacity="0.79"/><circle cx="239.2" cy="123.2" r="0.81" fill="#f0e048" opacity="0.59"/><circle cx="249.8" cy="109.7" r="0.94" fill="#f0e048" opacity="0.48"/><circle cx="243.8" cy="107.9" r="0.50" fill="#f0e048" opacity="0.46"/><circle cx="235.1" cy="125.2" r="0.94" fill="#f0e048" opacity="0.78"/><circle cx="253.0" cy="114.8" r="0.88" fill="#f0e048" opacity="0.45"/><circle cx="246.6" cy="110.2" r="0.45" fill="#f0e048" opacity="0.81"/><circle cx="245.7" cy="115.3" r="0.87" fill="#f0e048" opacity="0.55"/><circle cx="235.2" cy="121.4" r="0.90" fill="#f0e048" opacity="0.43"/><circle cx="245.6" cy="113.9" r="0.53" fill="#f0e048" opacity="0.42"/><circle cx="252.1" cy="113.3" r="0.71" fill="#f0e048" opacity="0.57"/><circle cx="246.9" cy="124.2" r="0.61" fill="#f0e048" opacity="0.41"/><circle cx="236.9" cy="121.1" r="0.79" fill="#f0e048" opacity="0.52"/><circle cx="241.3" cy="108.6" r="0.95" fill="#f0e048" opacity="0.56"/><circle cx="240.9" cy="122.3" r="0.52" fill="#f0e048" opacity="0.70"/><circle cx="237.0" cy="122.8" r="0.46" fill="#f0e048" opacity="0.45"/><circle cx="233.6" cy="114.7" r="0.40" fill="#f0e048" opacity="0.74"/><circle cx="234.5" cy="123.2" r="0.73" fill="#f0e048" opacity="0.63"/><circle cx="243.9" cy="108.0" r="0.87" fill="#f0e048" opacity="0.46"/><circle cx="249.8" cy="122.3" r="0.81" fill="#f0e048" opacity="0.75"/><circle cx="239.1" cy="119.8" r="0.97" fill="#f0e048" opacity="0.40"/><circle cx="230.6" cy="114.2" r="0.71" fill="#f0e048" opacity="0.38"/><circle cx="233.7" cy="124.0" r="0.63" fill="#f0e048" opacity="0.38"/><circle cx="232.7" cy="117.8" r="0.51" fill="#f0e048" opacity="0.56"/><circle cx="240.8" cy="123.4" r="0.41" fill="#f0e048" opacity="0.81"/><circle cx="247.4" cy="117.6" r="0.72" fill="#f0e048" opacity="0.42"/><circle cx="247.8" cy="111.9" r="0.84" fill="#f0e048" opacity="0.42"/><circle cx="242.5" cy="119.3" r="0.62" fill="#f0e048" opacity="0.56"/><circle cx="229.7" cy="119.2" r="0.81" fill="#f0e048" opacity="0.38"/><circle cx="242.0" cy="121.1" r="0.46" fill="#f0e048" opacity="0.76"/><circle cx="234.4" cy="107.1" r="0.55" fill="#f0e048" opacity="0.35"/><circle cx="240.4" cy="110.7" r="0.58" fill="#f0e048" opacity="0.55"/><circle cx="237.5" cy="122.3" r="0.83" fill="#f0e048" opacity="0.36"/><circle cx="236.4" cy="107.6" r="0.82" fill="#f0e048" opacity="0.73"/></g><ellipse cx="240.7" cy="116.1" rx="4.8" ry="4" fill="#2e6a90" opacity="0.5" filter="url(#b1)"/><ellipse cx="264.5" cy="118.6" rx="10.35" ry="11.5" fill="#4a8c16" opacity="0.5" filter="url(#b2)"/><ellipse cx="264.5" cy="118.6" rx="6.6" ry="7.4" fill="none" stroke="#b0c828" stroke-width="2.2" opacity="0.29" filter="url(#b15)"/><g filter="url(#b05)"><circle cx="262.6" cy="128.9" r="0.64" fill="#f0e048" opacity="0.50"/><circle cx="263.1" cy="125.0" r="0.90" fill="#f0e048" opacity="0.59"/><circle cx="257.5" cy="116.4" r="0.93" fill="#f0e048" opacity="0.55"/><circle cx="268.0" cy="120.0" r="0.68" fill="#f0e048" opacity="0.65"/><circle cx="259.0" cy="120.0" r="0.92" fill="#f0e048" opacity="0.36"/><circle cx="261.7" cy="127.7" r="0.99" fill="#f0e048" opacity="0.32"/><circle cx="267.2" cy="121.8" r="0.91" fill="#f0e048" opacity="0.59"/><circle cx="256.5" cy="113.8" r="0.83" fill="#f0e048" opacity="0.74"/><circle cx="258.1" cy="122.0" r="0.79" fill="#f0e048" opacity="0.70"/><circle cx="254.2" cy="117.2" r="0.59" fill="#f0e048" opacity="0.66"/><circle cx="261.0" cy="109.7" r="0.80" fill="#f0e048" opacity="0.48"/><circle cx="270.8" cy="113.9" r="0.73" fill="#f0e048" opacity="0.79"/><circle cx="256.2" cy="124.1" r="0.44" fill="#f0e048" opacity="0.86"/><circle cx="261.7" cy="110.9" r="0.64" fill="#f0e048" opacity="0.61"/><circle cx="262.7" cy="109.5" r="0.71" fill="#f0e048" opacity="0.49"/><circle cx="274.6" cy="115.8" r="0.66" fill="#f0e048" opacity="0.45"/><circle cx="267.7" cy="126.6" r="0.64" fill="#f0e048" opacity="0.76"/><circle cx="259.7" cy="109.2" r="0.43" fill="#f0e048" opacity="0.58"/><circle cx="272.6" cy="111.5" r="0.66" fill="#f0e048" opacity="0.76"/><circle cx="259.7" cy="110.3" r="0.71" fill="#f0e048" opacity="0.56"/><circle cx="258.8" cy="120.1" r="0.65" fill="#f0e048" opacity="0.33"/><circle cx="263.3" cy="128.6" r="0.58" fill="#f0e048" opacity="0.66"/><circle cx="269.0" cy="108.1" r="0.95" fill="#f0e048" opacity="0.38"/><circle cx="260.2" cy="123.8" r="0.41" fill="#f0e048" opacity="0.53"/><circle cx="256.4" cy="118.0" r="0.41" fill="#f0e048" opacity="0.40"/><circle cx="264.9" cy="109.9" r="0.89" fill="#f0e048" opacity="0.56"/><circle cx="259.1" cy="112.4" r="0.90" fill="#f0e048" opacity="0.34"/><circle cx="269.7" cy="108.9" r="0.97" fill="#f0e048" opacity="0.55"/><circle cx="266.6" cy="127.3" r="0.46" fill="#f0e048" opacity="0.35"/><circle cx="268.7" cy="120.7" r="0.83" fill="#f0e048" opacity="0.48"/><circle cx="264.4" cy="111.1" r="0.66" fill="#f0e048" opacity="0.48"/><circle cx="266.4" cy="113.8" r="0.56" fill="#f0e048" opacity="0.69"/><circle cx="264.4" cy="112.1" r="0.47" fill="#f0e048" opacity="0.61"/><circle cx="264.6" cy="123.9" r="0.62" fill="#f0e048" opacity="0.56"/><circle cx="273.0" cy="113.2" r="0.99" fill="#f0e048" opacity="0.84"/><circle cx="259.3" cy="126.1" r="0.77" fill="#f0e048" opacity="0.43"/><circle cx="271.2" cy="120.0" r="0.45" fill="#f0e048" opacity="0.82"/><circle cx="257.5" cy="112.8" r="0.77" fill="#f0e048" opacity="0.43"/><circle cx="263.7" cy="123.7" r="0.46" fill="#f0e048" opacity="0.70"/><circle cx="256.0" cy="118.0" r="0.79" fill="#f0e048" opacity="0.72"/><circle cx="274.4" cy="116.0" r="0.65" fill="#f0e048" opacity="0.53"/><circle cx="268.7" cy="124.4" r="0.79" fill="#f0e048" opacity="0.55"/><circle cx="275.1" cy="117.8" r="0.90" fill="#f0e048" opacity="0.46"/><circle cx="269.7" cy="123.8" r="0.96" fill="#f0e048" opacity="0.80"/></g><ellipse cx="265.7" cy="112.8" rx="4.2" ry="4.8" fill="#2e6a90" opacity="0.5" filter="url(#b1)"/><ellipse cx="248.7" cy="125.1" rx="8.049999999999999" ry="5.75" fill="#4a8c16" opacity="0.28" filter="url(#b2)"/><ellipse cx="248.7" cy="125.1" rx="5.9" ry="4.5" fill="none" stroke="#b0c828" stroke-width="1.0" opacity="0.16" filter="url(#b15)"/><g filter="url(#b05)"><circle cx="255.1" cy="122.3" r="0.87" fill="#f0e048" opacity="0.33"/><circle cx="245.5" cy="123.5" r="0.88" fill="#f0e048" opacity="0.45"/><circle cx="254.5" cy="127.1" r="0.50" fill="#f0e048" opacity="0.23"/><circle cx="249.8" cy="121.6" r="0.60" fill="#f0e048" opacity="0.21"/><circle cx="242.9" cy="127.7" r="0.53" fill="#f0e048" opacity="0.45"/><circle cx="245.8" cy="129.3" r="0.58" fill="#f0e048" opacity="0.26"/><circle cx="246.9" cy="119.2" r="0.66" fill="#f0e048" opacity="0.30"/><circle cx="242.0" cy="127.6" r="0.75" fill="#f0e048" opacity="0.34"/><circle cx="244.4" cy="122.5" r="0.98" fill="#f0e048" opacity="0.30"/></g><ellipse cx="248.7" cy="125.1" rx="4.8" ry="4" fill="#2e6a90" opacity="0.5" filter="url(#b1)"/><ellipse cx="285.9" cy="112.8" rx="9.2" ry="9.2" fill="#4a8c16" opacity="0.14" filter="url(#b2)"/><ellipse cx="285.9" cy="112.8" rx="6.8" ry="6.8" fill="none" stroke="#b0c828" stroke-width="1.1" opacity="0.08" filter="url(#b15)"/><g filter="url(#b05)"><circle cx="291.8" cy="116.6" r="0.73" fill="#f0e048" opacity="0.22"/><circle cx="279.3" cy="113.6" r="0.56" fill="#f0e048" opacity="0.15"/><circle cx="280.0" cy="116.8" r="0.74" fill="#f0e048" opacity="0.21"/><circle cx="288.4" cy="114.7" r="0.95" fill="#f0e048" opacity="0.22"/><circle cx="287.2" cy="109.5" r="0.96" fill="#f0e048" opacity="0.15"/><circle cx="278.3" cy="109.6" r="0.82" fill="#f0e048" opacity="0.24"/><circle cx="288.7" cy="115.9" r="0.96" fill="#f0e048" opacity="0.21"/><circle cx="290.9" cy="109.3" r="0.47" fill="#f0e048" opacity="0.19"/></g><ellipse cx="285.9" cy="112.8" rx="5.5" ry="5.5" fill="#2e6a90" opacity="0.5" filter="url(#b1)"/><ellipse cx="300.4" cy="111.2" rx="9.2" ry="10.35" fill="#4a8c16" opacity="0.19" filter="url(#b2)"/><ellipse cx="300.4" cy="111.2" rx="6.5" ry="7.0" fill="none" stroke="#b0c828" stroke-width="1.4" opacity="0.11" filter="url(#b15)"/><g filter="url(#b05)"><circle cx="306.3" cy="105.8" r="0.81" fill="#f0e048" opacity="0.33"/><circle cx="300.3" cy="107.6" r="0.97" fill="#f0e048" opacity="0.35"/><circle cx="299.4" cy="117.5" r="0.78" fill="#f0e048" opacity="0.16"/><circle cx="292.3" cy="110.2" r="0.41" fill="#f0e048" opacity="0.23"/><circle cx="298.7" cy="121.0" r="0.65" fill="#f0e048" opacity="0.32"/><circle cx="305.8" cy="113.1" r="0.54" fill="#f0e048" opacity="0.19"/><circle cx="297.0" cy="113.5" r="1.00" fill="#f0e048" opacity="0.17"/><circle cx="298.9" cy="118.5" r="0.82" fill="#f0e048" opacity="0.34"/><circle cx="306.9" cy="113.1" r="0.75" fill="#f0e048" opacity="0.13"/><circle cx="298.2" cy="106.1" r="0.77" fill="#f0e048" opacity="0.14"/><circle cx="292.8" cy="116.2" r="0.88" fill="#f0e048" opacity="0.26"/><circle cx="293.0" cy="113.3" r="0.92" fill="#f0e048" opacity="0.35"/><circle cx="307.7" cy="114.8" r="0.57" fill="#f0e048" opacity="0.33"/></g><ellipse cx="300.4" cy="111.2" rx="5" ry="5" fill="#2e6a90" opacity="0.5" filter="url(#b1)"/><ellipse cx="292.4" cy="124.1" rx="9.2" ry="8.049999999999999" fill="#4a8c16" opacity="0.14" filter="url(#b2)"/><ellipse cx="292.4" cy="124.1" rx="6.5" ry="6.0" fill="none" stroke="#b0c828" stroke-width="1.4" opacity="0.08" filter="url(#b15)"/><g filter="url(#b05)"><circle cx="287.6" cy="125.4" r="0.63" fill="#f0e048" opacity="0.14"/><circle cx="297.4" cy="126.1" r="0.60" fill="#f0e048" opacity="0.18"/><circle cx="300.6" cy="125.2" r="0.95" fill="#f0e048" opacity="0.18"/><circle cx="296.3" cy="131.6" r="0.41" fill="#f0e048" opacity="0.14"/><circle cx="295.2" cy="129.1" r="0.54" fill="#f0e048" opacity="0.15"/><circle cx="287.1" cy="127.5" r="0.72" fill="#f0e048" opacity="0.19"/><circle cx="289.0" cy="125.6" r="0.97" fill="#f0e048" opacity="0.21"/></g><ellipse cx="292.4" cy="124.1" rx="5" ry="5" fill="#2e6a90" opacity="0.5" filter="url(#b1)"/><ellipse cx="250.5" cy="77.6" rx="9.2" ry="8.049999999999999" fill="#4a8c16" opacity="0.22" filter="url(#b2)"/><ellipse cx="250.5" cy="77.6" rx="6.2" ry="5.5" fill="none" stroke="#b0c828" stroke-width="1.6" opacity="0.13" filter="url(#b15)"/><g filter="url(#b05)"><circle cx="247.5" cy="82.7" r="0.50" fill="#f0e048" opacity="0.29"/><circle cx="250.4" cy="84.9" r="0.50" fill="#f0e048" opacity="0.36"/><circle cx="247.2" cy="71.8" r="0.48" fill="#f0e048" opacity="0.22"/><circle cx="254.4" cy="79.0" r="0.47" fill="#f0e048" opacity="0.35"/><circle cx="250.6" cy="71.6" r="0.89" fill="#f0e048" opacity="0.35"/><circle cx="256.5" cy="73.0" r="0.40" fill="#f0e048" opacity="0.37"/><circle cx="255.6" cy="82.2" r="0.78" fill="#f0e048" opacity="0.36"/><circle cx="246.9" cy="80.7" r="0.81" fill="#f0e048" opacity="0.36"/><circle cx="251.8" cy="73.8" r="0.55" fill="#f0e048" opacity="0.28"/><circle cx="258.0" cy="73.3" r="0.82" fill="#f0e048" opacity="0.32"/><circle cx="243.2" cy="82.3" r="0.86" fill="#f0e048" opacity="0.22"/><circle cx="242.8" cy="73.9" r="0.86" fill="#f0e048" opacity="0.26"/></g><ellipse cx="250.5" cy="77.6" rx="4.5" ry="4" fill="#2e6a90" opacity="0.5" filter="url(#b1)"/></g>
<g clip-path="url(#c22)"><rect x="223.5" y="129.8" width="86.5" height="62.8" fill="#14240b"/><ellipse cx="257.5" cy="164.3" rx="44" ry="27" fill="#3a6410" opacity="0.4" filter="url(#b2)" transform="rotate(-16 257.5 164.3)"/><ellipse cx="259.5" cy="163.3" rx="25" ry="17.5" fill="#8a9a1c" opacity="0.6" filter="url(#b2)" transform="rotate(-16 259.5 163.3)"/><ellipse cx="259.5" cy="163.3" rx="16" ry="12.5" fill="none" stroke="#c8c430" stroke-width="5" opacity="0.6" filter="url(#b15)" transform="rotate(-16 260.5 162.3)"/><g filter="url(#b05)"><circle cx="272.8" cy="145.7" r="0.35" fill="#f4e448" opacity="0.48"/><circle cx="241.8" cy="177.4" r="0.35" fill="#f4e448" opacity="0.68"/><circle cx="237.1" cy="159.3" r="0.63" fill="#f4e448" opacity="0.82"/><circle cx="235.4" cy="163.4" r="0.42" fill="#f4e448" opacity="0.76"/><circle cx="274.1" cy="169.3" r="0.57" fill="#f4e448" opacity="0.70"/><circle cx="240.7" cy="163.6" r="0.45" fill="#f4e448" opacity="0.43"/><circle cx="269.5" cy="148.7" r="0.46" fill="#f4e448" opacity="0.43"/><circle cx="280.1" cy="162.0" r="0.54" fill="#f4e448" opacity="0.50"/><circle cx="276.1" cy="148.4" r="0.43" fill="#f4e448" opacity="0.32"/><circle cx="263.3" cy="171.8" r="0.38" fill="#f4e448" opacity="0.53"/><circle cx="284.8" cy="154.6" r="0.49" fill="#f4e448" opacity="0.80"/><circle cx="278.8" cy="152.3" r="0.36" fill="#f4e448" opacity="0.66"/><circle cx="276.8" cy="173.9" r="0.63" fill="#f4e448" opacity="0.45"/><circle cx="259.1" cy="154.5" r="0.52" fill="#f4e448" opacity="0.55"/><circle cx="281.6" cy="155.4" r="0.78" fill="#f4e448" opacity="0.34"/><circle cx="283.0" cy="161.3" r="0.74" fill="#f4e448" opacity="0.52"/><circle cx="281.1" cy="168.7" r="0.49" fill="#f4e448" opacity="0.79"/><circle cx="248.8" cy="175.4" r="0.53" fill="#f4e448" opacity="0.52"/><circle cx="248.4" cy="177.3" r="0.67" fill="#f4e448" opacity="0.31"/><circle cx="268.3" cy="175.1" r="0.77" fill="#f4e448" opacity="0.66"/><circle cx="249.8" cy="150.3" r="0.33" fill="#f4e448" opacity="0.59"/><circle cx="283.7" cy="152.3" r="0.48" fill="#f4e448" opacity="0.52"/><circle cx="254.2" cy="154.5" r="0.46" fill="#f4e448" opacity="0.57"/><circle cx="262.7" cy="180.1" r="0.58" fill="#f4e448" opacity="0.38"/><circle cx="255.7" cy="174.6" r="0.74" fill="#f4e448" opacity="0.40"/><circle cx="273.9" cy="156.2" r="0.57" fill="#f4e448" opacity="0.60"/><circle cx="270.8" cy="166.6" r="0.49" fill="#f4e448" opacity="0.85"/><circle cx="274.5" cy="150.7" r="0.33" fill="#f4e448" opacity="0.61"/><circle cx="265.4" cy="150.3" r="0.32" fill="#f4e448" opacity="0.57"/><circle cx="264.5" cy="152.6" r="0.52" fill="#f4e448" opacity="0.40"/><circle cx="241.6" cy="155.5" r="0.71" fill="#f4e448" opacity="0.54"/><circle cx="269.7" cy="153.8" r="0.70" fill="#f4e448" opacity="0.64"/><circle cx="260.4" cy="150.4" r="0.79" fill="#f4e448" opacity="0.69"/><circle cx="238.8" cy="162.1" r="0.42" fill="#f4e448" opacity="0.80"/><circle cx="235.6" cy="167.3" r="0.73" fill="#f4e448" opacity="0.76"/><circle cx="269.4" cy="152.1" r="0.42" fill="#f4e448" opacity="0.71"/><circle cx="252.7" cy="173.1" r="0.47" fill="#f4e448" opacity="0.74"/><circle cx="267.4" cy="172.5" r="0.79" fill="#f4e448" opacity="0.50"/><circle cx="272.1" cy="151.9" r="0.40" fill="#f4e448" opacity="0.76"/><circle cx="265.6" cy="170.7" r="0.54" fill="#f4e448" opacity="0.27"/><circle cx="271.2" cy="148.4" r="0.54" fill="#f4e448" opacity="0.25"/><circle cx="250.1" cy="171.6" r="0.68" fill="#f4e448" opacity="0.66"/><circle cx="260.0" cy="171.4" r="0.63" fill="#f4e448" opacity="0.38"/><circle cx="268.9" cy="148.3" r="0.46" fill="#f4e448" opacity="0.47"/><circle cx="238.8" cy="162.7" r="0.66" fill="#f4e448" opacity="0.63"/><circle cx="246.5" cy="175.2" r="0.36" fill="#f4e448" opacity="0.74"/><circle cx="248.2" cy="166.4" r="0.44" fill="#f4e448" opacity="0.82"/><circle cx="280.2" cy="148.3" r="0.67" fill="#f4e448" opacity="0.70"/><circle cx="261.1" cy="152.7" r="0.77" fill="#f4e448" opacity="0.87"/><circle cx="248.5" cy="154.1" r="0.52" fill="#f4e448" opacity="0.83"/><circle cx="278.2" cy="148.5" r="0.41" fill="#f4e448" opacity="0.33"/><circle cx="250.0" cy="150.7" r="0.39" fill="#f4e448" opacity="0.41"/><circle cx="276.5" cy="166.3" r="0.47" fill="#f4e448" opacity="0.85"/><circle cx="275.7" cy="160.3" r="0.54" fill="#f4e448" opacity="0.46"/><circle cx="261.8" cy="146.5" r="0.76" fill="#f4e448" opacity="0.83"/><circle cx="247.8" cy="167.3" r="0.72" fill="#f4e448" opacity="0.48"/><circle cx="246.4" cy="171.2" r="0.51" fill="#f4e448" opacity="0.89"/><circle cx="247.0" cy="174.3" r="0.32" fill="#f4e448" opacity="0.43"/><circle cx="258.6" cy="150.3" r="0.70" fill="#f4e448" opacity="0.31"/><circle cx="270.3" cy="173.4" r="0.36" fill="#f4e448" opacity="0.39"/><circle cx="273.4" cy="157.4" r="0.77" fill="#f4e448" opacity="0.47"/><circle cx="260.1" cy="180.0" r="0.47" fill="#f4e448" opacity="0.88"/><circle cx="277.0" cy="146.0" r="0.57" fill="#f4e448" opacity="0.86"/><circle cx="276.7" cy="167.2" r="0.60" fill="#f4e448" opacity="0.31"/><circle cx="277.0" cy="166.2" r="0.46" fill="#f4e448" opacity="0.70"/><circle cx="258.6" cy="172.5" r="0.32" fill="#f4e448" opacity="0.86"/><circle cx="257.8" cy="174.7" r="0.54" fill="#f4e448" opacity="0.78"/><circle cx="251.0" cy="166.8" r="0.31" fill="#f4e448" opacity="0.57"/><circle cx="273.0" cy="167.5" r="0.60" fill="#f4e448" opacity="0.26"/><circle cx="281.1" cy="154.0" r="0.60" fill="#f4e448" opacity="0.78"/><circle cx="279.3" cy="148.1" r="0.32" fill="#f4e448" opacity="0.34"/><circle cx="242.4" cy="153.9" r="0.75" fill="#f4e448" opacity="0.68"/><circle cx="260.9" cy="148.0" r="0.51" fill="#f4e448" opacity="0.87"/><circle cx="279.9" cy="165.7" r="0.32" fill="#f4e448" opacity="0.70"/><circle cx="242.9" cy="167.8" r="0.70" fill="#f4e448" opacity="0.34"/><circle cx="278.5" cy="154.1" r="0.43" fill="#f4e448" opacity="0.41"/><circle cx="268.0" cy="175.2" r="0.56" fill="#f4e448" opacity="0.58"/><circle cx="247.3" cy="151.6" r="0.51" fill="#f4e448" opacity="0.27"/><circle cx="281.4" cy="155.7" r="0.74" fill="#f4e448" opacity="0.70"/><circle cx="274.6" cy="168.2" r="0.45" fill="#f4e448" opacity="0.72"/><circle cx="246.4" cy="168.5" r="0.60" fill="#f4e448" opacity="0.75"/><circle cx="242.3" cy="161.5" r="0.71" fill="#f4e448" opacity="0.77"/><circle cx="242.0" cy="152.5" r="0.66" fill="#f4e448" opacity="0.73"/><circle cx="270.8" cy="170.1" r="0.56" fill="#f4e448" opacity="0.62"/><circle cx="283.1" cy="161.5" r="0.63" fill="#f4e448" opacity="0.63"/><circle cx="262.8" cy="171.5" r="0.59" fill="#f4e448" opacity="0.33"/><circle cx="249.4" cy="164.1" r="0.46" fill="#f4e448" opacity="0.29"/><circle cx="245.1" cy="157.3" r="0.65" fill="#f4e448" opacity="0.77"/><circle cx="250.2" cy="176.7" r="0.73" fill="#f4e448" opacity="0.81"/><circle cx="242.2" cy="171.2" r="0.79" fill="#f4e448" opacity="0.71"/><circle cx="254.8" cy="150.3" r="0.33" fill="#f4e448" opacity="0.73"/><circle cx="262.2" cy="146.4" r="0.59" fill="#f4e448" opacity="0.52"/><circle cx="252.4" cy="181.1" r="0.67" fill="#f4e448" opacity="0.33"/><circle cx="245.3" cy="160.6" r="0.59" fill="#f4e448" opacity="0.46"/><circle cx="260.7" cy="174.3" r="0.39" fill="#f4e448" opacity="0.72"/><circle cx="256.6" cy="180.5" r="0.78" fill="#f4e448" opacity="0.46"/><circle cx="261.8" cy="146.9" r="0.51" fill="#f4e448" opacity="0.66"/><circle cx="265.8" cy="154.7" r="0.32" fill="#f4e448" opacity="0.33"/><circle cx="260.2" cy="149.7" r="0.45" fill="#f4e448" opacity="0.65"/><circle cx="280.7" cy="157.1" r="0.43" fill="#f4e448" opacity="0.63"/><circle cx="252.2" cy="175.6" r="0.38" fill="#f4e448" opacity="0.42"/><circle cx="261.6" cy="177.7" r="0.38" fill="#f4e448" opacity="0.38"/><circle cx="239.2" cy="157.4" r="0.47" fill="#f4e448" opacity="0.51"/><circle cx="272.5" cy="155.2" r="0.54" fill="#f4e448" opacity="0.51"/><circle cx="278.3" cy="172.7" r="0.51" fill="#f4e448" opacity="0.85"/><circle cx="252.2" cy="155.9" r="0.37" fill="#f4e448" opacity="0.83"/><circle cx="255.5" cy="171.4" r="0.53" fill="#f4e448" opacity="0.59"/><circle cx="242.6" cy="155.0" r="0.47" fill="#f4e448" opacity="0.69"/><circle cx="257.6" cy="144.0" r="0.66" fill="#f4e448" opacity="0.53"/><circle cx="236.5" cy="159.9" r="0.41" fill="#f4e448" opacity="0.78"/><circle cx="245.8" cy="158.5" r="0.44" fill="#f4e448" opacity="0.48"/><circle cx="278.0" cy="168.4" r="0.65" fill="#f4e448" opacity="0.83"/><circle cx="264.3" cy="146.3" r="0.32" fill="#f4e448" opacity="0.36"/><circle cx="248.7" cy="166.8" r="0.71" fill="#f4e448" opacity="0.63"/><circle cx="254.4" cy="154.1" r="0.79" fill="#f4e448" opacity="0.74"/><circle cx="247.9" cy="148.4" r="0.79" fill="#f4e448" opacity="0.42"/><circle cx="266.7" cy="155.0" r="0.74" fill="#f4e448" opacity="0.44"/><circle cx="269.5" cy="166.7" r="0.44" fill="#f4e448" opacity="0.43"/><circle cx="238.8" cy="172.8" r="0.47" fill="#f4e448" opacity="0.37"/><circle cx="261.7" cy="178.5" r="0.42" fill="#f4e448" opacity="0.36"/><circle cx="268.6" cy="166.0" r="0.56" fill="#f4e448" opacity="0.37"/><circle cx="241.6" cy="157.8" r="0.56" fill="#f4e448" opacity="0.56"/><circle cx="265.5" cy="169.6" r="0.75" fill="#f4e448" opacity="0.55"/><circle cx="243.7" cy="171.1" r="0.69" fill="#f4e448" opacity="0.33"/><circle cx="253.8" cy="177.7" r="0.64" fill="#f4e448" opacity="0.32"/><circle cx="272.8" cy="170.1" r="0.50" fill="#f4e448" opacity="0.35"/><circle cx="266.6" cy="153.6" r="0.37" fill="#f4e448" opacity="0.36"/><circle cx="251.8" cy="150.4" r="0.49" fill="#f4e448" opacity="0.61"/><circle cx="256.4" cy="180.2" r="0.73" fill="#f4e448" opacity="0.85"/><circle cx="274.1" cy="159.8" r="0.69" fill="#f4e448" opacity="0.62"/><circle cx="238.9" cy="159.1" r="0.35" fill="#f4e448" opacity="0.82"/><circle cx="250.7" cy="161.6" r="0.57" fill="#f4e448" opacity="0.32"/><circle cx="273.8" cy="169.9" r="0.70" fill="#f4e448" opacity="0.82"/><circle cx="247.8" cy="152.3" r="0.68" fill="#f4e448" opacity="0.70"/><circle cx="252.5" cy="158.6" r="0.38" fill="#f4e448" opacity="0.79"/><circle cx="261.7" cy="174.0" r="0.47" fill="#f4e448" opacity="0.46"/><circle cx="263.7" cy="170.8" r="0.74" fill="#f4e448" opacity="0.48"/><circle cx="269.2" cy="156.1" r="0.73" fill="#f4e448" opacity="0.74"/><circle cx="253.1" cy="179.2" r="0.70" fill="#f4e448" opacity="0.45"/><circle cx="276.3" cy="158.9" r="0.58" fill="#f4e448" opacity="0.60"/><circle cx="270.6" cy="164.8" r="0.70" fill="#f4e448" opacity="0.70"/><circle cx="270.9" cy="145.9" r="0.57" fill="#f4e448" opacity="0.75"/><circle cx="243.6" cy="168.2" r="0.75" fill="#f4e448" opacity="0.74"/><circle cx="276.5" cy="164.7" r="0.45" fill="#f4e448" opacity="0.73"/><circle cx="262.9" cy="173.1" r="0.48" fill="#f4e448" opacity="0.82"/><circle cx="266.7" cy="172.2" r="0.56" fill="#f4e448" opacity="0.87"/><circle cx="271.1" cy="158.9" r="0.72" fill="#f4e448" opacity="0.35"/><circle cx="254.6" cy="172.2" r="0.71" fill="#f4e448" opacity="0.49"/><circle cx="240.0" cy="170.9" r="0.46" fill="#f4e448" opacity="0.42"/><circle cx="253.6" cy="148.0" r="0.75" fill="#f4e448" opacity="0.79"/><circle cx="252.0" cy="168.7" r="0.47" fill="#f4e448" opacity="0.88"/><circle cx="240.1" cy="162.2" r="0.36" fill="#f4e448" opacity="0.52"/><circle cx="244.7" cy="149.8" r="0.56" fill="#f4e448" opacity="0.45"/><circle cx="263.3" cy="153.8" r="0.67" fill="#f4e448" opacity="0.70"/><circle cx="270.9" cy="158.2" r="0.53" fill="#f4e448" opacity="0.44"/><circle cx="237.2" cy="167.7" r="0.61" fill="#f4e448" opacity="0.37"/><circle cx="281.4" cy="168.5" r="0.54" fill="#f4e448" opacity="0.36"/><circle cx="251.5" cy="174.0" r="0.79" fill="#f4e448" opacity="0.32"/><circle cx="256.6" cy="179.2" r="0.46" fill="#f4e448" opacity="0.45"/><circle cx="268.3" cy="172.6" r="0.33" fill="#f4e448" opacity="0.60"/><circle cx="266.9" cy="178.1" r="0.43" fill="#f4e448" opacity="0.27"/><circle cx="268.8" cy="176.6" r="0.77" fill="#f4e448" opacity="0.82"/><circle cx="251.6" cy="177.2" r="0.31" fill="#f4e448" opacity="0.52"/><circle cx="249.5" cy="173.5" r="0.63" fill="#f4e448" opacity="0.31"/><circle cx="268.8" cy="154.1" r="0.37" fill="#f4e448" opacity="0.30"/><circle cx="261.4" cy="173.4" r="0.78" fill="#f4e448" opacity="0.85"/><circle cx="259.8" cy="153.8" r="0.56" fill="#f4e448" opacity="0.89"/><circle cx="273.7" cy="165.0" r="0.72" fill="#f4e448" opacity="0.52"/><circle cx="267.0" cy="173.9" r="0.40" fill="#f4e448" opacity="0.81"/><circle cx="237.1" cy="170.4" r="0.59" fill="#f4e448" opacity="0.35"/></g><g filter="url(#b05)"><circle cx="281.4" cy="143.9" r="0.45" fill="#e8a040" opacity="0.46"/><circle cx="264.2" cy="135.4" r="0.49" fill="#e8a040" opacity="0.65"/><circle cx="265.8" cy="172.1" r="0.47" fill="#e8a040" opacity="0.29"/><circle cx="262.7" cy="134.8" r="0.47" fill="#e8a040" opacity="0.47"/><circle cx="231.3" cy="156.7" r="0.74" fill="#e8a040" opacity="0.41"/><circle cx="270.2" cy="136.0" r="0.41" fill="#e8a040" opacity="0.56"/><circle cx="256.3" cy="172.1" r="0.41" fill="#e8a040" opacity="0.62"/><circle cx="231.5" cy="165.8" r="0.77" fill="#e8a040" opacity="0.49"/><circle cx="233.6" cy="158.7" r="0.65" fill="#e8a040" opacity="0.70"/><circle cx="287.5" cy="147.3" r="0.53" fill="#e8a040" opacity="0.36"/><circle cx="240.2" cy="166.7" r="0.90" fill="#e8a040" opacity="0.45"/><circle cx="282.4" cy="143.5" r="0.71" fill="#e8a040" opacity="0.68"/><circle cx="233.3" cy="153.6" r="0.89" fill="#e8a040" opacity="0.28"/><circle cx="284.6" cy="153.1" r="0.35" fill="#e8a040" opacity="0.29"/><circle cx="223.4" cy="160.2" r="0.36" fill="#e8a040" opacity="0.51"/><circle cx="259.7" cy="139.8" r="0.82" fill="#e8a040" opacity="0.46"/><circle cx="282.9" cy="139.9" r="0.69" fill="#e8a040" opacity="0.52"/><circle cx="242.2" cy="170.0" r="0.35" fill="#e8a040" opacity="0.37"/><circle cx="247.2" cy="173.1" r="0.63" fill="#e8a040" opacity="0.27"/><circle cx="270.2" cy="132.7" r="0.78" fill="#e8a040" opacity="0.45"/><circle cx="256.2" cy="175.3" r="0.86" fill="#e8a040" opacity="0.71"/><circle cx="272.2" cy="158.0" r="0.43" fill="#e8a040" opacity="0.27"/><circle cx="278.1" cy="155.1" r="0.70" fill="#e8a040" opacity="0.41"/><circle cx="244.1" cy="175.7" r="0.64" fill="#e8a040" opacity="0.26"/><circle cx="231.7" cy="170.7" r="0.80" fill="#e8a040" opacity="0.64"/><circle cx="269.2" cy="133.5" r="0.36" fill="#e8a040" opacity="0.30"/><circle cx="280.7" cy="161.2" r="0.63" fill="#e8a040" opacity="0.37"/><circle cx="285.1" cy="141.8" r="0.77" fill="#e8a040" opacity="0.65"/><circle cx="265.4" cy="172.4" r="0.78" fill="#e8a040" opacity="0.71"/><circle cx="267.7" cy="138.6" r="0.53" fill="#e8a040" opacity="0.42"/><circle cx="245.9" cy="140.5" r="0.90" fill="#e8a040" opacity="0.50"/><circle cx="270.1" cy="142.7" r="0.58" fill="#e8a040" opacity="0.62"/><circle cx="272.2" cy="166.2" r="0.52" fill="#e8a040" opacity="0.67"/><circle cx="237.8" cy="142.6" r="0.38" fill="#e8a040" opacity="0.61"/><circle cx="237.8" cy="168.8" r="0.80" fill="#e8a040" opacity="0.56"/><circle cx="268.2" cy="169.3" r="0.44" fill="#e8a040" opacity="0.38"/><circle cx="250.0" cy="136.3" r="0.52" fill="#e8a040" opacity="0.52"/><circle cx="258.1" cy="171.2" r="0.67" fill="#e8a040" opacity="0.57"/><circle cx="238.2" cy="165.9" r="0.42" fill="#e8a040" opacity="0.26"/><circle cx="248.4" cy="134.5" r="0.49" fill="#e8a040" opacity="0.44"/><circle cx="235.8" cy="148.5" r="0.53" fill="#e8a040" opacity="0.46"/><circle cx="280.2" cy="145.1" r="0.46" fill="#e8a040" opacity="0.66"/><circle cx="227.4" cy="154.2" r="0.69" fill="#e8a040" opacity="0.59"/><circle cx="241.5" cy="139.2" r="0.36" fill="#e8a040" opacity="0.67"/><circle cx="231.3" cy="154.2" r="0.46" fill="#e8a040" opacity="0.68"/></g><path d="M250.2,160.4 C250.2,154.5 257.3,152.5 262.6,155.5 C265.5,157.4 267.9,155.9 270.8,156.7 C273.8,157.9 273.8,165.2 271.4,168.7 C268.5,172.6 259.0,173.1 254.3,170.6 C250.2,168.5 250.2,164.8 250.2,160.4" fill="#3a66b0" opacity="0.95" filter="url(#b08)"/><ellipse cx="263.4" cy="164.3" rx="7" ry="5" fill="#5a80c0" opacity="0.45" filter="url(#b1)" transform="rotate(8 263.4 164.3)"/><ellipse cx="304.5" cy="143.8" rx="3.5" ry="5" fill="#2323b0" opacity="0.85" filter="url(#b1)"/></g>
<text x="64.70" y="10.80" font-size="5.8" textLength="10.60" lengthAdjust="spacingAndGlyphs" style="fill:#8aa044;stroke:#8aa044;font-weight:normal;stroke:none">FITC</text>
<text x="64.90" y="17.20" font-size="5.8" textLength="38.50" lengthAdjust="spacingAndGlyphs" style="fill:#9aa2ff;stroke:#9aa2ff;font-weight:normal;stroke:none">Hoechst 33342</text>
<text x="148.00" y="10.80" font-size="5.8" textLength="41.50" lengthAdjust="spacingAndGlyphs" style="fill:#e04440;stroke:#e04440;font-weight:normal;stroke:none">Alexa fluor 555</text>
<text x="149.00" y="17.20" font-size="5.8" textLength="38.50" lengthAdjust="spacingAndGlyphs" style="fill:#b0b8ff;stroke:#b0b8ff;font-weight:normal;stroke:none">Hoechst 33342</text>
<text x="231.00" y="11.20" font-size="6.0" textLength="19.00" lengthAdjust="spacingAndGlyphs" style="fill:#f0b060;stroke:#f0b060;font-weight:normal;stroke:none">Merge</text>
</svg>
</body></html>
